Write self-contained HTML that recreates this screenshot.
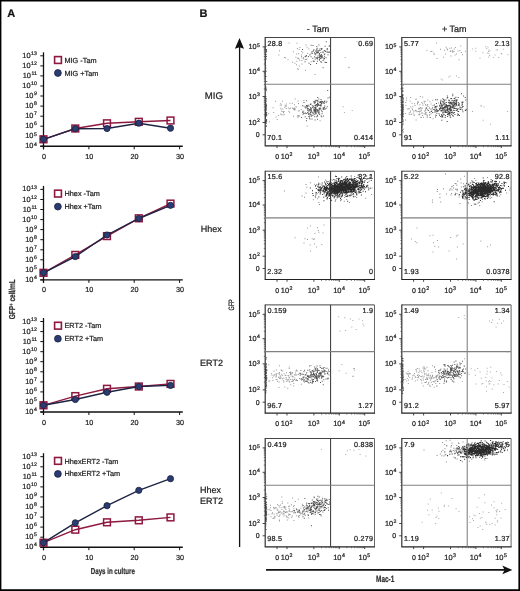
<!DOCTYPE html>
<html><head><meta charset="utf-8"><style>html,body{margin:0;padding:0;background:#fff}svg{display:block;will-change:transform;filter:blur(0.3px)} text{stroke:#222;stroke-width:0.22px;text-rendering:geometricPrecision}</style></head><body>
<svg width="520" height="591" viewBox="0 0 520 591" font-family='"Liberation Sans", sans-serif'>
<rect x="0" y="0" width="520" height="591" fill="#fff"/>
<path d="M0 0H520V591H0Z M1.4 1.5V589.3H518.4V1.5Z" fill="#000" fill-rule="evenodd"/>
<text x="7.2" y="17" font-size="11" font-weight="bold" fill="#111">A</text>
<text x="199.5" y="17.1" font-size="11" font-weight="bold" fill="#111">B</text>
<line x1="43.5" y1="52.3" x2="43.5" y2="149.3" stroke="#111" stroke-width="1.3"/>
<line x1="40.3" y1="146.3" x2="182.8" y2="146.3" stroke="#111" stroke-width="1.4"/>
<line x1="40.3" y1="55.8" x2="43.5" y2="55.8" stroke="#111" stroke-width="1"/>
<text x="36.9" y="57.8" text-anchor="end" font-size="7.4" fill="#222">10<tspan dx="0.6" dy="-2.8" font-size="5.2">13</tspan></text>
<line x1="40.3" y1="65.9" x2="43.5" y2="65.9" stroke="#111" stroke-width="1"/>
<text x="36.9" y="67.9" text-anchor="end" font-size="7.4" fill="#222">10<tspan dx="0.6" dy="-2.8" font-size="5.2">12</tspan></text>
<line x1="40.3" y1="75.9" x2="43.5" y2="75.9" stroke="#111" stroke-width="1"/>
<text x="36.9" y="77.9" text-anchor="end" font-size="7.4" fill="#222">10<tspan dx="0.6" dy="-2.8" font-size="5.2">11</tspan></text>
<line x1="40.3" y1="86.0" x2="43.5" y2="86.0" stroke="#111" stroke-width="1"/>
<text x="36.9" y="88.0" text-anchor="end" font-size="7.4" fill="#222">10<tspan dx="0.6" dy="-2.8" font-size="5.2">10</tspan></text>
<line x1="40.3" y1="96.0" x2="43.5" y2="96.0" stroke="#111" stroke-width="1"/>
<text x="36.9" y="98.0" text-anchor="end" font-size="7.4" fill="#222">10<tspan dx="0.6" dy="-2.8" font-size="5.2">9</tspan></text>
<line x1="40.3" y1="106.1" x2="43.5" y2="106.1" stroke="#111" stroke-width="1"/>
<text x="36.9" y="108.1" text-anchor="end" font-size="7.4" fill="#222">10<tspan dx="0.6" dy="-2.8" font-size="5.2">8</tspan></text>
<line x1="40.3" y1="116.2" x2="43.5" y2="116.2" stroke="#111" stroke-width="1"/>
<text x="36.9" y="118.2" text-anchor="end" font-size="7.4" fill="#222">10<tspan dx="0.6" dy="-2.8" font-size="5.2">7</tspan></text>
<line x1="40.3" y1="126.2" x2="43.5" y2="126.2" stroke="#111" stroke-width="1"/>
<text x="36.9" y="128.2" text-anchor="end" font-size="7.4" fill="#222">10<tspan dx="0.6" dy="-2.8" font-size="5.2">6</tspan></text>
<line x1="40.3" y1="136.3" x2="43.5" y2="136.3" stroke="#111" stroke-width="1"/>
<text x="36.9" y="138.3" text-anchor="end" font-size="7.4" fill="#222">10<tspan dx="0.6" dy="-2.8" font-size="5.2">5</tspan></text>
<line x1="40.3" y1="146.3" x2="43.5" y2="146.3" stroke="#111" stroke-width="1"/>
<text x="36.9" y="148.3" text-anchor="end" font-size="7.4" fill="#222">10<tspan dx="0.6" dy="-2.8" font-size="5.2">4</tspan></text>
<line x1="43.5" y1="146.3" x2="43.5" y2="149.3" stroke="#111" stroke-width="1"/>
<text x="43.9" y="158.8" text-anchor="middle" font-size="7.2" fill="#222">0</text>
<line x1="88.9" y1="146.3" x2="88.9" y2="149.3" stroke="#111" stroke-width="1"/>
<text x="89.3" y="158.8" text-anchor="middle" font-size="7.2" fill="#222">10</text>
<line x1="134.2" y1="146.3" x2="134.2" y2="149.3" stroke="#111" stroke-width="1"/>
<text x="134.6" y="158.8" text-anchor="middle" font-size="7.2" fill="#222">20</text>
<line x1="179.6" y1="146.3" x2="179.6" y2="149.3" stroke="#111" stroke-width="1"/>
<text x="180.0" y="158.8" text-anchor="middle" font-size="7.2" fill="#222">30</text>
<polyline points="43.5,139.3 75.3,128.5 107.0,123.3 138.8,121.8 170.5,120.5" fill="none" stroke="#8e1840" stroke-width="1.4"/>
<rect x="40.1" y="135.9" width="6.8" height="6.8" fill="none" stroke="#8e1840" stroke-width="1.5"/>
<rect x="71.9" y="125.1" width="6.8" height="6.8" fill="none" stroke="#8e1840" stroke-width="1.5"/>
<rect x="103.6" y="119.9" width="6.8" height="6.8" fill="none" stroke="#8e1840" stroke-width="1.5"/>
<rect x="135.4" y="118.4" width="6.8" height="6.8" fill="none" stroke="#8e1840" stroke-width="1.5"/>
<rect x="167.1" y="117.1" width="6.8" height="6.8" fill="none" stroke="#8e1840" stroke-width="1.5"/>
<polyline points="43.5,139.3 75.3,128.7 107.0,128.5 138.8,123.2 170.5,128.2" fill="none" stroke="#1d2444" stroke-width="1.4"/>
<circle cx="43.5" cy="139.3" r="3.1" fill="#2b3c72" stroke="#18203f" stroke-width="0.8"/>
<circle cx="75.3" cy="128.7" r="3.1" fill="#2b3c72" stroke="#18203f" stroke-width="0.8"/>
<circle cx="107.0" cy="128.5" r="3.1" fill="#2b3c72" stroke="#18203f" stroke-width="0.8"/>
<circle cx="138.8" cy="123.2" r="3.1" fill="#2b3c72" stroke="#18203f" stroke-width="0.8"/>
<circle cx="170.5" cy="128.2" r="3.1" fill="#2b3c72" stroke="#18203f" stroke-width="0.8"/>
<rect x="54.6" y="56.6" width="6.8" height="6.8" fill="#fff" stroke="#8e1840" stroke-width="1.6"/>
<text x="64.5" y="62.6" font-size="7.3" fill="#222">MIG -Tam</text>
<circle cx="57.9" cy="73.0" r="3.4" fill="#2b3c72" stroke="#18203f" stroke-width="0.8"/>
<text x="64.5" y="75.5" font-size="7.3" fill="#222">MIG +Tam</text>
<line x1="43.5" y1="185.9" x2="43.5" y2="282.9" stroke="#111" stroke-width="1.3"/>
<line x1="40.3" y1="279.9" x2="182.8" y2="279.9" stroke="#111" stroke-width="1.4"/>
<line x1="40.3" y1="189.4" x2="43.5" y2="189.4" stroke="#111" stroke-width="1"/>
<text x="36.9" y="191.4" text-anchor="end" font-size="7.4" fill="#222">10<tspan dx="0.6" dy="-2.8" font-size="5.2">13</tspan></text>
<line x1="40.3" y1="199.5" x2="43.5" y2="199.5" stroke="#111" stroke-width="1"/>
<text x="36.9" y="201.5" text-anchor="end" font-size="7.4" fill="#222">10<tspan dx="0.6" dy="-2.8" font-size="5.2">12</tspan></text>
<line x1="40.3" y1="209.5" x2="43.5" y2="209.5" stroke="#111" stroke-width="1"/>
<text x="36.9" y="211.5" text-anchor="end" font-size="7.4" fill="#222">10<tspan dx="0.6" dy="-2.8" font-size="5.2">11</tspan></text>
<line x1="40.3" y1="219.6" x2="43.5" y2="219.6" stroke="#111" stroke-width="1"/>
<text x="36.9" y="221.6" text-anchor="end" font-size="7.4" fill="#222">10<tspan dx="0.6" dy="-2.8" font-size="5.2">10</tspan></text>
<line x1="40.3" y1="229.6" x2="43.5" y2="229.6" stroke="#111" stroke-width="1"/>
<text x="36.9" y="231.6" text-anchor="end" font-size="7.4" fill="#222">10<tspan dx="0.6" dy="-2.8" font-size="5.2">9</tspan></text>
<line x1="40.3" y1="239.7" x2="43.5" y2="239.7" stroke="#111" stroke-width="1"/>
<text x="36.9" y="241.7" text-anchor="end" font-size="7.4" fill="#222">10<tspan dx="0.6" dy="-2.8" font-size="5.2">8</tspan></text>
<line x1="40.3" y1="249.8" x2="43.5" y2="249.8" stroke="#111" stroke-width="1"/>
<text x="36.9" y="251.8" text-anchor="end" font-size="7.4" fill="#222">10<tspan dx="0.6" dy="-2.8" font-size="5.2">7</tspan></text>
<line x1="40.3" y1="259.8" x2="43.5" y2="259.8" stroke="#111" stroke-width="1"/>
<text x="36.9" y="261.8" text-anchor="end" font-size="7.4" fill="#222">10<tspan dx="0.6" dy="-2.8" font-size="5.2">6</tspan></text>
<line x1="40.3" y1="269.9" x2="43.5" y2="269.9" stroke="#111" stroke-width="1"/>
<text x="36.9" y="271.9" text-anchor="end" font-size="7.4" fill="#222">10<tspan dx="0.6" dy="-2.8" font-size="5.2">5</tspan></text>
<line x1="40.3" y1="279.9" x2="43.5" y2="279.9" stroke="#111" stroke-width="1"/>
<text x="36.9" y="281.9" text-anchor="end" font-size="7.4" fill="#222">10<tspan dx="0.6" dy="-2.8" font-size="5.2">4</tspan></text>
<line x1="43.5" y1="279.9" x2="43.5" y2="282.9" stroke="#111" stroke-width="1"/>
<text x="43.9" y="292.4" text-anchor="middle" font-size="7.2" fill="#222">0</text>
<line x1="88.9" y1="279.9" x2="88.9" y2="282.9" stroke="#111" stroke-width="1"/>
<text x="89.3" y="292.4" text-anchor="middle" font-size="7.2" fill="#222">10</text>
<line x1="134.2" y1="279.9" x2="134.2" y2="282.9" stroke="#111" stroke-width="1"/>
<text x="134.6" y="292.4" text-anchor="middle" font-size="7.2" fill="#222">20</text>
<line x1="179.6" y1="279.9" x2="179.6" y2="282.9" stroke="#111" stroke-width="1"/>
<text x="180.0" y="292.4" text-anchor="middle" font-size="7.2" fill="#222">30</text>
<polyline points="43.5,272.8 75.3,254.9 107.0,236.1 138.8,218.3 170.5,203.6" fill="none" stroke="#8e1840" stroke-width="1.4"/>
<rect x="40.1" y="269.4" width="6.8" height="6.8" fill="none" stroke="#8e1840" stroke-width="1.5"/>
<rect x="71.9" y="251.5" width="6.8" height="6.8" fill="none" stroke="#8e1840" stroke-width="1.5"/>
<rect x="103.6" y="232.7" width="6.8" height="6.8" fill="none" stroke="#8e1840" stroke-width="1.5"/>
<rect x="135.4" y="214.9" width="6.8" height="6.8" fill="none" stroke="#8e1840" stroke-width="1.5"/>
<rect x="167.1" y="200.2" width="6.8" height="6.8" fill="none" stroke="#8e1840" stroke-width="1.5"/>
<polyline points="43.5,272.8 75.3,256.6 107.0,235.0 138.8,218.5 170.5,205.3" fill="none" stroke="#1d2444" stroke-width="1.4"/>
<circle cx="43.5" cy="272.8" r="3.1" fill="#2b3c72" stroke="#18203f" stroke-width="0.8"/>
<circle cx="75.3" cy="256.6" r="3.1" fill="#2b3c72" stroke="#18203f" stroke-width="0.8"/>
<circle cx="107.0" cy="235.0" r="3.1" fill="#2b3c72" stroke="#18203f" stroke-width="0.8"/>
<circle cx="138.8" cy="218.5" r="3.1" fill="#2b3c72" stroke="#18203f" stroke-width="0.8"/>
<circle cx="170.5" cy="205.3" r="3.1" fill="#2b3c72" stroke="#18203f" stroke-width="0.8"/>
<rect x="54.6" y="190.2" width="6.8" height="6.8" fill="#fff" stroke="#8e1840" stroke-width="1.6"/>
<text x="64.5" y="196.2" font-size="7.3" fill="#222">Hhex -Tam</text>
<circle cx="57.9" cy="206.6" r="3.4" fill="#2b3c72" stroke="#18203f" stroke-width="0.8"/>
<text x="64.5" y="209.1" font-size="7.3" fill="#222">Hhex +Tam</text>
<line x1="43.5" y1="318.0" x2="43.5" y2="415.0" stroke="#111" stroke-width="1.3"/>
<line x1="40.3" y1="412.0" x2="182.8" y2="412.0" stroke="#111" stroke-width="1.4"/>
<line x1="40.3" y1="321.5" x2="43.5" y2="321.5" stroke="#111" stroke-width="1"/>
<text x="36.9" y="323.5" text-anchor="end" font-size="7.4" fill="#222">10<tspan dx="0.6" dy="-2.8" font-size="5.2">13</tspan></text>
<line x1="40.3" y1="331.6" x2="43.5" y2="331.6" stroke="#111" stroke-width="1"/>
<text x="36.9" y="333.6" text-anchor="end" font-size="7.4" fill="#222">10<tspan dx="0.6" dy="-2.8" font-size="5.2">12</tspan></text>
<line x1="40.3" y1="341.6" x2="43.5" y2="341.6" stroke="#111" stroke-width="1"/>
<text x="36.9" y="343.6" text-anchor="end" font-size="7.4" fill="#222">10<tspan dx="0.6" dy="-2.8" font-size="5.2">11</tspan></text>
<line x1="40.3" y1="351.7" x2="43.5" y2="351.7" stroke="#111" stroke-width="1"/>
<text x="36.9" y="353.7" text-anchor="end" font-size="7.4" fill="#222">10<tspan dx="0.6" dy="-2.8" font-size="5.2">10</tspan></text>
<line x1="40.3" y1="361.7" x2="43.5" y2="361.7" stroke="#111" stroke-width="1"/>
<text x="36.9" y="363.7" text-anchor="end" font-size="7.4" fill="#222">10<tspan dx="0.6" dy="-2.8" font-size="5.2">9</tspan></text>
<line x1="40.3" y1="371.8" x2="43.5" y2="371.8" stroke="#111" stroke-width="1"/>
<text x="36.9" y="373.8" text-anchor="end" font-size="7.4" fill="#222">10<tspan dx="0.6" dy="-2.8" font-size="5.2">8</tspan></text>
<line x1="40.3" y1="381.9" x2="43.5" y2="381.9" stroke="#111" stroke-width="1"/>
<text x="36.9" y="383.9" text-anchor="end" font-size="7.4" fill="#222">10<tspan dx="0.6" dy="-2.8" font-size="5.2">7</tspan></text>
<line x1="40.3" y1="391.9" x2="43.5" y2="391.9" stroke="#111" stroke-width="1"/>
<text x="36.9" y="393.9" text-anchor="end" font-size="7.4" fill="#222">10<tspan dx="0.6" dy="-2.8" font-size="5.2">6</tspan></text>
<line x1="40.3" y1="402.0" x2="43.5" y2="402.0" stroke="#111" stroke-width="1"/>
<text x="36.9" y="404.0" text-anchor="end" font-size="7.4" fill="#222">10<tspan dx="0.6" dy="-2.8" font-size="5.2">5</tspan></text>
<line x1="40.3" y1="412.0" x2="43.5" y2="412.0" stroke="#111" stroke-width="1"/>
<text x="36.9" y="414.0" text-anchor="end" font-size="7.4" fill="#222">10<tspan dx="0.6" dy="-2.8" font-size="5.2">4</tspan></text>
<line x1="43.5" y1="412.0" x2="43.5" y2="415.0" stroke="#111" stroke-width="1"/>
<text x="43.9" y="424.5" text-anchor="middle" font-size="7.2" fill="#222">0</text>
<line x1="88.9" y1="412.0" x2="88.9" y2="415.0" stroke="#111" stroke-width="1"/>
<text x="89.3" y="424.5" text-anchor="middle" font-size="7.2" fill="#222">10</text>
<line x1="134.2" y1="412.0" x2="134.2" y2="415.0" stroke="#111" stroke-width="1"/>
<text x="134.6" y="424.5" text-anchor="middle" font-size="7.2" fill="#222">20</text>
<line x1="179.6" y1="412.0" x2="179.6" y2="415.0" stroke="#111" stroke-width="1"/>
<text x="180.0" y="424.5" text-anchor="middle" font-size="7.2" fill="#222">30</text>
<polyline points="43.5,405.3 75.3,396.1 107.0,388.8 138.8,386.5 170.5,383.9" fill="none" stroke="#8e1840" stroke-width="1.4"/>
<rect x="40.1" y="401.9" width="6.8" height="6.8" fill="none" stroke="#8e1840" stroke-width="1.5"/>
<rect x="71.9" y="392.7" width="6.8" height="6.8" fill="none" stroke="#8e1840" stroke-width="1.5"/>
<rect x="103.6" y="385.4" width="6.8" height="6.8" fill="none" stroke="#8e1840" stroke-width="1.5"/>
<rect x="135.4" y="383.1" width="6.8" height="6.8" fill="none" stroke="#8e1840" stroke-width="1.5"/>
<rect x="167.1" y="380.5" width="6.8" height="6.8" fill="none" stroke="#8e1840" stroke-width="1.5"/>
<polyline points="43.5,405.3 75.3,399.5 107.0,392.3 138.8,386.5 170.5,385.4" fill="none" stroke="#1d2444" stroke-width="1.4"/>
<circle cx="43.5" cy="405.3" r="3.1" fill="#2b3c72" stroke="#18203f" stroke-width="0.8"/>
<circle cx="75.3" cy="399.5" r="3.1" fill="#2b3c72" stroke="#18203f" stroke-width="0.8"/>
<circle cx="107.0" cy="392.3" r="3.1" fill="#2b3c72" stroke="#18203f" stroke-width="0.8"/>
<circle cx="138.8" cy="386.5" r="3.1" fill="#2b3c72" stroke="#18203f" stroke-width="0.8"/>
<circle cx="170.5" cy="385.4" r="3.1" fill="#2b3c72" stroke="#18203f" stroke-width="0.8"/>
<rect x="54.6" y="322.3" width="6.8" height="6.8" fill="#fff" stroke="#8e1840" stroke-width="1.6"/>
<text x="64.5" y="328.3" font-size="7.3" fill="#222">ERT2 -Tam</text>
<circle cx="57.9" cy="338.7" r="3.4" fill="#2b3c72" stroke="#18203f" stroke-width="0.8"/>
<text x="64.5" y="341.2" font-size="7.3" fill="#222">ERT2 +Tam</text>
<line x1="43.5" y1="453.2" x2="43.5" y2="550.2" stroke="#111" stroke-width="1.3"/>
<line x1="40.3" y1="547.2" x2="182.8" y2="547.2" stroke="#111" stroke-width="1.4"/>
<line x1="40.3" y1="456.7" x2="43.5" y2="456.7" stroke="#111" stroke-width="1"/>
<text x="36.9" y="458.7" text-anchor="end" font-size="7.4" fill="#222">10<tspan dx="0.6" dy="-2.8" font-size="5.2">13</tspan></text>
<line x1="40.3" y1="466.8" x2="43.5" y2="466.8" stroke="#111" stroke-width="1"/>
<text x="36.9" y="468.8" text-anchor="end" font-size="7.4" fill="#222">10<tspan dx="0.6" dy="-2.8" font-size="5.2">12</tspan></text>
<line x1="40.3" y1="476.8" x2="43.5" y2="476.8" stroke="#111" stroke-width="1"/>
<text x="36.9" y="478.8" text-anchor="end" font-size="7.4" fill="#222">10<tspan dx="0.6" dy="-2.8" font-size="5.2">11</tspan></text>
<line x1="40.3" y1="486.9" x2="43.5" y2="486.9" stroke="#111" stroke-width="1"/>
<text x="36.9" y="488.9" text-anchor="end" font-size="7.4" fill="#222">10<tspan dx="0.6" dy="-2.8" font-size="5.2">10</tspan></text>
<line x1="40.3" y1="496.9" x2="43.5" y2="496.9" stroke="#111" stroke-width="1"/>
<text x="36.9" y="498.9" text-anchor="end" font-size="7.4" fill="#222">10<tspan dx="0.6" dy="-2.8" font-size="5.2">9</tspan></text>
<line x1="40.3" y1="507.0" x2="43.5" y2="507.0" stroke="#111" stroke-width="1"/>
<text x="36.9" y="509.0" text-anchor="end" font-size="7.4" fill="#222">10<tspan dx="0.6" dy="-2.8" font-size="5.2">8</tspan></text>
<line x1="40.3" y1="517.1" x2="43.5" y2="517.1" stroke="#111" stroke-width="1"/>
<text x="36.9" y="519.1" text-anchor="end" font-size="7.4" fill="#222">10<tspan dx="0.6" dy="-2.8" font-size="5.2">7</tspan></text>
<line x1="40.3" y1="527.1" x2="43.5" y2="527.1" stroke="#111" stroke-width="1"/>
<text x="36.9" y="529.1" text-anchor="end" font-size="7.4" fill="#222">10<tspan dx="0.6" dy="-2.8" font-size="5.2">6</tspan></text>
<line x1="40.3" y1="537.2" x2="43.5" y2="537.2" stroke="#111" stroke-width="1"/>
<text x="36.9" y="539.2" text-anchor="end" font-size="7.4" fill="#222">10<tspan dx="0.6" dy="-2.8" font-size="5.2">5</tspan></text>
<line x1="40.3" y1="547.2" x2="43.5" y2="547.2" stroke="#111" stroke-width="1"/>
<text x="36.9" y="549.2" text-anchor="end" font-size="7.4" fill="#222">10<tspan dx="0.6" dy="-2.8" font-size="5.2">4</tspan></text>
<line x1="43.5" y1="547.2" x2="43.5" y2="550.2" stroke="#111" stroke-width="1"/>
<text x="43.9" y="559.7" text-anchor="middle" font-size="7.2" fill="#222">0</text>
<line x1="88.9" y1="547.2" x2="88.9" y2="550.2" stroke="#111" stroke-width="1"/>
<text x="89.3" y="559.7" text-anchor="middle" font-size="7.2" fill="#222">10</text>
<line x1="134.2" y1="547.2" x2="134.2" y2="550.2" stroke="#111" stroke-width="1"/>
<text x="134.6" y="559.7" text-anchor="middle" font-size="7.2" fill="#222">20</text>
<line x1="179.6" y1="547.2" x2="179.6" y2="550.2" stroke="#111" stroke-width="1"/>
<text x="180.0" y="559.7" text-anchor="middle" font-size="7.2" fill="#222">30</text>
<polyline points="43.5,542.7 75.3,529.7 107.0,522.3 138.8,520.3 170.5,517.4" fill="none" stroke="#8e1840" stroke-width="1.4"/>
<rect x="40.1" y="539.3" width="6.8" height="6.8" fill="none" stroke="#8e1840" stroke-width="1.5"/>
<rect x="71.9" y="526.3" width="6.8" height="6.8" fill="none" stroke="#8e1840" stroke-width="1.5"/>
<rect x="103.6" y="518.9" width="6.8" height="6.8" fill="none" stroke="#8e1840" stroke-width="1.5"/>
<rect x="135.4" y="516.9" width="6.8" height="6.8" fill="none" stroke="#8e1840" stroke-width="1.5"/>
<rect x="167.1" y="514.0" width="6.8" height="6.8" fill="none" stroke="#8e1840" stroke-width="1.5"/>
<polyline points="43.5,542.7 75.3,522.8 107.0,505.7 138.8,490.3 170.5,478.7" fill="none" stroke="#1d2444" stroke-width="1.4"/>
<circle cx="43.5" cy="542.7" r="3.1" fill="#2b3c72" stroke="#18203f" stroke-width="0.8"/>
<circle cx="75.3" cy="522.8" r="3.1" fill="#2b3c72" stroke="#18203f" stroke-width="0.8"/>
<circle cx="107.0" cy="505.7" r="3.1" fill="#2b3c72" stroke="#18203f" stroke-width="0.8"/>
<circle cx="138.8" cy="490.3" r="3.1" fill="#2b3c72" stroke="#18203f" stroke-width="0.8"/>
<circle cx="170.5" cy="478.7" r="3.1" fill="#2b3c72" stroke="#18203f" stroke-width="0.8"/>
<rect x="54.6" y="457.5" width="6.8" height="6.8" fill="#fff" stroke="#8e1840" stroke-width="1.6"/>
<text x="64.5" y="463.5" font-size="7.3" fill="#222">HhexERT2 -Tam</text>
<circle cx="57.9" cy="473.9" r="3.4" fill="#2b3c72" stroke="#18203f" stroke-width="0.8"/>
<text x="64.5" y="476.4" font-size="7.3" fill="#222">HhexERT2 +Tam</text>
<text transform="translate(15.2,319.2) rotate(-90)" font-size="8.6" font-weight="bold" fill="#333" textLength="40" lengthAdjust="spacingAndGlyphs">GFP<tspan dy="-2.5" font-size="5.5">+</tspan><tspan dy="2.5"> cell/mL</tspan></text>
<text x="90.8" y="573.5" font-size="8.6" font-weight="bold" fill="#333" textLength="44" lengthAdjust="spacingAndGlyphs">Days in culture</text>
<text x="306.8" y="31.6" font-size="9" fill="#222">- Tam</text>
<text x="442.0" y="31.6" font-size="9" fill="#222">+ Tam</text>
<path d="M347.9 66.7h1v1h-1zM348.8 67.3h1v1h-1zM356.4 41.3h1v1h-1zM344.7 57.0h1v1h-1zM342.7 106.2h1v1h-1zM343.9 112.0h1v1h-1zM351.7 110.1h1v1h-1z" fill="#aaa" />
<path d="M312.8 108.2h1v1h-1zM304.1 113.0h1v1h-1zM287.9 107.6h1v1h-1zM283.8 114.0h1v1h-1zM283.0 112.3h1v1h-1zM285.9 103.6h1v1h-1zM297.5 116.7h1v1h-1zM302.5 110.6h1v1h-1zM268.2 113.2h1v1h-1zM293.0 115.8h1v1h-1zM281.0 104.6h1v1h-1zM300.7 109.1h1v1h-1zM303.3 105.4h1v1h-1zM284.6 104.8h1v1h-1zM288.3 110.8h1v1h-1zM282.7 111.2h1v1h-1zM297.5 116.2h1v1h-1zM275.5 116.4h1v1h-1zM280.8 109.4h1v1h-1zM285.7 105.3h1v1h-1zM306.7 125.5h1v1h-1zM319.6 120.2h1v1h-1zM293.4 109.0h1v1h-1zM279.7 104.8h1v1h-1zM294.0 107.4h1v1h-1zM283.6 110.9h1v1h-1zM298.3 115.2h1v1h-1zM280.9 114.3h1v1h-1zM289.1 111.7h1v1h-1zM293.0 108.3h1v1h-1zM298.9 110.3h1v1h-1zM292.4 107.9h1v1h-1zM307.1 109.9h1v1h-1zM294.6 109.0h1v1h-1zM273.2 112.1h1v1h-1zM303.4 100.1h1v1h-1zM290.0 107.8h1v1h-1zM285.8 108.0h1v1h-1zM309.8 103.8h1v1h-1zM282.3 108.6h1v1h-1zM294.0 104.2h1v1h-1zM285.4 106.2h1v1h-1zM308.1 108.1h1v1h-1zM289.2 108.2h1v1h-1zM295.8 106.6h1v1h-1zM277.9 115.0h1v1h-1zM309.0 110.5h1v1h-1zM281.4 111.1h1v1h-1zM303.2 110.7h1v1h-1zM305.5 106.2h1v1h-1zM306.8 105.1h1v1h-1zM313.2 113.7h1v1h-1zM280.3 107.7h1v1h-1zM297.6 100.6h1v1h-1zM294.7 98.5h1v1h-1zM297.8 110.6h1v1h-1zM305.3 105.8h1v1h-1zM294.4 109.2h1v1h-1zM284.2 106.8h1v1h-1zM292.1 107.5h1v1h-1zM310.1 108.6h1v1h-1zM280.2 103.3h1v1h-1zM294.1 109.4h1v1h-1zM282.4 114.4h1v1h-1zM305.4 113.0h1v1h-1zM275.1 100.8h1v1h-1zM289.4 102.8h1v1h-1zM291.8 102.8h1v1h-1zM294.5 108.3h1v1h-1zM319.2 113.8h1v1h-1zM310.3 111.1h1v1h-1zM281.9 100.7h1v1h-1zM317.0 109.8h1v1h-1zM280.1 113.5h1v1h-1zM272.6 107.3h1v1h-1zM276.7 119.0h1v1h-1zM295.4 106.2h1v1h-1zM299.1 115.4h1v1h-1zM268.9 121.3h1v1h-1zM298.0 103.1h1v1h-1zM298.9 65.5h1v1h-1zM310.7 61.2h1v1h-1zM307.1 52.9h1v1h-1zM295.9 64.3h1v1h-1zM309.9 53.4h1v1h-1zM278.4 54.6h1v1h-1zM297.2 57.8h1v1h-1zM298.7 49.0h1v1h-1zM314.6 74.0h1v1h-1zM294.4 62.8h1v1h-1zM284.1 56.9h1v1h-1zM302.2 52.2h1v1h-1zM318.9 48.6h1v1h-1zM298.0 57.8h1v1h-1zM299.2 59.7h1v1h-1zM298.1 53.2h1v1h-1zM300.9 54.4h1v1h-1zM314.7 58.9h1v1h-1zM321.9 55.2h1v1h-1zM305.5 44.4h1v1h-1zM299.2 59.5h1v1h-1zM320.7 57.0h1v1h-1zM301.4 59.9h1v1h-1zM301.1 51.0h1v1h-1zM296.4 42.8h1v1h-1zM296.9 48.1h1v1h-1zM303.0 57.3h1v1h-1zM297.2 68.0h1v1h-1zM305.0 69.7h1v1h-1zM301.4 57.4h1v1h-1zM306.5 46.8h1v1h-1zM296.2 53.5h1v1h-1zM298.2 58.2h1v1h-1zM303.1 58.2h1v1h-1zM301.1 56.1h1v1h-1zM301.5 63.6h1v1h-1zM313.2 50.1h1v1h-1zM288.6 42.5h1v1h-1zM279.0 50.3h1v1h-1zM308.4 48.6h1v1h-1zM297.7 68.9h1v1h-1zM315.2 54.4h1v1h-1zM299.4 47.0h1v1h-1zM287.5 59.2h1v1h-1zM324.5 61.6h1v1h-1zM304.8 55.8h1v1h-1zM295.4 56.7h1v1h-1zM292.1 61.7h1v1h-1zM306.6 58.6h1v1h-1zM292.9 51.3h1v1h-1zM304.7 59.1h1v1h-1zM313.2 61.1h1v1h-1zM285.1 57.6h1v1h-1zM296.4 60.8h1v1h-1zM305.6 59.0h1v1h-1z" fill="#999" />
<path d="M305.9 100.3h1v1h-1zM323.4 102.1h1v1h-1zM309.5 113.1h1v1h-1zM313.5 110.7h1v1h-1zM314.7 107.7h1v1h-1zM310.4 107.9h1v1h-1zM306.3 118.0h1v1h-1zM319.4 108.0h1v1h-1zM317.5 111.4h1v1h-1zM302.5 113.7h1v1h-1zM321.5 113.2h1v1h-1zM310.3 103.8h1v1h-1zM321.1 100.7h1v1h-1zM312.2 107.0h1v1h-1zM314.8 104.8h1v1h-1zM320.3 103.9h1v1h-1zM307.0 107.8h1v1h-1zM318.9 111.4h1v1h-1zM324.3 105.5h1v1h-1zM323.8 107.0h1v1h-1zM313.3 101.3h1v1h-1zM321.1 102.3h1v1h-1zM304.7 116.2h1v1h-1zM314.2 102.8h1v1h-1zM318.1 112.5h1v1h-1zM306.5 106.0h1v1h-1zM314.7 109.5h1v1h-1zM326.4 100.7h1v1h-1zM320.3 102.3h1v1h-1zM320.6 105.2h1v1h-1zM309.0 117.6h1v1h-1zM307.3 108.7h1v1h-1zM306.0 120.2h1v1h-1zM318.7 104.8h1v1h-1zM320.1 101.1h1v1h-1zM310.9 109.7h1v1h-1zM307.2 108.6h1v1h-1zM316.9 115.5h1v1h-1zM317.2 111.3h1v1h-1zM314.3 113.7h1v1h-1zM323.5 108.4h1v1h-1zM314.6 119.5h1v1h-1zM314.8 111.8h1v1h-1zM308.0 112.7h1v1h-1zM316.1 103.9h1v1h-1zM324.0 101.1h1v1h-1zM315.6 108.7h1v1h-1zM315.7 112.4h1v1h-1zM318.0 112.3h1v1h-1zM317.0 103.1h1v1h-1zM318.6 109.4h1v1h-1zM318.7 107.8h1v1h-1zM319.2 101.6h1v1h-1zM310.0 111.9h1v1h-1zM317.2 97.0h1v1h-1zM304.8 112.4h1v1h-1zM316.9 118.8h1v1h-1zM307.0 105.8h1v1h-1zM314.7 108.2h1v1h-1zM318.3 98.4h1v1h-1zM312.5 105.4h1v1h-1zM315.8 111.3h1v1h-1zM304.5 106.5h1v1h-1zM309.6 109.6h1v1h-1zM319.7 105.0h1v1h-1zM307.7 108.6h1v1h-1zM319.4 107.6h1v1h-1zM306.2 113.0h1v1h-1zM309.3 115.5h1v1h-1zM308.1 114.0h1v1h-1zM315.2 105.4h1v1h-1zM318.7 113.4h1v1h-1zM308.3 115.9h1v1h-1zM314.0 101.2h1v1h-1zM325.7 107.8h1v1h-1zM313.1 112.4h1v1h-1zM309.9 114.1h1v1h-1zM317.7 109.7h1v1h-1zM313.7 102.5h1v1h-1zM310.6 108.2h1v1h-1zM303.5 102.1h1v1h-1zM320.5 105.6h1v1h-1zM311.5 118.4h1v1h-1zM315.2 111.1h1v1h-1zM308.3 114.0h1v1h-1zM323.7 103.0h1v1h-1zM320.1 101.8h1v1h-1zM321.6 101.1h1v1h-1zM314.5 108.8h1v1h-1zM318.2 103.4h1v1h-1zM321.0 103.3h1v1h-1zM321.8 111.2h1v1h-1zM317.2 99.9h1v1h-1zM314.8 102.1h1v1h-1zM312.9 106.4h1v1h-1zM310.3 109.0h1v1h-1zM308.9 109.3h1v1h-1zM317.5 100.9h1v1h-1zM313.6 109.4h1v1h-1zM302.2 111.4h1v1h-1zM314.2 109.9h1v1h-1zM322.1 100.9h1v1h-1zM313.4 109.7h1v1h-1zM303.2 112.7h1v1h-1zM314.4 105.2h1v1h-1zM320.3 105.4h1v1h-1zM316.5 105.0h1v1h-1zM312.4 115.1h1v1h-1zM327.2 90.0h1v1h-1zM327.5 97.6h1v1h-1zM314.6 100.4h1v1h-1zM320.5 104.6h1v1h-1zM317.8 104.1h1v1h-1zM320.3 104.6h1v1h-1zM324.6 108.4h1v1h-1zM320.5 98.9h1v1h-1zM315.8 103.9h1v1h-1zM311.0 108.3h1v1h-1zM309.9 104.1h1v1h-1zM315.0 109.7h1v1h-1zM322.7 107.2h1v1h-1zM317.2 104.1h1v1h-1zM315.5 99.8h1v1h-1zM316.9 114.8h1v1h-1zM315.4 110.1h1v1h-1zM318.8 108.8h1v1h-1zM307.9 110.6h1v1h-1zM302.4 111.9h1v1h-1zM312.4 112.7h1v1h-1zM307.7 110.2h1v1h-1zM325.7 101.9h1v1h-1zM314.2 111.6h1v1h-1zM313.6 108.8h1v1h-1zM305.2 107.5h1v1h-1zM317.0 103.3h1v1h-1zM311.1 114.6h1v1h-1zM322.5 108.6h1v1h-1zM320.7 115.4h1v1h-1zM310.2 107.1h1v1h-1zM317.9 103.8h1v1h-1zM297.5 115.3h1v1h-1zM310.8 115.7h1v1h-1zM323.3 108.2h1v1h-1zM320.3 108.4h1v1h-1zM316.3 116.3h1v1h-1zM315.0 104.7h1v1h-1zM306.0 105.1h1v1h-1zM306.4 107.3h1v1h-1zM316.7 106.1h1v1h-1zM326.7 106.2h1v1h-1zM301.1 117.0h1v1h-1zM319.3 108.6h1v1h-1zM319.1 113.8h1v1h-1zM321.4 102.3h1v1h-1zM309.5 118.5h1v1h-1zM311.8 105.3h1v1h-1zM315.5 113.3h1v1h-1zM308.5 105.8h1v1h-1zM307.2 112.0h1v1h-1zM309.5 110.0h1v1h-1zM314.7 110.5h1v1h-1zM317.6 110.7h1v1h-1zM315.0 107.1h1v1h-1zM315.7 107.5h1v1h-1zM310.8 110.5h1v1h-1zM310.5 103.5h1v1h-1zM322.5 102.4h1v1h-1zM314.8 100.7h1v1h-1zM314.7 108.2h1v1h-1zM321.3 116.3h1v1h-1zM323.3 108.9h1v1h-1zM323.5 101.5h1v1h-1zM317.8 103.9h1v1h-1zM314.9 112.6h1v1h-1zM317.1 105.2h1v1h-1zM316.4 100.3h1v1h-1zM324.3 100.5h1v1h-1zM317.1 102.6h1v1h-1zM319.3 102.0h1v1h-1zM315.0 111.2h1v1h-1zM324.1 105.6h1v1h-1zM301.9 105.3h1v1h-1zM317.7 104.8h1v1h-1zM320.1 101.3h1v1h-1zM307.7 104.8h1v1h-1zM329.2 96.8h1v1h-1zM314.2 116.3h1v1h-1zM314.2 106.9h1v1h-1zM308.2 112.8h1v1h-1zM320.9 110.2h1v1h-1zM316.7 105.8h1v1h-1zM311.4 111.6h1v1h-1zM316.7 110.0h1v1h-1zM319.7 107.6h1v1h-1zM323.1 115.5h1v1h-1zM316.6 108.9h1v1h-1zM308.9 108.9h1v1h-1zM311.6 112.1h1v1h-1zM317.3 52.4h1v1h-1zM322.6 52.2h1v1h-1zM308.5 62.7h1v1h-1zM322.6 60.0h1v1h-1zM320.9 57.5h1v1h-1zM316.7 57.0h1v1h-1zM314.2 56.3h1v1h-1zM316.0 63.0h1v1h-1zM317.4 50.9h1v1h-1zM311.6 50.9h1v1h-1zM328.7 51.4h1v1h-1zM312.5 45.1h1v1h-1zM316.6 52.1h1v1h-1zM315.2 53.3h1v1h-1zM316.7 47.8h1v1h-1zM319.8 49.7h1v1h-1zM314.7 57.5h1v1h-1zM317.8 51.9h1v1h-1zM325.5 57.3h1v1h-1zM317.5 49.9h1v1h-1zM324.6 45.7h1v1h-1zM314.6 53.5h1v1h-1zM320.6 55.0h1v1h-1zM310.6 44.7h1v1h-1zM312.3 57.7h1v1h-1zM314.0 52.2h1v1h-1zM326.6 49.3h1v1h-1zM320.6 48.0h1v1h-1zM322.5 51.3h1v1h-1zM320.1 58.0h1v1h-1zM321.4 55.4h1v1h-1zM321.7 56.8h1v1h-1zM323.8 50.1h1v1h-1zM320.2 61.3h1v1h-1zM313.7 60.8h1v1h-1zM314.5 53.7h1v1h-1zM327.7 51.7h1v1h-1zM322.6 67.2h1v1h-1zM309.3 54.5h1v1h-1zM328.7 45.7h1v1h-1zM321.1 61.8h1v1h-1zM318.8 49.7h1v1h-1zM319.3 55.6h1v1h-1zM317.0 57.5h1v1h-1zM329.3 51.8h1v1h-1zM312.8 60.6h1v1h-1zM318.1 51.4h1v1h-1zM321.0 56.2h1v1h-1zM326.9 51.5h1v1h-1zM304.6 61.2h1v1h-1zM324.8 61.9h1v1h-1zM329.2 45.2h1v1h-1zM317.2 51.8h1v1h-1zM318.9 55.2h1v1h-1zM326.7 48.2h1v1h-1zM321.4 48.1h1v1h-1zM311.1 52.6h1v1h-1zM312.1 52.8h1v1h-1zM312.9 50.6h1v1h-1zM310.6 56.3h1v1h-1zM319.1 57.4h1v1h-1zM316.0 57.6h1v1h-1zM319.4 56.6h1v1h-1zM323.4 58.7h1v1h-1zM320.4 52.1h1v1h-1zM307.9 56.1h1v1h-1zM327.5 54.3h1v1h-1zM318.4 44.4h1v1h-1zM326.1 61.9h1v1h-1zM316.4 48.7h1v1h-1zM320.9 54.1h1v1h-1zM318.3 57.1h1v1h-1zM318.9 58.9h1v1h-1zM326.8 47.9h1v1h-1zM315.2 50.8h1v1h-1zM320.1 54.8h1v1h-1zM320.4 55.9h1v1h-1zM316.8 58.4h1v1h-1zM305.9 55.1h1v1h-1zM321.2 48.9h1v1h-1zM302.0 49.0h1v1h-1zM310.1 64.1h1v1h-1zM316.3 46.1h1v1h-1zM321.7 56.3h1v1h-1zM324.3 53.6h1v1h-1zM324.1 56.2h1v1h-1zM322.7 57.5h1v1h-1zM316.9 60.7h1v1h-1zM326.4 51.4h1v1h-1zM317.5 55.5h1v1h-1zM325.8 41.3h1v1h-1zM305.7 55.7h1v1h-1zM313.4 49.2h1v1h-1zM315.6 52.8h1v1h-1zM319.1 59.7h1v1h-1zM304.7 56.3h1v1h-1zM324.0 58.0h1v1h-1zM325.1 50.9h1v1h-1zM323.8 54.3h1v1h-1zM316.0 51.4h1v1h-1zM315.8 49.8h1v1h-1zM324.6 50.6h1v1h-1zM318.8 54.0h1v1h-1zM319.0 53.1h1v1h-1z" fill="#555" />
<path d="M266.1 112.5h1v1h-1zM265.5 106.7h1v1h-1zM266.1 89.7h1v1h-1zM265.2 105.0h1v1h-1zM265.6 88.8h1v1h-1zM265.1 116.3h1v1h-1zM265.0 117.6h1v1h-1zM265.8 105.0h1v1h-1zM265.8 113.6h1v1h-1zM264.9 108.5h1v1h-1zM265.4 107.2h1v1h-1zM265.1 101.9h1v1h-1zM265.1 108.4h1v1h-1zM265.2 104.9h1v1h-1zM266.0 104.6h1v1h-1zM266.0 120.5h1v1h-1zM265.6 109.7h1v1h-1zM265.5 98.1h1v1h-1zM265.6 106.3h1v1h-1zM265.7 108.7h1v1h-1zM265.7 123.0h1v1h-1zM265.2 111.5h1v1h-1zM266.2 112.1h1v1h-1zM266.1 120.7h1v1h-1zM266.0 114.0h1v1h-1zM266.1 120.6h1v1h-1zM265.8 125.2h1v1h-1zM265.8 126.0h1v1h-1zM265.5 103.2h1v1h-1zM265.0 122.1h1v1h-1zM265.3 103.5h1v1h-1zM265.3 111.6h1v1h-1zM265.5 105.5h1v1h-1zM266.0 98.6h1v1h-1zM266.1 119.7h1v1h-1zM265.0 106.5h1v1h-1zM266.1 114.9h1v1h-1zM265.6 113.8h1v1h-1zM265.4 110.2h1v1h-1zM265.5 87.4h1v1h-1zM266.2 114.3h1v1h-1zM265.1 110.9h1v1h-1zM265.2 105.1h1v1h-1zM265.4 115.7h1v1h-1zM265.3 116.0h1v1h-1zM266.0 119.8h1v1h-1zM264.9 111.9h1v1h-1zM265.8 104.4h1v1h-1zM265.4 107.6h1v1h-1zM266.1 119.1h1v1h-1zM265.4 88.0h1v1h-1zM265.7 107.8h1v1h-1zM265.6 119.4h1v1h-1zM265.4 114.1h1v1h-1zM264.9 120.4h1v1h-1zM265.1 114.6h1v1h-1zM265.3 116.1h1v1h-1zM265.0 121.1h1v1h-1zM265.9 105.8h1v1h-1zM265.9 100.5h1v1h-1zM265.8 121.8h1v1h-1zM265.4 96.3h1v1h-1zM265.9 105.6h1v1h-1zM265.7 104.9h1v1h-1zM265.2 101.4h1v1h-1zM265.8 107.8h1v1h-1zM264.9 115.8h1v1h-1zM265.2 113.3h1v1h-1zM265.7 106.1h1v1h-1zM265.0 113.6h1v1h-1zM266.0 49.1h1v1h-1zM265.8 54.2h1v1h-1zM264.9 62.3h1v1h-1zM265.2 65.0h1v1h-1zM266.0 51.5h1v1h-1zM265.7 49.5h1v1h-1zM265.3 86.3h1v1h-1zM265.1 56.5h1v1h-1zM265.2 56.8h1v1h-1zM266.2 80.9h1v1h-1zM266.1 50.4h1v1h-1zM265.2 59.4h1v1h-1zM265.2 56.8h1v1h-1zM265.7 70.7h1v1h-1zM265.5 76.0h1v1h-1zM265.7 58.2h1v1h-1zM265.1 53.4h1v1h-1zM265.5 45.9h1v1h-1zM265.4 67.4h1v1h-1zM265.0 61.7h1v1h-1zM265.9 56.0h1v1h-1zM265.2 101.5h1v1h-1zM265.4 54.2h1v1h-1zM265.3 75.9h1v1h-1z" fill="#555" />
<line x1="265.2" y1="37.5" x2="374.5" y2="37.5" stroke="#444" stroke-width="1"/>
<line x1="374.5" y1="37.5" x2="374.5" y2="145.8" stroke="#666" stroke-width="1"/>
<line x1="264.7" y1="145.8" x2="375.0" y2="145.8" stroke="#222" stroke-width="1.2"/>
<line x1="265.2" y1="37.0" x2="265.2" y2="145.8" stroke="#333" stroke-width="1.2"/>
<line x1="330.6" y1="37.5" x2="330.6" y2="145.8" stroke="#333" stroke-width="1"/>
<line x1="265.2" y1="84.2" x2="374.5" y2="84.2" stroke="#808080" stroke-width="1.1"/>
<line x1="262.6" y1="46.9" x2="265.2" y2="46.9" stroke="#333" stroke-width="0.9"/>
<text x="259.8" y="49.2" text-anchor="end" font-size="7.3" fill="#222">10<tspan dx="0.4" dy="-2.7" font-size="5.2">5</tspan></text>
<line x1="262.6" y1="71.3" x2="265.2" y2="71.3" stroke="#333" stroke-width="0.9"/>
<text x="259.8" y="73.6" text-anchor="end" font-size="7.3" fill="#222">10<tspan dx="0.4" dy="-2.7" font-size="5.2">4</tspan></text>
<line x1="262.6" y1="96.5" x2="265.2" y2="96.5" stroke="#333" stroke-width="0.9"/>
<text x="259.8" y="98.8" text-anchor="end" font-size="7.3" fill="#222">10<tspan dx="0.4" dy="-2.7" font-size="5.2">3</tspan></text>
<line x1="262.6" y1="122.5" x2="265.2" y2="122.5" stroke="#333" stroke-width="0.9"/>
<text x="259.8" y="124.8" text-anchor="end" font-size="7.3" fill="#222">10<tspan dx="0.4" dy="-2.7" font-size="5.2">2</tspan></text>
<line x1="262.6" y1="134.8" x2="265.2" y2="134.8" stroke="#333" stroke-width="0.9"/>
<text x="259.6" y="137.2" text-anchor="end" font-size="7" fill="#222">0</text>
<line x1="263.8" y1="64.0" x2="265.2" y2="64.0" stroke="#444" stroke-width="0.7"/>
<line x1="263.8" y1="59.7" x2="265.2" y2="59.7" stroke="#444" stroke-width="0.7"/>
<line x1="263.8" y1="56.6" x2="265.2" y2="56.6" stroke="#444" stroke-width="0.7"/>
<line x1="263.8" y1="54.2" x2="265.2" y2="54.2" stroke="#444" stroke-width="0.7"/>
<line x1="263.8" y1="52.3" x2="265.2" y2="52.3" stroke="#444" stroke-width="0.7"/>
<line x1="263.8" y1="50.7" x2="265.2" y2="50.7" stroke="#444" stroke-width="0.7"/>
<line x1="263.8" y1="49.3" x2="265.2" y2="49.3" stroke="#444" stroke-width="0.7"/>
<line x1="263.8" y1="48.0" x2="265.2" y2="48.0" stroke="#444" stroke-width="0.7"/>
<line x1="263.8" y1="88.9" x2="265.2" y2="88.9" stroke="#444" stroke-width="0.7"/>
<line x1="263.8" y1="84.5" x2="265.2" y2="84.5" stroke="#444" stroke-width="0.7"/>
<line x1="263.8" y1="81.3" x2="265.2" y2="81.3" stroke="#444" stroke-width="0.7"/>
<line x1="263.8" y1="78.9" x2="265.2" y2="78.9" stroke="#444" stroke-width="0.7"/>
<line x1="263.8" y1="76.9" x2="265.2" y2="76.9" stroke="#444" stroke-width="0.7"/>
<line x1="263.8" y1="75.2" x2="265.2" y2="75.2" stroke="#444" stroke-width="0.7"/>
<line x1="263.8" y1="73.7" x2="265.2" y2="73.7" stroke="#444" stroke-width="0.7"/>
<line x1="263.8" y1="72.5" x2="265.2" y2="72.5" stroke="#444" stroke-width="0.7"/>
<line x1="263.8" y1="114.7" x2="265.2" y2="114.7" stroke="#444" stroke-width="0.7"/>
<line x1="263.8" y1="110.1" x2="265.2" y2="110.1" stroke="#444" stroke-width="0.7"/>
<line x1="263.8" y1="106.8" x2="265.2" y2="106.8" stroke="#444" stroke-width="0.7"/>
<line x1="263.8" y1="104.3" x2="265.2" y2="104.3" stroke="#444" stroke-width="0.7"/>
<line x1="263.8" y1="102.3" x2="265.2" y2="102.3" stroke="#444" stroke-width="0.7"/>
<line x1="263.8" y1="100.5" x2="265.2" y2="100.5" stroke="#444" stroke-width="0.7"/>
<line x1="263.8" y1="99.0" x2="265.2" y2="99.0" stroke="#444" stroke-width="0.7"/>
<line x1="263.8" y1="97.7" x2="265.2" y2="97.7" stroke="#444" stroke-width="0.7"/>
<line x1="277.0" y1="145.8" x2="277.0" y2="148.1" stroke="#333" stroke-width="0.9"/>
<text x="277.3" y="158.9" text-anchor="middle" font-size="7" fill="#222">0</text>
<line x1="287.0" y1="145.8" x2="287.0" y2="148.1" stroke="#333" stroke-width="0.9"/>
<text x="286.7" y="158.9" text-anchor="middle" font-size="7.5" fill="#222">10<tspan dx="0.4" dy="-2.8" font-size="5.3">2</tspan></text>
<line x1="313.9" y1="145.8" x2="313.9" y2="148.1" stroke="#333" stroke-width="0.9"/>
<text x="313.6" y="158.9" text-anchor="middle" font-size="7.5" fill="#222">10<tspan dx="0.4" dy="-2.8" font-size="5.3">3</tspan></text>
<line x1="339.3" y1="145.8" x2="339.3" y2="148.1" stroke="#333" stroke-width="0.9"/>
<text x="339.0" y="158.9" text-anchor="middle" font-size="7.5" fill="#222">10<tspan dx="0.4" dy="-2.8" font-size="5.3">4</tspan></text>
<line x1="364.7" y1="145.8" x2="364.7" y2="148.1" stroke="#333" stroke-width="0.9"/>
<text x="364.4" y="158.9" text-anchor="middle" font-size="7.5" fill="#222">10<tspan dx="0.4" dy="-2.8" font-size="5.3">5</tspan></text>
<line x1="321.5" y1="145.8" x2="321.5" y2="147.2" stroke="#444" stroke-width="0.7"/>
<line x1="326.0" y1="145.8" x2="326.0" y2="147.2" stroke="#444" stroke-width="0.7"/>
<line x1="329.2" y1="145.8" x2="329.2" y2="147.2" stroke="#444" stroke-width="0.7"/>
<line x1="331.7" y1="145.8" x2="331.7" y2="147.2" stroke="#444" stroke-width="0.7"/>
<line x1="333.7" y1="145.8" x2="333.7" y2="147.2" stroke="#444" stroke-width="0.7"/>
<line x1="335.4" y1="145.8" x2="335.4" y2="147.2" stroke="#444" stroke-width="0.7"/>
<line x1="336.8" y1="145.8" x2="336.8" y2="147.2" stroke="#444" stroke-width="0.7"/>
<line x1="338.1" y1="145.8" x2="338.1" y2="147.2" stroke="#444" stroke-width="0.7"/>
<line x1="346.9" y1="145.8" x2="346.9" y2="147.2" stroke="#444" stroke-width="0.7"/>
<line x1="351.4" y1="145.8" x2="351.4" y2="147.2" stroke="#444" stroke-width="0.7"/>
<line x1="354.6" y1="145.8" x2="354.6" y2="147.2" stroke="#444" stroke-width="0.7"/>
<line x1="357.1" y1="145.8" x2="357.1" y2="147.2" stroke="#444" stroke-width="0.7"/>
<line x1="359.1" y1="145.8" x2="359.1" y2="147.2" stroke="#444" stroke-width="0.7"/>
<line x1="360.8" y1="145.8" x2="360.8" y2="147.2" stroke="#444" stroke-width="0.7"/>
<line x1="362.2" y1="145.8" x2="362.2" y2="147.2" stroke="#444" stroke-width="0.7"/>
<line x1="363.5" y1="145.8" x2="363.5" y2="147.2" stroke="#444" stroke-width="0.7"/>
<text x="267.5" y="45.6" font-size="7.2" letter-spacing="0.25" fill="#222">28.8</text>
<text x="373.2" y="45.6" text-anchor="end" font-size="7.2" letter-spacing="0.25" fill="#222">0.69</text>
<text x="267.3" y="140.3" font-size="7.2" letter-spacing="0.25" fill="#222">70.1</text>
<text x="373.2" y="140.3" text-anchor="end" font-size="7.2" letter-spacing="0.25" fill="#222">0.414</text>
<path d="M493.2 56.9h1v1h-1zM486.8 52.4h1v1h-1zM488.5 52.9h1v1h-1zM494.6 54.5h1v1h-1zM496.9 44.8h1v1h-1zM498.2 57.0h1v1h-1zM487.4 46.4h1v1h-1zM497.0 49.3h1v1h-1zM500.7 53.5h1v1h-1zM475.3 47.7h1v1h-1zM485.2 46.2h1v1h-1zM489.1 54.9h1v1h-1zM489.4 50.5h1v1h-1zM507.3 54.3h1v1h-1zM501.2 52.9h1v1h-1zM488.0 50.9h1v1h-1zM488.2 56.5h1v1h-1zM475.4 50.7h1v1h-1zM479.5 57.5h1v1h-1zM502.8 48.8h1v1h-1zM472.2 48.5h1v1h-1zM495.7 49.4h1v1h-1zM482.4 52.2h1v1h-1zM486.3 48.1h1v1h-1zM488.4 49.4h1v1h-1zM458.3 76.9h1v1h-1zM448.2 76.6h1v1h-1zM456.0 75.5h1v1h-1zM449.7 75.4h1v1h-1zM442.1 79.4h1v1h-1zM440.7 78.6h1v1h-1zM489.9 123.7h1v1h-1zM483.5 106.6h1v1h-1zM482.7 119.7h1v1h-1zM506.9 111.1h1v1h-1zM480.9 105.6h1v1h-1zM480.3 105.2h1v1h-1zM472.0 111.0h1v1h-1z" fill="#aaa" />
<path d="M419.4 110.4h1v1h-1zM424.8 114.0h1v1h-1zM415.1 110.2h1v1h-1zM428.7 107.8h1v1h-1zM419.4 113.6h1v1h-1zM422.5 104.7h1v1h-1zM425.1 104.6h1v1h-1zM423.8 102.4h1v1h-1zM413.5 114.5h1v1h-1zM406.0 97.6h1v1h-1zM421.3 102.1h1v1h-1zM415.3 109.7h1v1h-1zM415.7 110.5h1v1h-1zM420.8 117.1h1v1h-1zM413.6 110.6h1v1h-1zM427.4 106.1h1v1h-1zM426.8 115.3h1v1h-1zM411.3 113.8h1v1h-1zM426.4 114.2h1v1h-1zM410.6 113.8h1v1h-1zM430.7 111.0h1v1h-1zM429.4 101.3h1v1h-1zM421.9 103.3h1v1h-1zM432.6 118.2h1v1h-1zM434.2 108.7h1v1h-1zM427.3 99.4h1v1h-1zM423.6 113.2h1v1h-1zM424.4 110.4h1v1h-1zM431.6 108.6h1v1h-1zM410.2 97.0h1v1h-1zM430.4 108.8h1v1h-1zM426.2 107.8h1v1h-1zM426.8 116.8h1v1h-1zM407.2 108.5h1v1h-1zM411.6 108.2h1v1h-1zM435.5 106.3h1v1h-1zM431.8 107.9h1v1h-1zM420.9 109.8h1v1h-1zM434.9 105.9h1v1h-1zM425.1 104.1h1v1h-1zM417.0 102.4h1v1h-1zM403.1 109.1h1v1h-1zM434.0 106.7h1v1h-1zM420.2 106.9h1v1h-1zM424.7 101.0h1v1h-1zM415.4 99.1h1v1h-1zM425.4 113.2h1v1h-1zM418.9 114.3h1v1h-1zM413.1 110.5h1v1h-1zM408.6 107.9h1v1h-1zM424.3 110.7h1v1h-1zM417.5 101.1h1v1h-1zM417.8 101.9h1v1h-1zM418.3 114.3h1v1h-1zM414.1 103.3h1v1h-1zM417.9 108.2h1v1h-1zM414.5 105.1h1v1h-1zM422.1 96.4h1v1h-1zM405.4 105.1h1v1h-1zM408.7 112.5h1v1h-1zM422.1 114.9h1v1h-1zM419.8 96.0h1v1h-1zM423.6 100.7h1v1h-1zM445.7 105.6h1v1h-1zM430.6 113.3h1v1h-1zM435.2 114.5h1v1h-1zM426.7 116.3h1v1h-1zM420.3 116.8h1v1h-1zM412.3 106.3h1v1h-1zM404.9 113.0h1v1h-1zM408.4 108.6h1v1h-1zM402.8 106.7h1v1h-1zM410.2 106.5h1v1h-1zM421.5 113.0h1v1h-1zM416.9 103.4h1v1h-1zM432.3 99.8h1v1h-1zM432.5 105.0h1v1h-1zM433.9 108.9h1v1h-1zM432.0 106.9h1v1h-1zM424.9 107.7h1v1h-1zM415.6 98.5h1v1h-1zM427.1 104.1h1v1h-1zM418.8 113.7h1v1h-1zM419.4 107.5h1v1h-1zM426.6 105.0h1v1h-1zM408.8 114.0h1v1h-1zM425.6 112.1h1v1h-1zM442.9 109.4h1v1h-1zM435.1 110.4h1v1h-1zM405.1 119.5h1v1h-1zM414.1 114.7h1v1h-1zM411.5 102.8h1v1h-1zM444.3 106.7h1v1h-1zM441.0 107.4h1v1h-1zM409.7 111.8h1v1h-1zM417.9 108.5h1v1h-1zM412.0 109.3h1v1h-1zM405.8 99.8h1v1h-1zM418.9 108.0h1v1h-1zM417.9 110.9h1v1h-1zM422.9 116.7h1v1h-1zM424.9 112.2h1v1h-1zM430.1 108.8h1v1h-1zM438.1 102.4h1v1h-1zM420.8 108.2h1v1h-1zM419.3 108.3h1v1h-1zM421.9 107.6h1v1h-1zM427.1 109.0h1v1h-1zM420.2 110.8h1v1h-1zM410.0 110.5h1v1h-1zM415.6 119.4h1v1h-1zM430.6 103.4h1v1h-1zM409.6 100.5h1v1h-1zM431.4 110.2h1v1h-1zM405.2 102.1h1v1h-1zM429.0 107.2h1v1h-1zM428.8 107.8h1v1h-1zM419.3 104.2h1v1h-1zM421.5 112.2h1v1h-1zM419.0 111.4h1v1h-1zM441.8 108.9h1v1h-1zM416.6 111.2h1v1h-1zM413.1 112.6h1v1h-1zM446.5 48.3h1v1h-1zM454.6 54.5h1v1h-1zM450.5 55.4h1v1h-1zM449.3 47.7h1v1h-1zM445.1 53.5h1v1h-1zM464.9 50.8h1v1h-1zM452.2 50.1h1v1h-1zM436.5 57.9h1v1h-1zM453.7 48.4h1v1h-1zM426.4 49.8h1v1h-1zM451.7 51.0h1v1h-1zM456.1 53.5h1v1h-1zM462.0 54.3h1v1h-1zM451.1 47.5h1v1h-1zM442.9 56.7h1v1h-1zM458.5 59.3h1v1h-1zM460.8 51.9h1v1h-1zM447.0 49.2h1v1h-1zM454.9 47.0h1v1h-1zM433.4 52.6h1v1h-1zM453.5 51.0h1v1h-1zM430.4 51.0h1v1h-1zM440.0 48.8h1v1h-1zM436.1 42.4h1v1h-1zM459.5 50.1h1v1h-1zM457.5 50.6h1v1h-1zM443.9 49.8h1v1h-1zM460.3 45.6h1v1h-1zM449.9 50.2h1v1h-1zM431.4 50.7h1v1h-1zM445.7 46.8h1v1h-1zM433.7 53.9h1v1h-1zM449.8 51.1h1v1h-1zM452.4 51.8h1v1h-1z" fill="#999" />
<path d="M442.4 110.0h1v1h-1zM441.7 100.8h1v1h-1zM448.7 108.0h1v1h-1zM440.4 99.7h1v1h-1zM465.3 99.5h1v1h-1zM446.9 114.0h1v1h-1zM447.0 107.9h1v1h-1zM447.7 112.7h1v1h-1zM433.9 104.4h1v1h-1zM436.8 99.2h1v1h-1zM445.5 103.9h1v1h-1zM448.3 113.0h1v1h-1zM438.5 113.2h1v1h-1zM462.1 109.4h1v1h-1zM452.1 105.5h1v1h-1zM458.8 104.5h1v1h-1zM457.9 104.2h1v1h-1zM446.7 121.1h1v1h-1zM449.5 115.1h1v1h-1zM433.3 108.9h1v1h-1zM429.7 117.0h1v1h-1zM448.5 101.7h1v1h-1zM455.5 103.2h1v1h-1zM449.0 108.5h1v1h-1zM462.4 101.6h1v1h-1zM446.1 105.4h1v1h-1zM453.0 105.3h1v1h-1zM454.4 103.2h1v1h-1zM440.2 115.9h1v1h-1zM450.9 111.9h1v1h-1zM451.4 99.7h1v1h-1zM457.3 113.5h1v1h-1zM458.2 104.9h1v1h-1zM456.4 105.3h1v1h-1zM442.4 107.3h1v1h-1zM454.4 110.0h1v1h-1zM457.1 108.8h1v1h-1zM448.7 104.4h1v1h-1zM454.5 106.1h1v1h-1zM454.6 99.6h1v1h-1zM457.9 114.1h1v1h-1zM449.1 102.8h1v1h-1zM452.3 102.0h1v1h-1zM450.0 103.3h1v1h-1zM449.0 107.6h1v1h-1zM443.5 111.5h1v1h-1zM445.7 105.8h1v1h-1zM439.4 108.8h1v1h-1zM446.8 105.7h1v1h-1zM453.9 112.1h1v1h-1zM453.3 107.2h1v1h-1zM454.4 97.8h1v1h-1zM447.5 114.2h1v1h-1zM459.5 106.6h1v1h-1zM444.7 116.9h1v1h-1zM454.5 103.0h1v1h-1zM451.7 104.0h1v1h-1zM442.4 107.3h1v1h-1zM442.7 101.4h1v1h-1zM454.3 104.2h1v1h-1zM448.7 113.0h1v1h-1zM450.5 110.0h1v1h-1zM452.9 112.4h1v1h-1zM449.3 108.6h1v1h-1zM454.3 109.9h1v1h-1zM443.6 108.2h1v1h-1zM447.0 108.2h1v1h-1zM451.9 106.7h1v1h-1zM441.9 108.5h1v1h-1zM448.1 102.2h1v1h-1zM446.9 112.3h1v1h-1zM449.3 107.9h1v1h-1zM434.3 111.5h1v1h-1zM462.6 106.1h1v1h-1zM447.7 105.7h1v1h-1zM452.8 106.0h1v1h-1zM440.1 102.2h1v1h-1zM438.0 110.3h1v1h-1zM448.6 108.3h1v1h-1zM445.8 106.4h1v1h-1zM453.6 97.9h1v1h-1zM441.0 114.8h1v1h-1zM440.5 107.7h1v1h-1zM451.1 106.5h1v1h-1zM454.0 104.5h1v1h-1zM455.8 102.8h1v1h-1zM448.2 105.2h1v1h-1zM450.5 101.4h1v1h-1zM442.1 105.5h1v1h-1zM458.9 114.9h1v1h-1zM457.5 111.0h1v1h-1zM457.3 115.0h1v1h-1zM435.6 106.5h1v1h-1zM455.4 96.7h1v1h-1zM442.6 101.6h1v1h-1zM452.3 93.7h1v1h-1zM451.8 111.6h1v1h-1zM458.1 111.1h1v1h-1zM446.9 107.9h1v1h-1zM445.6 109.4h1v1h-1zM440.3 110.3h1v1h-1zM438.9 108.3h1v1h-1zM453.0 109.7h1v1h-1zM441.1 103.6h1v1h-1zM453.7 104.0h1v1h-1zM445.3 106.9h1v1h-1zM443.8 99.8h1v1h-1zM456.0 100.8h1v1h-1zM455.2 107.9h1v1h-1zM440.4 110.2h1v1h-1zM446.9 95.6h1v1h-1zM448.2 111.5h1v1h-1zM453.6 107.8h1v1h-1zM442.4 111.9h1v1h-1zM444.9 107.4h1v1h-1zM447.4 110.1h1v1h-1zM453.8 99.9h1v1h-1zM455.4 104.7h1v1h-1zM443.9 102.8h1v1h-1zM462.3 102.0h1v1h-1zM451.6 112.1h1v1h-1zM441.9 116.1h1v1h-1zM435.9 109.6h1v1h-1zM444.3 105.7h1v1h-1zM429.2 114.4h1v1h-1zM449.7 109.0h1v1h-1zM452.7 115.4h1v1h-1zM458.4 108.2h1v1h-1zM452.2 95.2h1v1h-1zM434.6 109.9h1v1h-1zM446.0 106.0h1v1h-1zM453.8 102.2h1v1h-1zM430.9 111.0h1v1h-1zM441.6 108.6h1v1h-1zM453.2 104.5h1v1h-1zM448.6 114.2h1v1h-1zM432.2 111.9h1v1h-1zM444.2 109.8h1v1h-1zM448.4 107.8h1v1h-1zM464.8 109.8h1v1h-1zM444.7 102.4h1v1h-1zM441.0 114.2h1v1h-1zM450.2 105.6h1v1h-1zM450.9 113.7h1v1h-1zM452.7 113.0h1v1h-1zM459.7 107.3h1v1h-1zM447.7 105.0h1v1h-1zM437.2 110.5h1v1h-1zM448.5 108.7h1v1h-1zM448.4 100.1h1v1h-1zM455.9 104.1h1v1h-1zM454.9 102.5h1v1h-1zM442.4 114.7h1v1h-1zM454.4 114.1h1v1h-1zM456.2 102.1h1v1h-1zM446.7 104.9h1v1h-1zM455.8 99.4h1v1h-1zM449.6 108.1h1v1h-1zM449.7 110.7h1v1h-1zM447.1 115.9h1v1h-1zM454.7 99.8h1v1h-1zM450.1 106.0h1v1h-1zM439.0 105.4h1v1h-1zM446.4 105.8h1v1h-1zM443.6 104.3h1v1h-1zM450.8 108.7h1v1h-1zM447.1 107.3h1v1h-1zM454.2 103.4h1v1h-1zM463.1 95.4h1v1h-1zM442.6 103.4h1v1h-1zM446.6 109.0h1v1h-1zM464.7 97.0h1v1h-1zM434.9 106.0h1v1h-1zM449.4 109.4h1v1h-1zM435.9 102.9h1v1h-1zM460.5 108.8h1v1h-1zM436.9 110.8h1v1h-1zM445.8 104.7h1v1h-1zM446.8 107.1h1v1h-1zM434.7 107.2h1v1h-1zM446.9 105.7h1v1h-1zM461.4 104.7h1v1h-1zM442.7 107.7h1v1h-1zM436.5 105.7h1v1h-1zM449.9 102.1h1v1h-1zM449.7 116.6h1v1h-1zM439.8 107.9h1v1h-1zM435.7 115.1h1v1h-1zM442.5 112.8h1v1h-1zM450.6 103.1h1v1h-1zM452.7 115.7h1v1h-1zM442.2 116.6h1v1h-1zM445.4 106.1h1v1h-1zM452.5 100.3h1v1h-1zM456.9 108.4h1v1h-1zM443.4 107.1h1v1h-1zM449.2 105.5h1v1h-1zM426.0 107.4h1v1h-1zM440.4 105.7h1v1h-1zM451.6 107.2h1v1h-1zM448.0 111.3h1v1h-1zM446.6 97.5h1v1h-1zM461.0 93.3h1v1h-1zM445.8 112.1h1v1h-1zM439.4 104.7h1v1h-1zM449.8 110.0h1v1h-1zM449.8 107.3h1v1h-1zM439.0 114.7h1v1h-1zM456.1 109.9h1v1h-1zM461.7 103.2h1v1h-1zM443.4 107.2h1v1h-1zM441.1 109.9h1v1h-1zM447.4 110.7h1v1h-1zM458.1 102.2h1v1h-1zM443.6 100.7h1v1h-1zM442.3 108.6h1v1h-1zM443.4 107.7h1v1h-1zM450.0 105.9h1v1h-1zM449.8 102.0h1v1h-1zM446.7 110.2h1v1h-1zM457.7 97.0h1v1h-1zM443.5 114.1h1v1h-1zM456.4 100.2h1v1h-1zM450.3 108.6h1v1h-1zM441.1 110.4h1v1h-1zM445.4 99.6h1v1h-1zM449.0 111.7h1v1h-1zM436.7 109.9h1v1h-1zM446.4 109.7h1v1h-1zM453.8 107.5h1v1h-1zM436.5 109.5h1v1h-1zM449.2 112.7h1v1h-1zM462.4 111.2h1v1h-1zM443.3 99.1h1v1h-1zM440.9 104.7h1v1h-1zM427.8 110.1h1v1h-1zM447.2 96.9h1v1h-1zM435.1 116.5h1v1h-1zM452.6 102.6h1v1h-1zM461.3 107.3h1v1h-1zM452.6 107.3h1v1h-1zM441.8 107.2h1v1h-1zM453.3 101.3h1v1h-1zM444.3 106.1h1v1h-1zM439.1 109.2h1v1h-1zM444.1 111.6h1v1h-1zM450.0 105.8h1v1h-1zM445.2 105.8h1v1h-1zM452.3 105.1h1v1h-1zM465.3 110.1h1v1h-1zM453.0 107.6h1v1h-1zM454.1 102.8h1v1h-1zM442.8 102.1h1v1h-1zM458.7 103.2h1v1h-1zM450.9 102.2h1v1h-1zM456.2 103.6h1v1h-1zM441.8 114.7h1v1h-1zM449.9 110.1h1v1h-1zM429.2 111.7h1v1h-1zM445.2 109.6h1v1h-1zM441.3 116.6h1v1h-1zM440.0 103.2h1v1h-1zM461.9 106.6h1v1h-1zM435.7 108.5h1v1h-1zM446.8 108.0h1v1h-1zM446.9 107.7h1v1h-1zM452.3 104.8h1v1h-1zM456.1 108.2h1v1h-1zM435.2 99.3h1v1h-1zM443.7 109.3h1v1h-1zM442.4 111.4h1v1h-1zM453.6 101.5h1v1h-1zM455.5 101.1h1v1h-1zM444.7 116.8h1v1h-1zM443.6 103.7h1v1h-1zM439.9 106.9h1v1h-1zM450.9 102.9h1v1h-1zM461.3 101.7h1v1h-1zM451.0 103.4h1v1h-1zM442.3 98.2h1v1h-1zM441.3 119.7h1v1h-1zM442.2 104.8h1v1h-1zM434.7 111.4h1v1h-1zM461.8 104.2h1v1h-1zM448.5 113.4h1v1h-1zM445.3 110.9h1v1h-1zM465.8 109.1h1v1h-1zM449.7 112.3h1v1h-1zM459.8 108.9h1v1h-1zM450.1 106.9h1v1h-1zM456.7 109.8h1v1h-1zM448.5 99.5h1v1h-1zM445.0 111.9h1v1h-1zM451.2 109.8h1v1h-1zM453.6 107.5h1v1h-1zM456.6 99.2h1v1h-1zM449.5 113.2h1v1h-1zM445.9 104.3h1v1h-1zM444.9 110.7h1v1h-1zM450.4 97.9h1v1h-1zM444.0 107.0h1v1h-1zM445.3 104.6h1v1h-1zM452.2 102.6h1v1h-1zM452.6 103.1h1v1h-1zM451.9 114.8h1v1h-1zM441.9 108.1h1v1h-1zM436.3 110.9h1v1h-1zM450.1 116.8h1v1h-1zM448.8 100.2h1v1h-1zM444.8 114.9h1v1h-1zM449.5 105.1h1v1h-1zM454.7 102.9h1v1h-1zM446.3 105.5h1v1h-1zM451.1 97.9h1v1h-1zM440.1 101.3h1v1h-1zM446.1 102.1h1v1h-1zM441.2 105.7h1v1h-1zM436.3 112.7h1v1h-1zM451.4 111.6h1v1h-1zM425.2 109.6h1v1h-1zM447.4 109.0h1v1h-1zM454.1 108.0h1v1h-1z" fill="#444" />
<path d="M402.1 106.3h1v1h-1zM402.6 111.1h1v1h-1zM402.7 106.2h1v1h-1zM401.7 94.8h1v1h-1zM402.3 112.7h1v1h-1zM401.7 114.9h1v1h-1zM401.5 101.7h1v1h-1zM402.5 94.8h1v1h-1zM401.5 105.6h1v1h-1zM402.2 107.5h1v1h-1zM402.2 109.7h1v1h-1zM402.5 119.2h1v1h-1zM401.5 110.3h1v1h-1zM402.5 98.9h1v1h-1zM402.4 103.8h1v1h-1zM401.9 108.4h1v1h-1zM402.5 112.7h1v1h-1zM402.7 101.8h1v1h-1zM402.4 106.1h1v1h-1zM402.5 114.5h1v1h-1zM401.6 95.9h1v1h-1zM401.8 124.5h1v1h-1zM401.6 105.7h1v1h-1zM402.3 114.1h1v1h-1zM402.1 111.6h1v1h-1zM401.8 117.1h1v1h-1zM402.0 100.4h1v1h-1zM401.7 115.8h1v1h-1zM401.5 113.9h1v1h-1zM402.6 99.2h1v1h-1zM402.5 103.7h1v1h-1zM402.7 99.0h1v1h-1zM402.4 109.9h1v1h-1zM402.0 113.7h1v1h-1zM402.2 94.0h1v1h-1zM401.6 107.0h1v1h-1zM402.2 105.9h1v1h-1zM402.1 91.1h1v1h-1zM402.0 100.6h1v1h-1zM401.6 106.4h1v1h-1zM401.7 96.0h1v1h-1zM401.8 118.5h1v1h-1zM402.3 101.8h1v1h-1zM402.3 102.0h1v1h-1zM401.7 111.3h1v1h-1zM401.8 109.1h1v1h-1zM401.6 102.0h1v1h-1zM402.2 97.8h1v1h-1zM402.7 104.5h1v1h-1zM402.4 119.5h1v1h-1zM402.2 94.5h1v1h-1zM401.7 105.9h1v1h-1zM402.3 115.1h1v1h-1zM402.7 101.3h1v1h-1zM402.7 84.4h1v1h-1zM402.0 115.1h1v1h-1zM401.7 115.7h1v1h-1zM401.6 113.2h1v1h-1zM402.6 107.0h1v1h-1zM401.5 117.2h1v1h-1zM401.9 107.5h1v1h-1zM401.6 121.3h1v1h-1zM402.0 115.4h1v1h-1zM402.7 128.8h1v1h-1zM402.7 102.3h1v1h-1zM401.7 116.1h1v1h-1zM402.0 113.7h1v1h-1zM402.4 120.0h1v1h-1zM402.1 118.2h1v1h-1zM401.8 94.9h1v1h-1zM402.7 131.5h1v1h-1zM402.0 104.2h1v1h-1zM402.0 113.3h1v1h-1zM402.6 108.5h1v1h-1zM402.1 96.2h1v1h-1zM402.7 123.5h1v1h-1zM402.8 106.8h1v1h-1zM401.8 129.9h1v1h-1zM402.0 113.4h1v1h-1zM402.3 111.0h1v1h-1zM402.5 87.8h1v1h-1zM402.7 106.3h1v1h-1zM402.0 108.8h1v1h-1zM402.6 110.4h1v1h-1zM401.5 111.9h1v1h-1zM402.5 120.8h1v1h-1zM402.4 104.6h1v1h-1zM402.7 104.9h1v1h-1zM402.6 121.3h1v1h-1zM401.8 104.3h1v1h-1zM401.8 112.4h1v1h-1zM401.5 126.4h1v1h-1zM402.4 113.9h1v1h-1zM401.8 103.7h1v1h-1zM402.7 97.2h1v1h-1zM401.7 104.8h1v1h-1zM402.7 113.8h1v1h-1zM402.2 104.5h1v1h-1zM401.8 89.4h1v1h-1zM402.7 112.4h1v1h-1zM402.6 90.6h1v1h-1zM401.8 114.2h1v1h-1zM402.3 105.1h1v1h-1zM401.6 96.7h1v1h-1zM402.6 111.1h1v1h-1zM402.6 94.8h1v1h-1zM402.3 109.4h1v1h-1zM402.7 104.2h1v1h-1zM402.6 110.8h1v1h-1zM402.5 100.4h1v1h-1zM402.1 107.8h1v1h-1zM402.8 116.3h1v1h-1zM402.8 107.2h1v1h-1zM402.3 115.9h1v1h-1zM401.9 87.6h1v1h-1zM402.7 98.2h1v1h-1zM402.3 123.4h1v1h-1zM402.3 100.7h1v1h-1zM401.8 108.0h1v1h-1zM402.3 109.8h1v1h-1z" fill="#555" />
<line x1="401.8" y1="37.5" x2="511.1" y2="37.5" stroke="#444" stroke-width="1"/>
<line x1="511.1" y1="37.5" x2="511.1" y2="145.8" stroke="#666" stroke-width="1"/>
<line x1="401.3" y1="145.8" x2="511.6" y2="145.8" stroke="#222" stroke-width="1.2"/>
<line x1="401.8" y1="37.0" x2="401.8" y2="145.8" stroke="#333" stroke-width="1.2"/>
<line x1="467.2" y1="37.5" x2="467.2" y2="145.8" stroke="#777" stroke-width="1"/>
<line x1="401.8" y1="84.2" x2="511.1" y2="84.2" stroke="#808080" stroke-width="1.1"/>
<line x1="399.2" y1="46.9" x2="401.8" y2="46.9" stroke="#333" stroke-width="0.9"/>
<text x="396.4" y="49.2" text-anchor="end" font-size="7.3" fill="#222">10<tspan dx="0.4" dy="-2.7" font-size="5.2">5</tspan></text>
<line x1="399.2" y1="71.3" x2="401.8" y2="71.3" stroke="#333" stroke-width="0.9"/>
<text x="396.4" y="73.6" text-anchor="end" font-size="7.3" fill="#222">10<tspan dx="0.4" dy="-2.7" font-size="5.2">4</tspan></text>
<line x1="399.2" y1="96.5" x2="401.8" y2="96.5" stroke="#333" stroke-width="0.9"/>
<text x="396.4" y="98.8" text-anchor="end" font-size="7.3" fill="#222">10<tspan dx="0.4" dy="-2.7" font-size="5.2">3</tspan></text>
<line x1="399.2" y1="122.5" x2="401.8" y2="122.5" stroke="#333" stroke-width="0.9"/>
<text x="396.4" y="124.8" text-anchor="end" font-size="7.3" fill="#222">10<tspan dx="0.4" dy="-2.7" font-size="5.2">2</tspan></text>
<line x1="399.2" y1="134.8" x2="401.8" y2="134.8" stroke="#333" stroke-width="0.9"/>
<text x="396.2" y="137.2" text-anchor="end" font-size="7" fill="#222">0</text>
<line x1="400.4" y1="64.0" x2="401.8" y2="64.0" stroke="#444" stroke-width="0.7"/>
<line x1="400.4" y1="59.7" x2="401.8" y2="59.7" stroke="#444" stroke-width="0.7"/>
<line x1="400.4" y1="56.6" x2="401.8" y2="56.6" stroke="#444" stroke-width="0.7"/>
<line x1="400.4" y1="54.2" x2="401.8" y2="54.2" stroke="#444" stroke-width="0.7"/>
<line x1="400.4" y1="52.3" x2="401.8" y2="52.3" stroke="#444" stroke-width="0.7"/>
<line x1="400.4" y1="50.7" x2="401.8" y2="50.7" stroke="#444" stroke-width="0.7"/>
<line x1="400.4" y1="49.3" x2="401.8" y2="49.3" stroke="#444" stroke-width="0.7"/>
<line x1="400.4" y1="48.0" x2="401.8" y2="48.0" stroke="#444" stroke-width="0.7"/>
<line x1="400.4" y1="88.9" x2="401.8" y2="88.9" stroke="#444" stroke-width="0.7"/>
<line x1="400.4" y1="84.5" x2="401.8" y2="84.5" stroke="#444" stroke-width="0.7"/>
<line x1="400.4" y1="81.3" x2="401.8" y2="81.3" stroke="#444" stroke-width="0.7"/>
<line x1="400.4" y1="78.9" x2="401.8" y2="78.9" stroke="#444" stroke-width="0.7"/>
<line x1="400.4" y1="76.9" x2="401.8" y2="76.9" stroke="#444" stroke-width="0.7"/>
<line x1="400.4" y1="75.2" x2="401.8" y2="75.2" stroke="#444" stroke-width="0.7"/>
<line x1="400.4" y1="73.7" x2="401.8" y2="73.7" stroke="#444" stroke-width="0.7"/>
<line x1="400.4" y1="72.5" x2="401.8" y2="72.5" stroke="#444" stroke-width="0.7"/>
<line x1="400.4" y1="114.7" x2="401.8" y2="114.7" stroke="#444" stroke-width="0.7"/>
<line x1="400.4" y1="110.1" x2="401.8" y2="110.1" stroke="#444" stroke-width="0.7"/>
<line x1="400.4" y1="106.8" x2="401.8" y2="106.8" stroke="#444" stroke-width="0.7"/>
<line x1="400.4" y1="104.3" x2="401.8" y2="104.3" stroke="#444" stroke-width="0.7"/>
<line x1="400.4" y1="102.3" x2="401.8" y2="102.3" stroke="#444" stroke-width="0.7"/>
<line x1="400.4" y1="100.5" x2="401.8" y2="100.5" stroke="#444" stroke-width="0.7"/>
<line x1="400.4" y1="99.0" x2="401.8" y2="99.0" stroke="#444" stroke-width="0.7"/>
<line x1="400.4" y1="97.7" x2="401.8" y2="97.7" stroke="#444" stroke-width="0.7"/>
<line x1="413.6" y1="145.8" x2="413.6" y2="148.1" stroke="#333" stroke-width="0.9"/>
<text x="413.9" y="158.9" text-anchor="middle" font-size="7" fill="#222">0</text>
<line x1="423.6" y1="145.8" x2="423.6" y2="148.1" stroke="#333" stroke-width="0.9"/>
<text x="423.3" y="158.9" text-anchor="middle" font-size="7.5" fill="#222">10<tspan dx="0.4" dy="-2.8" font-size="5.3">2</tspan></text>
<line x1="450.5" y1="145.8" x2="450.5" y2="148.1" stroke="#333" stroke-width="0.9"/>
<text x="450.2" y="158.9" text-anchor="middle" font-size="7.5" fill="#222">10<tspan dx="0.4" dy="-2.8" font-size="5.3">3</tspan></text>
<line x1="475.9" y1="145.8" x2="475.9" y2="148.1" stroke="#333" stroke-width="0.9"/>
<text x="475.6" y="158.9" text-anchor="middle" font-size="7.5" fill="#222">10<tspan dx="0.4" dy="-2.8" font-size="5.3">4</tspan></text>
<line x1="501.3" y1="145.8" x2="501.3" y2="148.1" stroke="#333" stroke-width="0.9"/>
<text x="501.0" y="158.9" text-anchor="middle" font-size="7.5" fill="#222">10<tspan dx="0.4" dy="-2.8" font-size="5.3">5</tspan></text>
<line x1="458.1" y1="145.8" x2="458.1" y2="147.2" stroke="#444" stroke-width="0.7"/>
<line x1="462.6" y1="145.8" x2="462.6" y2="147.2" stroke="#444" stroke-width="0.7"/>
<line x1="465.8" y1="145.8" x2="465.8" y2="147.2" stroke="#444" stroke-width="0.7"/>
<line x1="468.3" y1="145.8" x2="468.3" y2="147.2" stroke="#444" stroke-width="0.7"/>
<line x1="470.3" y1="145.8" x2="470.3" y2="147.2" stroke="#444" stroke-width="0.7"/>
<line x1="472.0" y1="145.8" x2="472.0" y2="147.2" stroke="#444" stroke-width="0.7"/>
<line x1="473.4" y1="145.8" x2="473.4" y2="147.2" stroke="#444" stroke-width="0.7"/>
<line x1="474.7" y1="145.8" x2="474.7" y2="147.2" stroke="#444" stroke-width="0.7"/>
<line x1="483.5" y1="145.8" x2="483.5" y2="147.2" stroke="#444" stroke-width="0.7"/>
<line x1="488.0" y1="145.8" x2="488.0" y2="147.2" stroke="#444" stroke-width="0.7"/>
<line x1="491.2" y1="145.8" x2="491.2" y2="147.2" stroke="#444" stroke-width="0.7"/>
<line x1="493.7" y1="145.8" x2="493.7" y2="147.2" stroke="#444" stroke-width="0.7"/>
<line x1="495.7" y1="145.8" x2="495.7" y2="147.2" stroke="#444" stroke-width="0.7"/>
<line x1="497.4" y1="145.8" x2="497.4" y2="147.2" stroke="#444" stroke-width="0.7"/>
<line x1="498.8" y1="145.8" x2="498.8" y2="147.2" stroke="#444" stroke-width="0.7"/>
<line x1="500.1" y1="145.8" x2="500.1" y2="147.2" stroke="#444" stroke-width="0.7"/>
<text x="404.1" y="45.6" font-size="7.2" letter-spacing="0.25" fill="#222">5.77</text>
<text x="509.8" y="45.6" text-anchor="end" font-size="7.2" letter-spacing="0.25" fill="#222">2.13</text>
<text x="403.9" y="140.3" font-size="7.2" letter-spacing="0.25" fill="#222">91</text>
<text x="509.8" y="140.3" text-anchor="end" font-size="7.2" letter-spacing="0.25" fill="#222">1.11</text>
<path d="M317.8 229.9h1v1h-1zM322.4 232.6h1v1h-1zM314.1 238.4h1v1h-1zM294.6 237.3h1v1h-1zM307.1 227.6h1v1h-1zM310.1 250.6h1v1h-1zM317.0 227.3h1v1h-1zM309.6 244.4h1v1h-1zM309.9 225.6h1v1h-1zM321.3 243.9h1v1h-1zM323.5 224.6h1v1h-1zM314.0 243.5h1v1h-1zM304.5 238.3h1v1h-1zM303.5 242.6h1v1h-1zM318.4 231.8h1v1h-1zM307.0 238.9h1v1h-1zM313.0 238.7h1v1h-1zM311.7 238.2h1v1h-1zM314.4 233.1h1v1h-1zM315.9 246.6h1v1h-1z" fill="#999" />
<path d="M353.3 194.5h1v1h-1zM359.0 185.1h1v1h-1zM346.6 187.1h1v1h-1zM326.3 181.9h1v1h-1zM348.9 201.9h1v1h-1zM354.3 188.8h1v1h-1zM342.1 195.7h1v1h-1zM333.7 197.4h1v1h-1zM339.8 192.0h1v1h-1zM340.8 188.7h1v1h-1zM306.3 186.8h1v1h-1zM360.7 188.3h1v1h-1zM336.3 179.4h1v1h-1zM367.2 186.6h1v1h-1zM336.6 194.5h1v1h-1zM322.7 191.6h1v1h-1zM348.7 194.9h1v1h-1zM337.0 194.7h1v1h-1zM349.7 194.1h1v1h-1zM328.6 190.5h1v1h-1zM328.3 191.0h1v1h-1zM324.7 195.4h1v1h-1zM324.6 187.6h1v1h-1zM342.2 181.7h1v1h-1zM315.3 194.9h1v1h-1zM338.3 190.0h1v1h-1zM352.8 196.3h1v1h-1zM320.1 185.9h1v1h-1zM331.8 179.8h1v1h-1zM322.9 188.7h1v1h-1zM329.1 185.9h1v1h-1zM337.5 183.9h1v1h-1zM346.2 199.1h1v1h-1zM349.3 191.4h1v1h-1zM324.5 182.6h1v1h-1zM345.9 180.1h1v1h-1zM325.2 189.1h1v1h-1zM316.7 193.3h1v1h-1zM319.6 191.4h1v1h-1zM304.0 196.8h1v1h-1zM335.6 191.7h1v1h-1zM305.6 192.6h1v1h-1zM338.0 178.3h1v1h-1zM320.1 186.4h1v1h-1zM301.5 195.4h1v1h-1zM340.7 180.4h1v1h-1zM318.2 184.3h1v1h-1zM334.2 196.9h1v1h-1zM334.8 182.3h1v1h-1zM338.5 190.8h1v1h-1zM371.5 187.4h1v1h-1zM340.0 200.3h1v1h-1zM339.2 192.1h1v1h-1zM333.5 197.6h1v1h-1zM323.5 189.6h1v1h-1zM325.2 179.6h1v1h-1zM318.4 202.1h1v1h-1zM349.0 186.4h1v1h-1zM332.8 190.1h1v1h-1zM346.0 189.6h1v1h-1zM340.7 180.3h1v1h-1zM371.1 194.1h1v1h-1zM334.1 187.5h1v1h-1zM345.5 179.1h1v1h-1zM326.0 180.8h1v1h-1zM354.2 176.0h1v1h-1zM332.7 185.0h1v1h-1zM336.5 188.5h1v1h-1zM314.1 183.8h1v1h-1zM344.9 189.4h1v1h-1zM362.7 187.4h1v1h-1zM357.8 192.6h1v1h-1zM318.8 189.5h1v1h-1zM350.4 188.5h1v1h-1zM325.0 184.6h1v1h-1zM309.9 182.3h1v1h-1zM316.3 184.0h1v1h-1zM356.4 191.7h1v1h-1zM331.3 186.5h1v1h-1zM316.9 198.3h1v1h-1zM342.0 194.4h1v1h-1zM341.6 181.2h1v1h-1zM331.4 192.1h1v1h-1zM344.2 196.9h1v1h-1zM330.4 185.5h1v1h-1zM356.1 196.9h1v1h-1zM348.7 185.0h1v1h-1zM335.3 199.0h1v1h-1zM342.0 192.7h1v1h-1zM350.7 188.0h1v1h-1zM334.5 179.3h1v1h-1zM344.6 188.7h1v1h-1zM334.2 184.8h1v1h-1zM330.9 191.6h1v1h-1zM305.5 184.0h1v1h-1zM315.9 192.3h1v1h-1zM319.6 186.5h1v1h-1zM336.5 192.9h1v1h-1zM320.4 190.5h1v1h-1zM328.3 192.4h1v1h-1zM314.8 196.1h1v1h-1zM329.0 183.6h1v1h-1zM331.6 193.1h1v1h-1zM346.3 190.9h1v1h-1zM312.9 199.2h1v1h-1zM343.1 188.3h1v1h-1zM339.1 195.4h1v1h-1zM330.3 179.1h1v1h-1zM315.1 197.0h1v1h-1zM318.1 192.0h1v1h-1zM331.8 191.8h1v1h-1zM344.2 194.9h1v1h-1zM333.3 181.8h1v1h-1zM322.8 188.1h1v1h-1zM339.5 189.9h1v1h-1zM318.3 187.6h1v1h-1zM347.7 186.3h1v1h-1zM325.8 189.6h1v1h-1zM351.8 188.0h1v1h-1zM319.5 189.7h1v1h-1zM336.6 197.4h1v1h-1zM343.8 200.7h1v1h-1zM354.7 196.0h1v1h-1zM335.8 192.5h1v1h-1zM357.1 181.3h1v1h-1zM315.0 186.0h1v1h-1zM331.9 183.8h1v1h-1zM335.3 183.7h1v1h-1zM336.8 196.7h1v1h-1zM333.3 185.8h1v1h-1zM365.2 197.8h1v1h-1zM329.2 190.1h1v1h-1zM351.8 188.6h1v1h-1zM342.4 188.2h1v1h-1zM368.6 180.8h1v1h-1zM332.1 186.9h1v1h-1zM347.2 194.6h1v1h-1zM345.0 193.6h1v1h-1zM283.9 190.4h1v1h-1zM342.4 193.6h1v1h-1zM352.6 190.4h1v1h-1zM360.6 191.9h1v1h-1zM318.9 204.0h1v1h-1zM332.8 190.3h1v1h-1zM355.9 179.0h1v1h-1zM318.0 176.6h1v1h-1zM323.2 185.0h1v1h-1zM345.7 190.7h1v1h-1zM347.3 195.4h1v1h-1zM357.9 189.3h1v1h-1zM354.4 190.3h1v1h-1zM339.7 193.1h1v1h-1zM319.5 183.5h1v1h-1zM325.9 189.2h1v1h-1zM336.4 191.5h1v1h-1zM342.5 187.1h1v1h-1zM337.3 184.4h1v1h-1z" fill="#888" />
<path d="M342.3 192.4h1v1h-1zM334.8 192.9h1v1h-1zM321.7 182.5h1v1h-1zM353.4 179.6h1v1h-1zM345.5 183.6h1v1h-1zM341.7 186.9h1v1h-1zM356.6 184.3h1v1h-1zM340.8 185.4h1v1h-1zM354.2 187.5h1v1h-1zM351.1 189.0h1v1h-1zM339.3 187.9h1v1h-1zM329.1 188.0h1v1h-1zM347.4 186.5h1v1h-1zM344.7 183.6h1v1h-1zM353.0 188.5h1v1h-1zM326.0 192.7h1v1h-1zM341.0 183.9h1v1h-1zM344.8 192.2h1v1h-1zM346.0 186.4h1v1h-1zM343.6 190.0h1v1h-1zM345.6 186.6h1v1h-1zM317.8 190.2h1v1h-1zM339.0 190.3h1v1h-1zM335.2 184.6h1v1h-1zM326.0 188.7h1v1h-1zM343.5 182.5h1v1h-1zM338.2 189.6h1v1h-1zM330.1 188.1h1v1h-1zM327.5 188.2h1v1h-1zM345.7 184.6h1v1h-1zM315.4 193.6h1v1h-1zM341.3 188.3h1v1h-1zM330.4 188.1h1v1h-1zM343.7 185.2h1v1h-1zM362.6 190.7h1v1h-1zM353.1 191.1h1v1h-1zM341.7 183.1h1v1h-1zM358.2 189.2h1v1h-1zM362.2 186.1h1v1h-1zM352.8 186.7h1v1h-1zM362.0 185.7h1v1h-1zM344.7 181.7h1v1h-1zM349.1 195.3h1v1h-1zM341.5 194.9h1v1h-1zM338.4 187.9h1v1h-1zM342.7 187.2h1v1h-1zM334.2 189.0h1v1h-1zM341.4 184.8h1v1h-1zM365.9 185.6h1v1h-1zM350.0 185.9h1v1h-1zM340.4 183.4h1v1h-1zM360.7 182.5h1v1h-1zM357.8 182.4h1v1h-1zM331.1 186.6h1v1h-1zM335.1 186.9h1v1h-1zM360.8 186.6h1v1h-1zM343.5 185.3h1v1h-1zM344.4 180.7h1v1h-1zM336.9 193.2h1v1h-1zM330.7 186.6h1v1h-1zM354.7 190.5h1v1h-1zM333.9 189.3h1v1h-1zM348.2 188.2h1v1h-1zM362.2 180.9h1v1h-1zM348.2 186.5h1v1h-1zM340.2 186.0h1v1h-1zM349.2 185.8h1v1h-1zM348.4 187.9h1v1h-1zM337.6 186.3h1v1h-1zM345.3 189.7h1v1h-1zM329.6 183.7h1v1h-1zM323.8 185.9h1v1h-1zM336.6 189.5h1v1h-1zM323.8 191.8h1v1h-1zM335.7 192.0h1v1h-1zM341.1 193.3h1v1h-1zM344.3 188.4h1v1h-1zM362.2 186.9h1v1h-1zM332.5 189.5h1v1h-1zM337.5 188.4h1v1h-1zM337.4 187.5h1v1h-1zM331.6 189.2h1v1h-1zM363.9 181.8h1v1h-1zM334.0 187.8h1v1h-1zM339.7 190.5h1v1h-1zM340.4 189.3h1v1h-1zM368.2 187.5h1v1h-1zM338.9 185.9h1v1h-1zM334.0 187.1h1v1h-1zM355.4 186.7h1v1h-1zM335.1 185.1h1v1h-1zM319.7 187.3h1v1h-1zM354.3 187.6h1v1h-1zM352.1 184.5h1v1h-1zM326.9 192.7h1v1h-1zM328.9 189.5h1v1h-1zM341.7 185.6h1v1h-1zM331.7 184.8h1v1h-1zM325.8 194.0h1v1h-1zM329.2 188.8h1v1h-1zM361.1 180.9h1v1h-1zM353.5 179.8h1v1h-1zM330.5 184.2h1v1h-1zM340.3 185.8h1v1h-1zM343.0 191.5h1v1h-1zM338.3 184.2h1v1h-1zM341.5 188.2h1v1h-1zM360.6 185.0h1v1h-1zM335.0 175.8h1v1h-1zM333.5 183.6h1v1h-1zM341.3 190.1h1v1h-1zM334.5 180.5h1v1h-1zM337.0 191.9h1v1h-1zM337.0 187.7h1v1h-1zM331.0 182.4h1v1h-1zM354.7 191.9h1v1h-1zM334.5 187.6h1v1h-1zM355.9 190.6h1v1h-1zM332.5 189.1h1v1h-1zM331.8 185.6h1v1h-1zM344.3 190.7h1v1h-1zM338.8 194.0h1v1h-1zM350.7 190.3h1v1h-1zM348.9 181.4h1v1h-1zM366.6 185.4h1v1h-1zM309.8 187.4h1v1h-1zM330.4 186.4h1v1h-1zM341.1 192.0h1v1h-1zM339.3 182.0h1v1h-1zM341.0 196.3h1v1h-1zM369.5 176.9h1v1h-1zM317.2 185.8h1v1h-1zM348.9 188.6h1v1h-1zM339.1 186.5h1v1h-1zM341.7 186.3h1v1h-1zM353.3 181.6h1v1h-1zM340.9 189.7h1v1h-1zM350.1 186.4h1v1h-1zM355.6 184.4h1v1h-1zM354.5 181.9h1v1h-1zM321.4 184.4h1v1h-1zM334.5 187.9h1v1h-1zM327.5 180.9h1v1h-1zM333.0 185.7h1v1h-1zM339.4 189.5h1v1h-1zM364.0 186.0h1v1h-1zM334.5 186.4h1v1h-1zM338.2 177.8h1v1h-1zM339.6 189.2h1v1h-1zM357.7 187.7h1v1h-1zM335.4 188.0h1v1h-1zM346.3 190.9h1v1h-1zM350.3 189.4h1v1h-1zM347.6 179.7h1v1h-1zM319.4 189.4h1v1h-1zM327.2 187.3h1v1h-1zM348.6 191.7h1v1h-1zM322.1 193.9h1v1h-1zM338.7 187.8h1v1h-1zM324.8 191.6h1v1h-1zM345.4 189.6h1v1h-1zM340.5 184.4h1v1h-1zM324.2 188.9h1v1h-1zM338.3 187.1h1v1h-1zM329.4 187.2h1v1h-1zM334.9 186.7h1v1h-1zM354.5 185.8h1v1h-1zM344.0 181.7h1v1h-1zM344.6 182.2h1v1h-1zM357.5 187.4h1v1h-1zM342.0 192.5h1v1h-1zM355.1 191.8h1v1h-1zM345.2 179.8h1v1h-1zM343.8 188.0h1v1h-1zM337.0 184.5h1v1h-1zM331.9 186.3h1v1h-1zM329.8 187.8h1v1h-1zM330.9 190.0h1v1h-1zM346.5 188.2h1v1h-1zM345.3 177.3h1v1h-1zM331.9 186.1h1v1h-1zM354.1 189.0h1v1h-1zM334.1 188.5h1v1h-1zM336.7 181.6h1v1h-1zM326.2 185.5h1v1h-1zM331.9 185.3h1v1h-1zM350.3 189.3h1v1h-1zM345.7 192.8h1v1h-1zM334.2 183.9h1v1h-1zM354.2 186.8h1v1h-1zM340.3 186.0h1v1h-1zM341.8 188.9h1v1h-1zM352.3 184.3h1v1h-1zM345.9 182.0h1v1h-1zM337.4 185.0h1v1h-1zM329.7 186.2h1v1h-1zM354.8 190.2h1v1h-1zM315.8 187.9h1v1h-1zM334.4 190.0h1v1h-1zM322.3 186.6h1v1h-1zM334.7 185.3h1v1h-1zM350.1 186.3h1v1h-1zM337.4 185.3h1v1h-1zM336.4 194.9h1v1h-1zM340.5 191.9h1v1h-1zM362.0 179.4h1v1h-1zM355.7 186.5h1v1h-1zM343.5 192.1h1v1h-1zM334.2 183.4h1v1h-1zM336.8 186.0h1v1h-1zM344.7 191.8h1v1h-1zM338.5 184.2h1v1h-1zM339.8 189.4h1v1h-1zM329.9 188.3h1v1h-1zM326.5 189.7h1v1h-1zM329.3 184.8h1v1h-1zM343.6 186.2h1v1h-1zM331.2 186.7h1v1h-1zM368.2 189.3h1v1h-1zM347.1 188.3h1v1h-1zM348.2 186.2h1v1h-1zM351.9 185.1h1v1h-1zM330.2 191.1h1v1h-1zM328.8 182.7h1v1h-1zM338.9 183.4h1v1h-1zM347.8 182.4h1v1h-1zM347.4 182.9h1v1h-1zM359.1 177.9h1v1h-1zM356.5 186.4h1v1h-1zM352.9 183.3h1v1h-1zM353.9 189.5h1v1h-1zM344.8 185.8h1v1h-1zM351.2 183.9h1v1h-1zM339.2 188.8h1v1h-1zM337.8 188.9h1v1h-1zM352.3 184.0h1v1h-1zM324.8 191.5h1v1h-1zM357.3 189.0h1v1h-1zM362.2 181.9h1v1h-1zM337.4 192.2h1v1h-1zM350.6 184.6h1v1h-1zM344.5 189.5h1v1h-1zM332.4 188.0h1v1h-1zM346.8 184.5h1v1h-1zM348.5 186.8h1v1h-1zM353.7 180.7h1v1h-1zM339.5 181.1h1v1h-1zM344.5 186.1h1v1h-1zM336.5 186.6h1v1h-1zM353.7 180.7h1v1h-1zM342.0 194.6h1v1h-1zM352.2 186.6h1v1h-1zM335.9 184.9h1v1h-1zM344.3 188.2h1v1h-1zM333.5 190.0h1v1h-1zM335.2 186.3h1v1h-1zM354.8 183.8h1v1h-1zM341.1 179.9h1v1h-1zM342.1 187.5h1v1h-1zM350.8 192.4h1v1h-1zM334.4 192.1h1v1h-1zM363.6 187.3h1v1h-1zM334.8 185.6h1v1h-1zM338.9 183.1h1v1h-1zM366.1 186.3h1v1h-1zM324.8 190.4h1v1h-1zM361.7 182.9h1v1h-1zM347.1 184.7h1v1h-1zM348.5 189.2h1v1h-1zM331.9 190.6h1v1h-1zM344.8 184.5h1v1h-1zM329.6 188.1h1v1h-1zM353.6 178.7h1v1h-1zM340.3 182.5h1v1h-1zM336.0 189.7h1v1h-1zM337.7 185.6h1v1h-1zM341.2 183.6h1v1h-1zM353.2 186.0h1v1h-1zM346.7 190.6h1v1h-1zM334.7 184.7h1v1h-1zM333.5 186.8h1v1h-1zM331.8 187.3h1v1h-1zM351.2 194.4h1v1h-1zM347.8 189.6h1v1h-1zM330.9 189.3h1v1h-1zM325.5 183.9h1v1h-1zM342.0 189.5h1v1h-1zM336.5 189.6h1v1h-1zM348.2 185.0h1v1h-1zM341.3 184.0h1v1h-1zM346.5 184.3h1v1h-1zM351.1 179.2h1v1h-1zM353.6 183.5h1v1h-1zM340.2 185.2h1v1h-1zM350.0 182.1h1v1h-1zM336.4 186.3h1v1h-1zM329.7 182.7h1v1h-1zM344.8 190.4h1v1h-1zM355.1 184.1h1v1h-1zM357.4 179.9h1v1h-1zM341.7 189.5h1v1h-1zM324.2 191.4h1v1h-1zM345.8 184.2h1v1h-1zM340.1 182.1h1v1h-1zM348.9 185.4h1v1h-1zM353.6 186.6h1v1h-1zM337.7 189.7h1v1h-1zM334.8 191.2h1v1h-1zM338.1 190.4h1v1h-1zM335.0 182.2h1v1h-1zM331.7 188.6h1v1h-1zM344.5 179.3h1v1h-1zM334.4 191.4h1v1h-1zM339.2 188.6h1v1h-1zM338.7 190.7h1v1h-1zM335.7 187.7h1v1h-1zM348.5 185.6h1v1h-1zM337.2 185.3h1v1h-1zM341.2 176.5h1v1h-1zM350.5 184.6h1v1h-1zM340.5 196.4h1v1h-1zM326.7 193.7h1v1h-1zM337.0 186.6h1v1h-1zM337.0 188.6h1v1h-1zM348.6 187.3h1v1h-1zM359.4 181.8h1v1h-1zM344.1 186.3h1v1h-1zM340.6 188.1h1v1h-1zM357.3 182.5h1v1h-1zM334.7 189.5h1v1h-1zM345.1 190.7h1v1h-1zM346.9 189.0h1v1h-1zM341.4 187.8h1v1h-1zM340.0 186.4h1v1h-1zM343.8 189.1h1v1h-1zM357.8 182.3h1v1h-1zM347.9 183.5h1v1h-1zM335.7 192.4h1v1h-1zM344.9 184.9h1v1h-1zM352.0 180.2h1v1h-1zM360.6 187.0h1v1h-1zM350.3 188.1h1v1h-1zM343.9 190.6h1v1h-1zM356.4 184.2h1v1h-1zM351.2 189.6h1v1h-1zM343.4 186.0h1v1h-1zM335.0 184.1h1v1h-1zM342.8 186.0h1v1h-1zM351.8 186.2h1v1h-1zM330.7 184.5h1v1h-1zM325.2 188.7h1v1h-1zM347.2 186.9h1v1h-1zM325.8 187.7h1v1h-1zM328.3 189.2h1v1h-1zM339.7 187.0h1v1h-1zM339.3 184.2h1v1h-1zM342.4 188.0h1v1h-1zM343.5 188.7h1v1h-1zM347.3 178.6h1v1h-1zM340.7 184.5h1v1h-1zM333.1 191.2h1v1h-1zM312.2 193.0h1v1h-1zM354.7 178.0h1v1h-1zM349.9 186.5h1v1h-1zM348.2 191.1h1v1h-1zM341.4 190.2h1v1h-1zM332.4 191.2h1v1h-1zM346.6 185.8h1v1h-1zM340.8 187.4h1v1h-1zM327.4 184.9h1v1h-1zM352.2 185.4h1v1h-1zM326.7 197.7h1v1h-1zM337.0 187.6h1v1h-1zM359.9 180.8h1v1h-1zM333.0 190.2h1v1h-1zM343.3 179.3h1v1h-1zM352.5 193.7h1v1h-1zM341.5 189.3h1v1h-1zM326.7 188.3h1v1h-1zM336.3 186.5h1v1h-1zM340.9 183.8h1v1h-1zM325.7 189.9h1v1h-1zM356.3 185.0h1v1h-1zM344.7 180.9h1v1h-1zM348.7 189.6h1v1h-1zM344.1 185.4h1v1h-1zM345.3 182.5h1v1h-1zM337.5 191.1h1v1h-1zM325.9 192.2h1v1h-1zM348.3 184.0h1v1h-1zM341.6 184.7h1v1h-1zM357.6 188.7h1v1h-1zM329.1 187.6h1v1h-1zM342.9 187.7h1v1h-1zM363.9 188.7h1v1h-1zM327.2 184.9h1v1h-1zM328.8 183.6h1v1h-1zM343.5 183.7h1v1h-1zM358.9 182.4h1v1h-1zM328.7 189.2h1v1h-1zM341.8 190.7h1v1h-1zM339.2 186.0h1v1h-1zM335.3 194.3h1v1h-1zM338.4 188.5h1v1h-1zM353.9 178.0h1v1h-1zM342.5 186.9h1v1h-1zM327.3 192.0h1v1h-1zM334.6 192.3h1v1h-1zM342.0 184.5h1v1h-1zM326.3 189.2h1v1h-1zM333.7 196.6h1v1h-1zM336.7 188.5h1v1h-1zM318.9 187.3h1v1h-1zM360.3 178.8h1v1h-1zM324.0 188.3h1v1h-1zM341.6 188.6h1v1h-1zM339.1 183.6h1v1h-1zM334.6 193.3h1v1h-1zM353.6 182.7h1v1h-1zM341.5 180.3h1v1h-1zM332.1 191.1h1v1h-1zM353.2 185.6h1v1h-1zM346.7 185.6h1v1h-1zM330.0 193.7h1v1h-1zM324.9 187.6h1v1h-1zM350.2 188.6h1v1h-1zM339.4 185.7h1v1h-1zM325.6 195.7h1v1h-1zM346.6 186.5h1v1h-1zM325.8 189.8h1v1h-1zM333.6 190.7h1v1h-1zM332.3 188.4h1v1h-1zM320.1 192.2h1v1h-1zM348.1 185.5h1v1h-1zM347.7 186.6h1v1h-1zM345.2 184.8h1v1h-1zM338.2 189.9h1v1h-1zM340.2 189.3h1v1h-1zM343.9 183.1h1v1h-1zM347.5 185.3h1v1h-1zM335.7 182.1h1v1h-1zM341.4 187.7h1v1h-1zM338.8 190.8h1v1h-1zM347.0 195.4h1v1h-1zM351.0 187.0h1v1h-1zM352.7 189.5h1v1h-1zM336.6 193.5h1v1h-1zM336.2 190.8h1v1h-1zM348.6 179.5h1v1h-1zM338.6 186.1h1v1h-1zM339.2 189.0h1v1h-1zM346.3 187.7h1v1h-1zM345.5 187.2h1v1h-1zM355.5 181.9h1v1h-1zM328.8 182.5h1v1h-1zM353.4 186.9h1v1h-1zM336.7 192.3h1v1h-1zM348.8 184.5h1v1h-1zM328.1 191.4h1v1h-1zM340.3 185.6h1v1h-1zM335.2 187.8h1v1h-1zM360.4 182.4h1v1h-1zM331.8 191.9h1v1h-1zM353.8 182.1h1v1h-1zM333.3 189.1h1v1h-1zM330.1 192.4h1v1h-1zM345.1 186.8h1v1h-1zM353.0 181.1h1v1h-1zM341.2 188.8h1v1h-1zM348.2 185.7h1v1h-1zM344.4 182.2h1v1h-1zM341.3 186.7h1v1h-1zM356.5 184.0h1v1h-1zM342.0 189.5h1v1h-1zM351.1 184.1h1v1h-1zM329.8 189.5h1v1h-1zM340.0 189.8h1v1h-1zM351.9 178.8h1v1h-1zM337.2 191.6h1v1h-1zM319.5 190.8h1v1h-1zM350.0 182.4h1v1h-1zM348.2 186.8h1v1h-1zM339.1 191.5h1v1h-1zM343.3 184.6h1v1h-1zM338.6 185.8h1v1h-1zM346.2 191.6h1v1h-1zM353.8 191.2h1v1h-1zM345.5 194.0h1v1h-1zM341.3 187.5h1v1h-1zM337.1 184.6h1v1h-1zM340.5 184.0h1v1h-1zM336.9 186.9h1v1h-1zM352.4 182.1h1v1h-1zM331.1 190.5h1v1h-1zM336.1 192.8h1v1h-1zM345.9 182.8h1v1h-1zM345.8 192.1h1v1h-1zM344.9 183.5h1v1h-1zM337.9 185.4h1v1h-1zM344.4 181.9h1v1h-1zM327.3 192.2h1v1h-1zM326.3 189.4h1v1h-1zM328.8 189.4h1v1h-1zM346.3 176.1h1v1h-1zM356.7 182.9h1v1h-1zM337.9 189.0h1v1h-1zM336.5 178.1h1v1h-1zM339.3 194.8h1v1h-1zM361.5 185.5h1v1h-1zM344.7 190.8h1v1h-1zM343.6 185.9h1v1h-1zM336.6 191.4h1v1h-1zM347.8 191.1h1v1h-1zM356.3 194.5h1v1h-1zM344.6 183.2h1v1h-1zM334.1 196.2h1v1h-1zM356.4 181.3h1v1h-1zM342.4 187.9h1v1h-1zM361.3 183.0h1v1h-1zM331.6 188.4h1v1h-1zM341.1 180.5h1v1h-1zM345.4 185.9h1v1h-1zM324.2 185.8h1v1h-1zM343.6 186.5h1v1h-1zM349.1 187.4h1v1h-1zM341.3 187.8h1v1h-1zM347.2 186.3h1v1h-1zM344.5 192.2h1v1h-1zM333.7 190.0h1v1h-1zM350.2 188.5h1v1h-1zM334.7 193.5h1v1h-1zM339.4 187.7h1v1h-1zM334.8 189.0h1v1h-1zM349.2 188.9h1v1h-1zM337.6 187.2h1v1h-1zM337.5 192.8h1v1h-1zM320.0 188.6h1v1h-1zM339.5 187.1h1v1h-1zM352.9 185.4h1v1h-1zM320.6 189.6h1v1h-1zM346.3 186.8h1v1h-1zM342.0 185.8h1v1h-1zM324.2 181.5h1v1h-1zM338.0 192.3h1v1h-1zM352.3 184.3h1v1h-1zM342.3 190.1h1v1h-1zM346.0 182.9h1v1h-1zM354.0 187.8h1v1h-1zM339.0 183.2h1v1h-1zM351.4 191.3h1v1h-1zM329.3 188.9h1v1h-1zM333.4 187.1h1v1h-1zM357.6 174.6h1v1h-1zM356.6 176.9h1v1h-1zM352.2 184.0h1v1h-1zM326.8 187.4h1v1h-1zM340.1 185.4h1v1h-1zM333.2 186.8h1v1h-1zM362.5 187.7h1v1h-1zM328.4 187.9h1v1h-1zM329.2 187.8h1v1h-1zM336.3 185.4h1v1h-1zM346.0 182.8h1v1h-1zM336.5 189.5h1v1h-1zM339.4 186.1h1v1h-1zM345.7 185.3h1v1h-1zM342.9 188.2h1v1h-1zM323.0 190.4h1v1h-1zM329.5 192.0h1v1h-1zM359.7 187.3h1v1h-1zM343.1 182.4h1v1h-1zM361.6 181.4h1v1h-1zM357.9 188.4h1v1h-1zM354.2 184.0h1v1h-1zM343.4 189.4h1v1h-1zM358.8 181.5h1v1h-1zM338.0 179.0h1v1h-1zM366.1 175.6h1v1h-1zM349.0 183.7h1v1h-1zM349.1 184.6h1v1h-1zM338.9 196.3h1v1h-1zM337.1 190.8h1v1h-1zM340.5 190.1h1v1h-1zM337.7 191.3h1v1h-1zM334.1 182.7h1v1h-1zM332.0 189.1h1v1h-1zM345.3 186.5h1v1h-1zM355.7 192.5h1v1h-1zM363.7 181.5h1v1h-1zM351.3 180.6h1v1h-1zM342.3 187.6h1v1h-1zM349.8 185.5h1v1h-1zM361.2 184.8h1v1h-1zM344.9 187.8h1v1h-1zM354.0 186.2h1v1h-1zM347.6 184.3h1v1h-1zM344.9 185.4h1v1h-1zM337.7 196.6h1v1h-1zM351.0 183.8h1v1h-1zM335.0 190.4h1v1h-1zM333.2 185.2h1v1h-1zM347.2 180.4h1v1h-1zM353.7 189.0h1v1h-1zM353.2 186.5h1v1h-1zM352.4 190.8h1v1h-1zM340.4 191.7h1v1h-1zM342.2 188.5h1v1h-1zM355.3 182.9h1v1h-1zM365.0 191.2h1v1h-1zM315.6 192.0h1v1h-1zM356.2 193.5h1v1h-1zM345.9 189.8h1v1h-1zM343.0 191.1h1v1h-1zM335.9 191.1h1v1h-1zM336.9 190.4h1v1h-1zM331.0 188.9h1v1h-1zM346.2 195.9h1v1h-1zM333.3 186.1h1v1h-1zM341.5 182.6h1v1h-1zM327.8 191.3h1v1h-1zM355.8 183.6h1v1h-1zM350.4 190.3h1v1h-1zM331.2 189.0h1v1h-1zM348.1 191.4h1v1h-1zM339.2 188.8h1v1h-1zM334.2 186.4h1v1h-1zM344.0 186.6h1v1h-1zM352.0 189.1h1v1h-1zM359.0 183.2h1v1h-1zM346.0 184.4h1v1h-1zM355.4 185.3h1v1h-1zM350.3 187.9h1v1h-1zM350.3 191.2h1v1h-1zM353.4 187.8h1v1h-1zM329.1 193.1h1v1h-1zM339.1 187.7h1v1h-1zM358.8 192.2h1v1h-1zM329.2 197.9h1v1h-1zM334.4 186.8h1v1h-1zM362.8 185.7h1v1h-1zM332.5 189.0h1v1h-1zM344.4 188.8h1v1h-1zM345.9 186.3h1v1h-1zM340.0 185.7h1v1h-1zM352.8 181.6h1v1h-1zM352.0 184.6h1v1h-1zM335.7 189.0h1v1h-1zM361.2 188.8h1v1h-1zM334.4 191.2h1v1h-1zM338.2 187.0h1v1h-1zM341.4 185.6h1v1h-1zM344.9 182.0h1v1h-1zM331.3 192.1h1v1h-1zM345.2 187.8h1v1h-1zM319.7 193.5h1v1h-1zM337.4 191.4h1v1h-1zM333.1 191.2h1v1h-1zM335.1 188.6h1v1h-1zM341.5 186.9h1v1h-1zM344.8 183.8h1v1h-1zM334.5 186.7h1v1h-1zM342.4 189.3h1v1h-1zM326.5 198.4h1v1h-1zM338.2 186.9h1v1h-1zM351.7 187.2h1v1h-1zM334.8 200.5h1v1h-1zM338.7 188.7h1v1h-1zM341.7 186.6h1v1h-1zM350.3 186.6h1v1h-1zM345.7 186.3h1v1h-1zM340.2 181.0h1v1h-1zM331.5 192.4h1v1h-1zM344.3 180.9h1v1h-1zM312.0 190.2h1v1h-1zM346.2 185.4h1v1h-1zM334.0 190.4h1v1h-1zM348.4 185.8h1v1h-1zM341.1 185.9h1v1h-1zM355.7 182.3h1v1h-1zM335.1 189.4h1v1h-1zM321.3 189.4h1v1h-1zM342.0 184.8h1v1h-1zM336.7 183.3h1v1h-1zM340.7 184.4h1v1h-1zM354.0 186.0h1v1h-1zM332.4 183.1h1v1h-1zM348.7 186.7h1v1h-1zM350.8 186.2h1v1h-1zM352.7 189.8h1v1h-1zM321.1 187.9h1v1h-1zM343.2 183.5h1v1h-1zM334.5 187.9h1v1h-1zM339.3 186.2h1v1h-1zM333.3 179.0h1v1h-1zM338.3 192.0h1v1h-1zM351.4 186.5h1v1h-1zM359.4 185.0h1v1h-1zM348.9 183.1h1v1h-1zM329.0 190.4h1v1h-1zM354.6 184.1h1v1h-1zM329.0 194.9h1v1h-1zM337.8 190.3h1v1h-1zM353.4 190.5h1v1h-1zM335.7 183.6h1v1h-1zM349.1 182.8h1v1h-1zM339.0 186.0h1v1h-1zM329.8 186.7h1v1h-1zM343.9 192.6h1v1h-1zM336.2 189.3h1v1h-1zM359.9 180.5h1v1h-1zM360.7 183.3h1v1h-1zM357.9 191.3h1v1h-1zM331.2 187.6h1v1h-1zM361.3 186.4h1v1h-1zM345.0 180.4h1v1h-1zM347.0 184.3h1v1h-1zM343.8 186.3h1v1h-1zM336.2 187.1h1v1h-1zM343.2 186.9h1v1h-1zM350.9 187.0h1v1h-1zM357.8 188.9h1v1h-1zM347.7 179.9h1v1h-1zM342.0 187.3h1v1h-1zM336.9 190.4h1v1h-1zM338.6 188.5h1v1h-1zM358.6 188.7h1v1h-1zM349.0 185.6h1v1h-1zM344.2 185.2h1v1h-1zM324.8 186.7h1v1h-1zM323.6 193.2h1v1h-1zM348.8 181.4h1v1h-1zM348.4 184.5h1v1h-1zM353.4 185.2h1v1h-1zM343.9 189.0h1v1h-1zM335.1 187.1h1v1h-1zM324.1 186.4h1v1h-1zM332.3 190.7h1v1h-1zM317.8 186.6h1v1h-1zM344.9 183.9h1v1h-1zM346.7 179.0h1v1h-1zM356.1 185.5h1v1h-1zM322.9 190.4h1v1h-1zM327.1 182.9h1v1h-1zM348.2 185.2h1v1h-1zM345.2 188.5h1v1h-1zM320.9 187.7h1v1h-1zM334.4 182.0h1v1h-1zM342.7 186.4h1v1h-1zM337.7 189.8h1v1h-1zM345.6 179.6h1v1h-1zM342.1 190.0h1v1h-1zM335.9 187.6h1v1h-1zM345.7 189.7h1v1h-1zM340.9 183.3h1v1h-1zM353.8 188.5h1v1h-1zM326.6 190.4h1v1h-1zM339.3 190.2h1v1h-1zM334.6 188.3h1v1h-1zM339.1 190.9h1v1h-1zM345.9 185.7h1v1h-1zM348.4 184.3h1v1h-1zM319.4 186.6h1v1h-1zM353.7 179.4h1v1h-1zM347.3 186.4h1v1h-1zM347.1 184.9h1v1h-1zM342.4 186.5h1v1h-1zM351.5 184.4h1v1h-1zM346.0 187.5h1v1h-1zM322.9 190.0h1v1h-1zM334.7 185.9h1v1h-1zM339.0 190.1h1v1h-1zM337.9 195.2h1v1h-1zM337.0 184.5h1v1h-1zM348.0 184.4h1v1h-1zM330.0 190.8h1v1h-1zM333.8 185.5h1v1h-1zM331.3 192.3h1v1h-1zM341.3 184.6h1v1h-1zM346.2 182.0h1v1h-1zM332.2 185.0h1v1h-1zM345.7 190.3h1v1h-1zM335.9 180.6h1v1h-1zM356.3 185.3h1v1h-1zM318.2 182.8h1v1h-1zM341.5 189.8h1v1h-1zM353.6 186.7h1v1h-1zM337.8 190.1h1v1h-1zM330.1 196.7h1v1h-1zM332.5 188.4h1v1h-1zM347.4 190.6h1v1h-1zM335.9 190.4h1v1h-1zM352.7 189.5h1v1h-1zM342.2 184.6h1v1h-1zM335.9 192.4h1v1h-1zM337.1 187.0h1v1h-1zM346.7 192.1h1v1h-1zM352.4 189.4h1v1h-1zM333.3 189.1h1v1h-1zM329.4 191.7h1v1h-1zM329.5 191.5h1v1h-1zM346.8 187.8h1v1h-1zM360.9 194.5h1v1h-1zM336.4 185.5h1v1h-1zM348.9 181.7h1v1h-1zM337.7 183.5h1v1h-1zM351.6 185.4h1v1h-1zM326.3 190.0h1v1h-1zM348.1 189.3h1v1h-1zM328.2 193.5h1v1h-1zM333.0 190.1h1v1h-1zM345.4 187.8h1v1h-1zM339.4 184.8h1v1h-1zM341.2 191.6h1v1h-1zM347.4 192.0h1v1h-1zM344.0 187.1h1v1h-1zM357.6 188.1h1v1h-1zM349.9 184.4h1v1h-1zM333.0 189.2h1v1h-1zM341.2 188.4h1v1h-1zM336.2 191.9h1v1h-1zM337.7 183.2h1v1h-1zM360.7 185.3h1v1h-1zM333.8 192.4h1v1h-1zM355.4 187.1h1v1h-1zM357.8 187.9h1v1h-1zM370.7 174.4h1v1h-1zM342.1 184.7h1v1h-1zM344.8 185.8h1v1h-1zM345.2 184.5h1v1h-1zM338.2 179.8h1v1h-1zM360.7 188.8h1v1h-1zM362.7 185.5h1v1h-1zM317.9 184.2h1v1h-1zM338.7 186.4h1v1h-1zM354.6 185.8h1v1h-1zM331.2 192.8h1v1h-1zM334.7 191.2h1v1h-1zM342.4 183.8h1v1h-1zM341.9 185.2h1v1h-1zM340.1 188.7h1v1h-1zM340.5 191.4h1v1h-1zM361.1 183.0h1v1h-1zM317.5 188.9h1v1h-1zM336.6 190.5h1v1h-1zM329.9 189.9h1v1h-1zM344.5 192.1h1v1h-1zM337.2 190.0h1v1h-1zM347.0 190.4h1v1h-1zM342.0 180.3h1v1h-1zM366.3 178.8h1v1h-1zM328.0 184.0h1v1h-1zM336.8 185.7h1v1h-1zM351.2 187.3h1v1h-1zM337.9 187.0h1v1h-1zM343.5 189.0h1v1h-1zM325.7 187.1h1v1h-1zM349.5 189.8h1v1h-1zM340.6 190.7h1v1h-1zM347.9 180.1h1v1h-1zM332.2 184.9h1v1h-1zM336.0 185.9h1v1h-1zM332.7 191.7h1v1h-1zM359.4 187.5h1v1h-1zM323.2 196.7h1v1h-1zM346.3 181.0h1v1h-1zM344.5 187.7h1v1h-1zM355.2 185.1h1v1h-1zM344.7 185.8h1v1h-1zM330.8 188.4h1v1h-1zM347.2 178.8h1v1h-1zM323.4 191.1h1v1h-1zM352.9 183.9h1v1h-1zM340.6 182.7h1v1h-1zM333.8 193.6h1v1h-1zM336.4 185.4h1v1h-1zM347.9 187.1h1v1h-1zM323.9 187.3h1v1h-1zM359.8 178.7h1v1h-1zM334.2 186.6h1v1h-1zM357.9 185.9h1v1h-1zM343.5 183.2h1v1h-1zM362.1 185.9h1v1h-1zM328.8 195.5h1v1h-1zM351.0 190.2h1v1h-1zM341.1 186.2h1v1h-1zM334.9 185.3h1v1h-1zM350.6 189.3h1v1h-1zM339.2 182.5h1v1h-1zM333.9 184.6h1v1h-1zM339.4 194.0h1v1h-1zM333.4 190.0h1v1h-1zM339.3 189.5h1v1h-1zM341.2 186.4h1v1h-1zM353.2 196.2h1v1h-1zM340.7 199.2h1v1h-1zM333.4 188.2h1v1h-1zM349.7 189.3h1v1h-1zM337.7 187.0h1v1h-1zM331.3 190.8h1v1h-1zM328.7 194.5h1v1h-1zM360.4 189.5h1v1h-1zM340.4 186.9h1v1h-1zM358.8 186.5h1v1h-1zM331.1 199.8h1v1h-1zM330.3 193.0h1v1h-1zM359.9 190.2h1v1h-1zM338.8 190.2h1v1h-1zM339.5 187.6h1v1h-1zM339.1 184.0h1v1h-1zM330.5 185.7h1v1h-1zM352.4 179.8h1v1h-1zM328.6 185.6h1v1h-1zM349.7 183.2h1v1h-1zM330.1 192.2h1v1h-1zM369.5 177.2h1v1h-1zM349.2 188.1h1v1h-1zM353.4 178.5h1v1h-1zM323.4 200.2h1v1h-1zM345.3 184.9h1v1h-1zM334.8 189.3h1v1h-1zM332.2 195.7h1v1h-1zM332.5 188.3h1v1h-1zM350.3 186.7h1v1h-1zM342.0 188.2h1v1h-1zM336.2 190.6h1v1h-1zM335.1 186.8h1v1h-1zM334.6 195.3h1v1h-1zM335.8 192.8h1v1h-1zM338.5 188.7h1v1h-1zM329.3 194.1h1v1h-1zM331.8 188.8h1v1h-1zM317.8 189.3h1v1h-1zM341.1 187.4h1v1h-1zM347.6 188.5h1v1h-1zM336.2 182.7h1v1h-1zM356.3 184.2h1v1h-1zM333.3 190.6h1v1h-1zM341.9 183.5h1v1h-1zM353.9 187.0h1v1h-1zM344.1 183.1h1v1h-1zM333.1 189.7h1v1h-1zM345.4 186.8h1v1h-1zM337.3 189.6h1v1h-1zM353.4 183.1h1v1h-1zM349.7 179.0h1v1h-1zM339.2 178.2h1v1h-1zM347.2 200.7h1v1h-1zM360.1 179.2h1v1h-1zM353.6 182.5h1v1h-1zM350.8 179.9h1v1h-1zM339.7 193.1h1v1h-1zM335.4 191.2h1v1h-1zM333.6 192.0h1v1h-1zM352.6 181.6h1v1h-1zM330.1 193.1h1v1h-1zM345.9 184.0h1v1h-1zM358.6 189.6h1v1h-1zM324.7 189.8h1v1h-1zM345.4 178.3h1v1h-1zM331.1 188.7h1v1h-1zM340.3 184.4h1v1h-1zM347.2 195.8h1v1h-1zM331.1 184.1h1v1h-1zM327.6 188.5h1v1h-1zM337.3 187.0h1v1h-1zM343.9 183.9h1v1h-1zM337.5 185.3h1v1h-1zM331.5 188.8h1v1h-1zM348.9 187.6h1v1h-1zM329.7 187.6h1v1h-1zM326.3 188.7h1v1h-1zM342.7 187.2h1v1h-1zM364.5 180.3h1v1h-1zM336.3 187.3h1v1h-1zM340.7 187.6h1v1h-1zM330.8 192.9h1v1h-1zM335.2 190.9h1v1h-1zM329.6 191.1h1v1h-1zM344.6 190.4h1v1h-1zM334.4 185.5h1v1h-1zM333.2 192.9h1v1h-1zM351.5 184.4h1v1h-1zM326.2 189.2h1v1h-1zM351.5 184.3h1v1h-1zM339.7 190.1h1v1h-1zM331.9 186.4h1v1h-1zM341.4 189.6h1v1h-1zM338.7 186.4h1v1h-1zM345.0 184.9h1v1h-1zM339.4 189.1h1v1h-1zM361.7 181.0h1v1h-1zM352.9 190.1h1v1h-1zM353.6 182.8h1v1h-1zM328.9 187.4h1v1h-1zM338.0 192.3h1v1h-1zM354.3 179.8h1v1h-1zM348.1 189.6h1v1h-1zM342.0 187.4h1v1h-1zM340.9 187.7h1v1h-1zM352.9 186.2h1v1h-1zM321.5 186.9h1v1h-1zM332.6 194.8h1v1h-1zM327.1 191.4h1v1h-1zM354.0 187.8h1v1h-1zM327.1 192.4h1v1h-1zM338.9 191.2h1v1h-1zM356.2 186.1h1v1h-1zM338.6 184.1h1v1h-1zM344.9 181.9h1v1h-1zM342.2 182.0h1v1h-1zM349.1 184.3h1v1h-1zM365.3 187.3h1v1h-1zM329.4 184.1h1v1h-1zM341.3 185.9h1v1h-1zM359.5 186.6h1v1h-1zM367.2 181.9h1v1h-1zM339.6 186.4h1v1h-1zM356.7 180.8h1v1h-1zM349.1 186.6h1v1h-1zM348.6 183.8h1v1h-1zM326.8 186.7h1v1h-1zM324.6 188.1h1v1h-1zM343.4 188.1h1v1h-1zM340.6 190.8h1v1h-1zM340.9 182.8h1v1h-1zM329.4 190.7h1v1h-1zM357.3 180.5h1v1h-1zM340.0 180.3h1v1h-1zM370.8 180.1h1v1h-1zM339.5 187.6h1v1h-1zM345.9 186.2h1v1h-1zM350.0 187.1h1v1h-1zM338.3 180.0h1v1h-1zM331.3 193.8h1v1h-1zM336.0 191.0h1v1h-1zM342.2 189.4h1v1h-1zM336.7 181.8h1v1h-1zM363.2 185.5h1v1h-1zM336.5 185.9h1v1h-1zM350.3 183.9h1v1h-1zM350.7 185.7h1v1h-1zM344.1 180.7h1v1h-1zM330.7 192.8h1v1h-1zM347.5 190.0h1v1h-1zM352.2 188.5h1v1h-1zM343.9 191.9h1v1h-1zM342.4 180.7h1v1h-1zM319.1 189.4h1v1h-1zM330.5 187.5h1v1h-1zM340.2 182.7h1v1h-1zM344.1 189.8h1v1h-1zM350.1 195.3h1v1h-1zM338.9 183.6h1v1h-1zM344.0 188.9h1v1h-1zM331.2 189.0h1v1h-1zM348.8 186.6h1v1h-1zM349.8 186.3h1v1h-1zM340.9 189.8h1v1h-1zM352.4 183.2h1v1h-1zM338.9 186.1h1v1h-1zM336.9 194.0h1v1h-1zM339.0 187.6h1v1h-1zM363.3 183.9h1v1h-1zM325.0 183.2h1v1h-1zM344.2 188.5h1v1h-1zM338.4 189.9h1v1h-1zM343.3 187.9h1v1h-1zM326.5 195.3h1v1h-1zM349.9 178.6h1v1h-1zM349.2 189.3h1v1h-1zM339.4 181.5h1v1h-1zM337.6 183.9h1v1h-1zM342.9 179.6h1v1h-1zM352.3 188.5h1v1h-1zM326.0 189.0h1v1h-1zM357.1 183.1h1v1h-1zM338.9 187.6h1v1h-1zM351.1 177.8h1v1h-1zM333.5 186.0h1v1h-1zM363.1 184.5h1v1h-1zM345.2 184.2h1v1h-1zM361.2 183.8h1v1h-1zM335.9 182.0h1v1h-1zM335.6 188.5h1v1h-1zM354.4 183.9h1v1h-1zM350.0 186.4h1v1h-1zM346.2 192.0h1v1h-1zM355.7 185.0h1v1h-1zM347.1 183.8h1v1h-1zM339.0 188.7h1v1h-1zM322.5 185.7h1v1h-1zM318.3 196.5h1v1h-1zM349.5 185.7h1v1h-1zM348.7 185.8h1v1h-1zM333.1 190.0h1v1h-1zM348.4 181.2h1v1h-1zM340.5 186.9h1v1h-1zM343.1 185.8h1v1h-1zM352.9 193.0h1v1h-1zM326.0 194.5h1v1h-1zM346.5 192.8h1v1h-1zM348.3 185.9h1v1h-1zM340.7 187.5h1v1h-1zM344.5 190.2h1v1h-1zM330.6 185.9h1v1h-1zM344.4 183.0h1v1h-1zM349.4 191.3h1v1h-1zM351.0 187.1h1v1h-1zM335.4 189.5h1v1h-1zM351.3 179.0h1v1h-1zM346.0 184.5h1v1h-1zM349.8 183.8h1v1h-1zM342.3 184.0h1v1h-1zM349.4 186.8h1v1h-1zM344.8 182.9h1v1h-1zM368.5 178.3h1v1h-1zM339.5 194.3h1v1h-1zM354.7 186.5h1v1h-1zM342.5 182.9h1v1h-1zM326.9 196.9h1v1h-1zM347.7 188.0h1v1h-1zM355.6 186.0h1v1h-1zM350.7 175.5h1v1h-1zM351.0 191.0h1v1h-1zM334.0 188.7h1v1h-1zM345.9 190.9h1v1h-1zM328.0 195.4h1v1h-1zM361.5 179.2h1v1h-1zM359.1 191.3h1v1h-1zM331.6 191.7h1v1h-1zM338.5 188.0h1v1h-1zM329.6 180.5h1v1h-1zM334.7 195.4h1v1h-1zM337.9 188.9h1v1h-1zM330.2 191.2h1v1h-1zM337.7 183.4h1v1h-1zM349.4 188.2h1v1h-1zM339.6 189.6h1v1h-1zM350.2 191.4h1v1h-1zM340.8 183.9h1v1h-1zM343.7 178.8h1v1h-1zM329.2 186.8h1v1h-1zM352.4 181.8h1v1h-1zM330.5 189.8h1v1h-1zM338.7 187.0h1v1h-1zM328.9 189.8h1v1h-1zM347.9 190.9h1v1h-1zM331.4 194.9h1v1h-1zM348.6 186.3h1v1h-1zM363.1 178.0h1v1h-1zM346.2 186.4h1v1h-1zM318.7 189.8h1v1h-1zM353.1 185.0h1v1h-1zM344.5 186.1h1v1h-1zM349.1 185.8h1v1h-1zM347.0 178.1h1v1h-1zM355.0 187.0h1v1h-1zM353.5 187.1h1v1h-1zM342.1 188.2h1v1h-1zM329.5 188.4h1v1h-1zM341.8 190.2h1v1h-1zM350.9 179.3h1v1h-1zM322.9 189.4h1v1h-1zM344.3 188.6h1v1h-1zM323.6 188.0h1v1h-1zM354.7 184.6h1v1h-1zM362.5 187.4h1v1h-1zM352.1 184.6h1v1h-1zM338.3 184.1h1v1h-1zM351.2 183.6h1v1h-1zM357.0 185.8h1v1h-1zM360.7 180.1h1v1h-1zM358.0 184.4h1v1h-1zM354.5 183.4h1v1h-1zM332.4 188.4h1v1h-1zM341.8 189.6h1v1h-1zM347.9 188.5h1v1h-1zM343.4 186.8h1v1h-1zM322.1 190.6h1v1h-1zM341.1 189.8h1v1h-1zM335.3 185.0h1v1h-1zM345.1 186.9h1v1h-1zM346.5 181.9h1v1h-1zM327.5 193.5h1v1h-1zM334.8 188.3h1v1h-1zM344.5 181.8h1v1h-1zM331.7 186.6h1v1h-1zM342.4 189.5h1v1h-1zM333.8 189.1h1v1h-1zM335.2 181.9h1v1h-1zM352.1 191.7h1v1h-1zM341.3 187.8h1v1h-1zM336.8 189.0h1v1h-1zM359.0 183.2h1v1h-1zM339.3 184.3h1v1h-1zM342.3 181.4h1v1h-1zM342.9 187.3h1v1h-1zM349.4 184.8h1v1h-1zM351.8 188.2h1v1h-1zM338.8 188.6h1v1h-1zM351.7 181.7h1v1h-1zM354.7 183.5h1v1h-1zM330.2 192.8h1v1h-1zM347.3 181.1h1v1h-1zM360.2 191.9h1v1h-1zM362.1 181.9h1v1h-1zM345.4 195.8h1v1h-1zM367.3 184.7h1v1h-1zM335.5 182.2h1v1h-1zM353.9 186.8h1v1h-1zM348.5 186.3h1v1h-1zM331.7 187.0h1v1h-1zM353.6 185.4h1v1h-1zM329.3 189.1h1v1h-1zM335.9 176.1h1v1h-1zM341.9 189.7h1v1h-1zM330.1 187.8h1v1h-1zM355.4 185.1h1v1h-1zM338.1 190.2h1v1h-1zM329.7 188.9h1v1h-1zM345.7 182.0h1v1h-1zM342.8 189.9h1v1h-1zM331.3 187.5h1v1h-1zM337.1 188.6h1v1h-1zM352.4 182.8h1v1h-1zM351.7 185.0h1v1h-1zM326.1 185.9h1v1h-1zM353.3 191.1h1v1h-1zM353.4 181.5h1v1h-1zM355.2 188.5h1v1h-1zM337.9 180.9h1v1h-1zM334.8 189.1h1v1h-1zM342.0 186.0h1v1h-1zM336.1 191.5h1v1h-1zM340.3 188.2h1v1h-1zM336.7 196.2h1v1h-1zM340.0 198.1h1v1h-1zM337.8 185.7h1v1h-1zM343.4 189.4h1v1h-1zM344.8 183.2h1v1h-1zM340.3 183.8h1v1h-1zM337.2 187.6h1v1h-1zM360.1 187.6h1v1h-1zM353.0 187.8h1v1h-1zM348.3 185.5h1v1h-1zM333.7 192.5h1v1h-1zM349.7 181.7h1v1h-1zM341.3 184.0h1v1h-1zM349.4 185.7h1v1h-1zM345.5 180.0h1v1h-1zM369.8 187.8h1v1h-1zM343.2 186.5h1v1h-1zM332.3 187.4h1v1h-1zM354.5 186.9h1v1h-1zM355.2 180.3h1v1h-1zM357.2 184.5h1v1h-1zM315.2 185.1h1v1h-1zM333.0 188.0h1v1h-1zM334.2 188.8h1v1h-1zM325.4 195.6h1v1h-1zM344.2 186.9h1v1h-1zM349.8 191.0h1v1h-1zM354.2 185.3h1v1h-1zM352.4 179.7h1v1h-1zM343.0 189.8h1v1h-1zM359.2 184.9h1v1h-1zM345.3 184.6h1v1h-1zM312.7 195.1h1v1h-1zM339.1 183.8h1v1h-1zM334.5 187.0h1v1h-1zM346.0 189.2h1v1h-1zM337.9 190.9h1v1h-1zM338.9 185.3h1v1h-1zM357.0 186.0h1v1h-1zM334.2 188.7h1v1h-1zM327.6 191.7h1v1h-1zM344.8 185.9h1v1h-1zM349.0 178.4h1v1h-1zM340.9 186.0h1v1h-1zM342.0 192.7h1v1h-1zM335.8 185.1h1v1h-1zM327.9 188.6h1v1h-1zM333.9 191.5h1v1h-1zM330.6 188.1h1v1h-1zM355.1 181.3h1v1h-1zM339.2 187.5h1v1h-1zM357.0 184.2h1v1h-1zM340.5 184.3h1v1h-1zM332.2 188.1h1v1h-1zM343.9 181.9h1v1h-1zM344.0 181.2h1v1h-1zM356.1 180.9h1v1h-1zM320.2 189.8h1v1h-1zM337.4 187.9h1v1h-1zM346.2 184.4h1v1h-1zM333.8 192.4h1v1h-1zM343.1 189.2h1v1h-1zM338.8 187.9h1v1h-1z" fill="#2a2a2a" />
<line x1="265.2" y1="171.2" x2="374.5" y2="171.2" stroke="#444" stroke-width="1"/>
<line x1="374.5" y1="171.2" x2="374.5" y2="279.5" stroke="#666" stroke-width="1"/>
<line x1="264.7" y1="279.5" x2="375.0" y2="279.5" stroke="#222" stroke-width="1.2"/>
<line x1="265.2" y1="170.7" x2="265.2" y2="279.5" stroke="#333" stroke-width="1.2"/>
<line x1="330.6" y1="171.2" x2="330.6" y2="279.5" stroke="#333" stroke-width="1"/>
<line x1="265.2" y1="217.9" x2="374.5" y2="217.9" stroke="#808080" stroke-width="1.1"/>
<line x1="262.6" y1="180.6" x2="265.2" y2="180.6" stroke="#333" stroke-width="0.9"/>
<text x="259.8" y="182.9" text-anchor="end" font-size="7.3" fill="#222">10<tspan dx="0.4" dy="-2.7" font-size="5.2">5</tspan></text>
<line x1="262.6" y1="205.0" x2="265.2" y2="205.0" stroke="#333" stroke-width="0.9"/>
<text x="259.8" y="207.3" text-anchor="end" font-size="7.3" fill="#222">10<tspan dx="0.4" dy="-2.7" font-size="5.2">4</tspan></text>
<line x1="262.6" y1="230.2" x2="265.2" y2="230.2" stroke="#333" stroke-width="0.9"/>
<text x="259.8" y="232.5" text-anchor="end" font-size="7.3" fill="#222">10<tspan dx="0.4" dy="-2.7" font-size="5.2">3</tspan></text>
<line x1="262.6" y1="256.2" x2="265.2" y2="256.2" stroke="#333" stroke-width="0.9"/>
<text x="259.8" y="258.5" text-anchor="end" font-size="7.3" fill="#222">10<tspan dx="0.4" dy="-2.7" font-size="5.2">2</tspan></text>
<line x1="262.6" y1="268.5" x2="265.2" y2="268.5" stroke="#333" stroke-width="0.9"/>
<text x="259.6" y="270.9" text-anchor="end" font-size="7" fill="#222">0</text>
<line x1="263.8" y1="197.7" x2="265.2" y2="197.7" stroke="#444" stroke-width="0.7"/>
<line x1="263.8" y1="193.4" x2="265.2" y2="193.4" stroke="#444" stroke-width="0.7"/>
<line x1="263.8" y1="190.3" x2="265.2" y2="190.3" stroke="#444" stroke-width="0.7"/>
<line x1="263.8" y1="187.9" x2="265.2" y2="187.9" stroke="#444" stroke-width="0.7"/>
<line x1="263.8" y1="186.0" x2="265.2" y2="186.0" stroke="#444" stroke-width="0.7"/>
<line x1="263.8" y1="184.4" x2="265.2" y2="184.4" stroke="#444" stroke-width="0.7"/>
<line x1="263.8" y1="183.0" x2="265.2" y2="183.0" stroke="#444" stroke-width="0.7"/>
<line x1="263.8" y1="181.7" x2="265.2" y2="181.7" stroke="#444" stroke-width="0.7"/>
<line x1="263.8" y1="222.6" x2="265.2" y2="222.6" stroke="#444" stroke-width="0.7"/>
<line x1="263.8" y1="218.2" x2="265.2" y2="218.2" stroke="#444" stroke-width="0.7"/>
<line x1="263.8" y1="215.0" x2="265.2" y2="215.0" stroke="#444" stroke-width="0.7"/>
<line x1="263.8" y1="212.6" x2="265.2" y2="212.6" stroke="#444" stroke-width="0.7"/>
<line x1="263.8" y1="210.6" x2="265.2" y2="210.6" stroke="#444" stroke-width="0.7"/>
<line x1="263.8" y1="208.9" x2="265.2" y2="208.9" stroke="#444" stroke-width="0.7"/>
<line x1="263.8" y1="207.4" x2="265.2" y2="207.4" stroke="#444" stroke-width="0.7"/>
<line x1="263.8" y1="206.2" x2="265.2" y2="206.2" stroke="#444" stroke-width="0.7"/>
<line x1="263.8" y1="248.4" x2="265.2" y2="248.4" stroke="#444" stroke-width="0.7"/>
<line x1="263.8" y1="243.8" x2="265.2" y2="243.8" stroke="#444" stroke-width="0.7"/>
<line x1="263.8" y1="240.5" x2="265.2" y2="240.5" stroke="#444" stroke-width="0.7"/>
<line x1="263.8" y1="238.0" x2="265.2" y2="238.0" stroke="#444" stroke-width="0.7"/>
<line x1="263.8" y1="236.0" x2="265.2" y2="236.0" stroke="#444" stroke-width="0.7"/>
<line x1="263.8" y1="234.2" x2="265.2" y2="234.2" stroke="#444" stroke-width="0.7"/>
<line x1="263.8" y1="232.7" x2="265.2" y2="232.7" stroke="#444" stroke-width="0.7"/>
<line x1="263.8" y1="231.4" x2="265.2" y2="231.4" stroke="#444" stroke-width="0.7"/>
<line x1="277.0" y1="279.5" x2="277.0" y2="281.8" stroke="#333" stroke-width="0.9"/>
<text x="277.3" y="292.6" text-anchor="middle" font-size="7" fill="#222">0</text>
<line x1="287.0" y1="279.5" x2="287.0" y2="281.8" stroke="#333" stroke-width="0.9"/>
<text x="286.7" y="292.6" text-anchor="middle" font-size="7.5" fill="#222">10<tspan dx="0.4" dy="-2.8" font-size="5.3">2</tspan></text>
<line x1="313.9" y1="279.5" x2="313.9" y2="281.8" stroke="#333" stroke-width="0.9"/>
<text x="313.6" y="292.6" text-anchor="middle" font-size="7.5" fill="#222">10<tspan dx="0.4" dy="-2.8" font-size="5.3">3</tspan></text>
<line x1="339.3" y1="279.5" x2="339.3" y2="281.8" stroke="#333" stroke-width="0.9"/>
<text x="339.0" y="292.6" text-anchor="middle" font-size="7.5" fill="#222">10<tspan dx="0.4" dy="-2.8" font-size="5.3">4</tspan></text>
<line x1="364.7" y1="279.5" x2="364.7" y2="281.8" stroke="#333" stroke-width="0.9"/>
<text x="364.4" y="292.6" text-anchor="middle" font-size="7.5" fill="#222">10<tspan dx="0.4" dy="-2.8" font-size="5.3">5</tspan></text>
<line x1="321.5" y1="279.5" x2="321.5" y2="280.9" stroke="#444" stroke-width="0.7"/>
<line x1="326.0" y1="279.5" x2="326.0" y2="280.9" stroke="#444" stroke-width="0.7"/>
<line x1="329.2" y1="279.5" x2="329.2" y2="280.9" stroke="#444" stroke-width="0.7"/>
<line x1="331.7" y1="279.5" x2="331.7" y2="280.9" stroke="#444" stroke-width="0.7"/>
<line x1="333.7" y1="279.5" x2="333.7" y2="280.9" stroke="#444" stroke-width="0.7"/>
<line x1="335.4" y1="279.5" x2="335.4" y2="280.9" stroke="#444" stroke-width="0.7"/>
<line x1="336.8" y1="279.5" x2="336.8" y2="280.9" stroke="#444" stroke-width="0.7"/>
<line x1="338.1" y1="279.5" x2="338.1" y2="280.9" stroke="#444" stroke-width="0.7"/>
<line x1="346.9" y1="279.5" x2="346.9" y2="280.9" stroke="#444" stroke-width="0.7"/>
<line x1="351.4" y1="279.5" x2="351.4" y2="280.9" stroke="#444" stroke-width="0.7"/>
<line x1="354.6" y1="279.5" x2="354.6" y2="280.9" stroke="#444" stroke-width="0.7"/>
<line x1="357.1" y1="279.5" x2="357.1" y2="280.9" stroke="#444" stroke-width="0.7"/>
<line x1="359.1" y1="279.5" x2="359.1" y2="280.9" stroke="#444" stroke-width="0.7"/>
<line x1="360.8" y1="279.5" x2="360.8" y2="280.9" stroke="#444" stroke-width="0.7"/>
<line x1="362.2" y1="279.5" x2="362.2" y2="280.9" stroke="#444" stroke-width="0.7"/>
<line x1="363.5" y1="279.5" x2="363.5" y2="280.9" stroke="#444" stroke-width="0.7"/>
<text x="267.5" y="179.3" font-size="7.2" letter-spacing="0.25" fill="#222">15.6</text>
<text x="373.2" y="179.3" text-anchor="end" font-size="7.2" letter-spacing="0.25" fill="#222">82.1</text>
<text x="267.3" y="274.0" font-size="7.2" letter-spacing="0.25" fill="#222">2.32</text>
<text x="373.2" y="274.0" text-anchor="end" font-size="7.2" letter-spacing="0.25" fill="#222">0</text>
<path d="M432.6 251.6h1v1h-1zM456.9 246.6h1v1h-1zM457.3 234.7h1v1h-1zM429.4 235.2h1v1h-1zM411.0 238.5h1v1h-1zM414.8 240.9h1v1h-1zM416.3 242.2h1v1h-1zM432.9 242.3h1v1h-1zM456.1 258.6h1v1h-1zM437.1 240.1h1v1h-1zM450.2 237.1h1v1h-1zM438.1 246.6h1v1h-1zM456.0 235.4h1v1h-1zM434.4 245.8h1v1h-1zM462.7 243.5h1v1h-1zM448.6 250.5h1v1h-1zM432.6 234.7h1v1h-1zM416.6 227.4h1v1h-1zM487.1 246.3h1v1h-1zM480.4 240.4h1v1h-1zM489.9 244.4h1v1h-1z" fill="#999" />
<path d="M488.8 183.9h1v1h-1zM467.0 195.9h1v1h-1zM477.6 198.3h1v1h-1zM465.1 191.7h1v1h-1zM471.0 186.0h1v1h-1zM471.4 181.4h1v1h-1zM450.5 194.6h1v1h-1zM474.3 192.1h1v1h-1zM456.5 193.0h1v1h-1zM480.6 193.5h1v1h-1zM464.5 184.7h1v1h-1zM451.3 186.3h1v1h-1zM456.7 190.2h1v1h-1zM460.9 189.7h1v1h-1zM494.0 181.1h1v1h-1zM455.6 183.3h1v1h-1zM468.0 189.5h1v1h-1zM475.9 199.1h1v1h-1zM470.9 205.0h1v1h-1zM472.5 192.2h1v1h-1zM483.3 188.7h1v1h-1zM463.4 192.5h1v1h-1zM498.2 191.1h1v1h-1zM492.8 185.5h1v1h-1zM492.8 191.7h1v1h-1zM475.2 186.9h1v1h-1zM467.4 190.3h1v1h-1zM456.4 184.8h1v1h-1zM463.9 188.7h1v1h-1zM481.6 191.6h1v1h-1zM478.2 182.6h1v1h-1zM496.2 186.4h1v1h-1zM495.7 194.5h1v1h-1zM486.2 195.5h1v1h-1zM475.3 180.1h1v1h-1zM498.8 195.7h1v1h-1zM472.9 198.7h1v1h-1zM439.4 193.5h1v1h-1zM469.7 193.7h1v1h-1zM480.0 191.8h1v1h-1zM481.6 193.4h1v1h-1zM481.7 188.2h1v1h-1zM484.6 198.8h1v1h-1zM436.7 190.9h1v1h-1zM506.1 182.3h1v1h-1zM481.4 194.2h1v1h-1zM474.7 196.4h1v1h-1zM445.9 193.5h1v1h-1zM485.2 185.0h1v1h-1zM458.7 194.7h1v1h-1zM445.0 173.6h1v1h-1zM481.7 201.2h1v1h-1zM481.0 194.3h1v1h-1zM471.4 180.1h1v1h-1zM460.2 178.5h1v1h-1zM479.2 205.3h1v1h-1zM474.0 192.4h1v1h-1zM478.0 186.6h1v1h-1zM479.1 193.0h1v1h-1zM451.6 189.6h1v1h-1zM479.3 189.7h1v1h-1zM454.9 192.8h1v1h-1zM479.5 192.7h1v1h-1zM467.4 184.5h1v1h-1zM465.6 192.7h1v1h-1zM496.2 192.2h1v1h-1zM475.9 185.0h1v1h-1zM475.6 196.7h1v1h-1zM484.0 194.2h1v1h-1zM504.1 184.8h1v1h-1zM431.9 201.8h1v1h-1zM480.3 194.3h1v1h-1zM473.8 199.3h1v1h-1zM489.4 186.6h1v1h-1zM473.6 188.2h1v1h-1zM472.4 191.8h1v1h-1zM481.8 187.7h1v1h-1zM472.8 189.8h1v1h-1zM460.6 182.4h1v1h-1zM473.8 203.4h1v1h-1zM500.2 194.2h1v1h-1zM482.0 199.0h1v1h-1zM440.2 201.5h1v1h-1zM471.5 190.8h1v1h-1zM459.4 203.1h1v1h-1zM487.0 177.0h1v1h-1zM457.0 188.7h1v1h-1zM472.1 187.7h1v1h-1zM480.8 190.7h1v1h-1zM485.5 184.0h1v1h-1zM464.5 196.2h1v1h-1zM477.4 202.8h1v1h-1zM506.2 192.4h1v1h-1zM463.8 194.6h1v1h-1zM474.1 177.9h1v1h-1zM460.9 186.5h1v1h-1zM470.8 193.3h1v1h-1zM480.8 186.9h1v1h-1zM474.4 192.8h1v1h-1zM483.3 188.6h1v1h-1zM455.0 193.1h1v1h-1zM475.8 182.6h1v1h-1zM469.1 194.1h1v1h-1zM431.9 199.6h1v1h-1zM489.8 195.2h1v1h-1zM475.4 203.8h1v1h-1zM465.1 190.5h1v1h-1zM489.4 196.4h1v1h-1zM481.6 183.2h1v1h-1zM439.4 196.9h1v1h-1zM480.6 194.2h1v1h-1zM509.2 189.6h1v1h-1zM478.4 198.0h1v1h-1zM486.2 184.3h1v1h-1zM449.3 189.6h1v1h-1zM451.1 193.0h1v1h-1zM452.8 185.1h1v1h-1zM489.7 185.3h1v1h-1zM487.6 197.2h1v1h-1zM437.0 189.1h1v1h-1zM487.1 184.9h1v1h-1zM443.0 188.3h1v1h-1zM453.0 187.6h1v1h-1zM472.3 186.6h1v1h-1zM463.5 193.2h1v1h-1zM472.9 184.8h1v1h-1zM476.8 182.3h1v1h-1zM491.0 191.4h1v1h-1zM466.5 190.6h1v1h-1zM463.8 198.4h1v1h-1zM463.1 183.2h1v1h-1zM509.6 187.6h1v1h-1zM491.2 197.1h1v1h-1zM491.8 193.1h1v1h-1zM482.5 187.6h1v1h-1zM477.8 186.1h1v1h-1zM495.4 195.1h1v1h-1zM473.1 190.7h1v1h-1zM451.5 186.0h1v1h-1zM450.3 188.3h1v1h-1zM458.6 196.5h1v1h-1zM463.9 175.7h1v1h-1zM471.7 187.4h1v1h-1zM489.8 198.1h1v1h-1zM457.3 180.8h1v1h-1zM470.7 189.1h1v1h-1zM479.6 195.8h1v1h-1zM454.7 182.9h1v1h-1zM475.0 187.5h1v1h-1zM490.3 185.6h1v1h-1zM477.5 191.7h1v1h-1zM475.3 186.8h1v1h-1zM481.3 184.4h1v1h-1zM472.8 191.2h1v1h-1zM467.1 191.9h1v1h-1zM465.8 197.4h1v1h-1zM486.3 188.3h1v1h-1zM449.1 189.7h1v1h-1z" fill="#888" />
<path d="M466.1 189.5h1v1h-1zM468.4 191.4h1v1h-1zM469.0 194.4h1v1h-1zM493.7 182.9h1v1h-1zM474.0 189.9h1v1h-1zM475.3 188.5h1v1h-1zM475.3 192.0h1v1h-1zM478.8 193.4h1v1h-1zM479.3 184.6h1v1h-1zM477.4 186.7h1v1h-1zM468.5 190.7h1v1h-1zM485.1 185.4h1v1h-1zM481.5 195.2h1v1h-1zM494.5 194.1h1v1h-1zM485.1 192.1h1v1h-1zM480.9 191.9h1v1h-1zM469.3 187.7h1v1h-1zM482.3 186.0h1v1h-1zM486.7 190.5h1v1h-1zM495.9 193.0h1v1h-1zM485.0 187.9h1v1h-1zM488.5 189.7h1v1h-1zM486.8 195.0h1v1h-1zM495.6 194.0h1v1h-1zM491.5 184.4h1v1h-1zM482.1 190.7h1v1h-1zM469.3 194.6h1v1h-1zM495.7 181.2h1v1h-1zM482.5 187.8h1v1h-1zM474.8 191.6h1v1h-1zM469.4 189.7h1v1h-1zM466.5 194.2h1v1h-1zM483.9 187.9h1v1h-1zM480.2 183.4h1v1h-1zM484.3 184.5h1v1h-1zM492.1 179.9h1v1h-1zM476.4 185.5h1v1h-1zM484.2 191.4h1v1h-1zM477.1 191.4h1v1h-1zM474.2 192.7h1v1h-1zM462.5 197.6h1v1h-1zM474.9 186.4h1v1h-1zM491.0 186.2h1v1h-1zM477.2 190.8h1v1h-1zM484.3 195.4h1v1h-1zM482.7 190.5h1v1h-1zM499.1 186.2h1v1h-1zM494.3 188.6h1v1h-1zM476.2 187.0h1v1h-1zM478.0 182.7h1v1h-1zM491.6 189.7h1v1h-1zM483.8 187.6h1v1h-1zM482.7 191.0h1v1h-1zM491.9 183.4h1v1h-1zM486.7 185.3h1v1h-1zM483.2 192.1h1v1h-1zM508.0 186.0h1v1h-1zM485.5 192.5h1v1h-1zM470.5 188.8h1v1h-1zM484.8 189.3h1v1h-1zM484.3 191.7h1v1h-1zM496.6 190.5h1v1h-1zM484.9 188.8h1v1h-1zM476.6 191.5h1v1h-1zM485.2 188.6h1v1h-1zM471.5 190.7h1v1h-1zM478.9 189.8h1v1h-1zM485.1 190.7h1v1h-1zM474.6 185.6h1v1h-1zM464.6 192.2h1v1h-1zM473.0 187.1h1v1h-1zM474.9 190.6h1v1h-1zM486.7 187.7h1v1h-1zM477.7 190.7h1v1h-1zM481.1 188.5h1v1h-1zM473.6 190.1h1v1h-1zM482.2 184.0h1v1h-1zM476.2 195.5h1v1h-1zM486.4 183.4h1v1h-1zM483.6 181.9h1v1h-1zM493.9 188.6h1v1h-1zM486.5 190.7h1v1h-1zM478.7 189.4h1v1h-1zM474.0 189.3h1v1h-1zM483.2 184.7h1v1h-1zM487.7 195.2h1v1h-1zM494.7 180.7h1v1h-1zM476.6 198.8h1v1h-1zM470.1 185.2h1v1h-1zM465.7 188.0h1v1h-1zM472.7 189.8h1v1h-1zM479.6 187.9h1v1h-1zM478.8 191.5h1v1h-1zM478.5 186.6h1v1h-1zM480.8 188.1h1v1h-1zM483.9 182.9h1v1h-1zM466.7 196.2h1v1h-1zM481.4 188.2h1v1h-1zM479.6 186.8h1v1h-1zM479.5 189.7h1v1h-1zM477.2 193.4h1v1h-1zM464.9 193.4h1v1h-1zM484.9 186.1h1v1h-1zM476.8 190.7h1v1h-1zM479.9 191.0h1v1h-1zM483.5 190.7h1v1h-1zM481.2 188.3h1v1h-1zM484.4 191.5h1v1h-1zM484.5 184.8h1v1h-1zM473.0 191.4h1v1h-1zM471.1 188.2h1v1h-1zM487.8 188.7h1v1h-1zM474.3 188.5h1v1h-1zM499.3 189.2h1v1h-1zM471.5 189.7h1v1h-1zM482.2 193.9h1v1h-1zM480.3 186.3h1v1h-1zM483.1 193.2h1v1h-1zM472.8 187.8h1v1h-1zM483.6 179.9h1v1h-1zM497.8 183.2h1v1h-1zM476.1 193.8h1v1h-1zM462.0 193.6h1v1h-1zM486.2 190.6h1v1h-1zM484.3 187.7h1v1h-1zM486.5 190.1h1v1h-1zM473.9 187.1h1v1h-1zM484.3 195.7h1v1h-1zM488.3 194.5h1v1h-1zM476.6 192.1h1v1h-1zM481.2 187.5h1v1h-1zM485.1 186.6h1v1h-1zM487.1 191.1h1v1h-1zM478.8 191.5h1v1h-1zM482.4 186.2h1v1h-1zM497.7 189.8h1v1h-1zM498.0 190.3h1v1h-1zM471.8 193.5h1v1h-1zM499.3 188.4h1v1h-1zM477.6 191.4h1v1h-1zM489.8 188.5h1v1h-1zM470.3 190.6h1v1h-1zM479.1 188.0h1v1h-1zM475.2 195.5h1v1h-1zM487.7 183.1h1v1h-1zM482.5 190.2h1v1h-1zM484.4 192.6h1v1h-1zM484.1 198.1h1v1h-1zM482.4 188.5h1v1h-1zM488.5 193.9h1v1h-1zM481.7 194.7h1v1h-1zM479.9 193.8h1v1h-1zM475.2 198.0h1v1h-1zM473.0 185.2h1v1h-1zM476.1 194.6h1v1h-1zM483.7 189.3h1v1h-1zM489.3 190.5h1v1h-1zM479.5 189.9h1v1h-1zM497.5 184.3h1v1h-1zM491.2 181.5h1v1h-1zM480.9 191.8h1v1h-1zM483.6 188.9h1v1h-1zM480.4 185.3h1v1h-1zM465.0 192.3h1v1h-1zM487.5 184.9h1v1h-1zM482.4 186.6h1v1h-1zM466.3 193.2h1v1h-1zM488.0 191.9h1v1h-1zM475.8 183.7h1v1h-1zM478.5 190.1h1v1h-1zM466.0 194.8h1v1h-1zM480.2 185.4h1v1h-1zM484.1 188.3h1v1h-1zM476.9 191.9h1v1h-1zM480.4 193.6h1v1h-1zM464.4 188.4h1v1h-1zM484.9 183.2h1v1h-1zM480.0 187.8h1v1h-1zM480.1 188.2h1v1h-1zM486.1 188.9h1v1h-1zM489.2 188.7h1v1h-1zM479.7 182.8h1v1h-1zM488.1 191.4h1v1h-1zM496.0 181.1h1v1h-1zM471.1 192.8h1v1h-1zM481.1 191.7h1v1h-1zM466.5 193.8h1v1h-1zM483.3 190.6h1v1h-1zM492.0 189.4h1v1h-1zM479.2 187.2h1v1h-1zM470.6 188.4h1v1h-1zM475.7 198.7h1v1h-1zM483.8 195.3h1v1h-1zM467.5 197.1h1v1h-1zM468.3 195.1h1v1h-1zM484.2 183.3h1v1h-1zM468.7 198.9h1v1h-1zM480.9 189.1h1v1h-1zM471.2 191.4h1v1h-1zM466.7 195.1h1v1h-1zM487.2 186.3h1v1h-1zM489.9 193.3h1v1h-1zM473.6 181.9h1v1h-1zM500.0 191.3h1v1h-1zM481.7 191.7h1v1h-1zM484.9 186.0h1v1h-1zM482.0 192.9h1v1h-1zM471.3 195.8h1v1h-1zM489.3 191.5h1v1h-1zM481.8 193.2h1v1h-1zM484.9 188.2h1v1h-1zM481.9 193.6h1v1h-1zM477.3 194.4h1v1h-1zM500.8 191.4h1v1h-1zM484.5 191.7h1v1h-1zM478.8 183.8h1v1h-1zM486.5 190.9h1v1h-1zM470.4 186.6h1v1h-1zM483.9 186.3h1v1h-1zM503.9 185.5h1v1h-1zM475.0 191.3h1v1h-1zM485.0 187.9h1v1h-1zM470.7 192.6h1v1h-1zM481.1 191.5h1v1h-1zM490.3 188.8h1v1h-1zM472.1 191.3h1v1h-1zM472.8 192.2h1v1h-1zM490.8 190.6h1v1h-1zM483.1 185.7h1v1h-1zM486.5 183.0h1v1h-1zM485.4 192.8h1v1h-1zM469.8 191.8h1v1h-1zM466.2 183.1h1v1h-1zM464.7 196.3h1v1h-1zM485.0 193.1h1v1h-1zM468.6 184.5h1v1h-1zM465.6 187.5h1v1h-1zM476.0 188.3h1v1h-1zM479.5 185.0h1v1h-1zM483.0 186.7h1v1h-1zM465.2 191.7h1v1h-1zM492.1 191.3h1v1h-1zM472.6 181.4h1v1h-1zM481.9 189.6h1v1h-1zM480.3 193.6h1v1h-1zM472.2 181.6h1v1h-1zM484.1 190.1h1v1h-1zM483.6 188.7h1v1h-1zM490.4 185.7h1v1h-1zM497.2 189.7h1v1h-1zM499.2 191.5h1v1h-1zM489.0 192.3h1v1h-1zM486.7 196.3h1v1h-1zM477.8 187.3h1v1h-1zM468.0 183.8h1v1h-1zM484.5 186.9h1v1h-1zM475.9 191.0h1v1h-1zM478.6 194.4h1v1h-1zM476.8 192.3h1v1h-1zM484.5 186.7h1v1h-1zM477.4 195.3h1v1h-1zM501.4 187.9h1v1h-1zM488.5 189.2h1v1h-1zM476.6 189.5h1v1h-1zM484.2 190.6h1v1h-1zM493.1 189.8h1v1h-1zM470.7 191.4h1v1h-1zM482.9 180.2h1v1h-1zM476.5 187.0h1v1h-1zM481.6 191.2h1v1h-1zM476.8 196.3h1v1h-1zM482.6 193.9h1v1h-1zM485.0 193.2h1v1h-1zM486.5 195.4h1v1h-1zM468.3 194.4h1v1h-1zM487.2 193.7h1v1h-1zM481.4 193.5h1v1h-1zM475.6 191.5h1v1h-1zM480.6 186.4h1v1h-1zM495.0 181.2h1v1h-1zM479.8 191.7h1v1h-1zM473.6 186.3h1v1h-1zM487.3 188.3h1v1h-1zM479.5 192.8h1v1h-1zM487.3 186.0h1v1h-1zM483.6 192.9h1v1h-1zM493.1 188.1h1v1h-1zM476.1 187.2h1v1h-1zM478.0 192.6h1v1h-1zM490.8 191.0h1v1h-1zM496.1 185.5h1v1h-1zM483.2 191.4h1v1h-1zM491.9 183.8h1v1h-1zM485.5 189.6h1v1h-1zM481.5 191.0h1v1h-1zM467.1 188.3h1v1h-1zM499.6 187.2h1v1h-1zM491.5 193.7h1v1h-1zM461.8 190.6h1v1h-1zM488.3 184.4h1v1h-1zM476.3 185.2h1v1h-1zM472.6 188.3h1v1h-1zM476.5 186.4h1v1h-1zM487.7 182.5h1v1h-1zM480.9 190.4h1v1h-1zM479.5 191.5h1v1h-1zM479.9 186.4h1v1h-1zM478.0 190.7h1v1h-1zM485.9 192.8h1v1h-1zM463.7 194.2h1v1h-1zM469.8 192.6h1v1h-1zM479.9 192.8h1v1h-1zM471.2 189.1h1v1h-1zM482.7 193.2h1v1h-1zM478.0 197.7h1v1h-1zM484.7 187.0h1v1h-1zM479.9 183.1h1v1h-1zM486.5 186.4h1v1h-1zM481.3 186.2h1v1h-1zM487.7 189.8h1v1h-1zM478.4 195.2h1v1h-1zM466.3 194.7h1v1h-1zM481.6 196.6h1v1h-1zM481.8 191.7h1v1h-1zM477.3 191.1h1v1h-1zM490.3 181.2h1v1h-1zM486.2 190.8h1v1h-1zM495.1 185.4h1v1h-1zM478.6 188.5h1v1h-1zM478.5 189.5h1v1h-1zM486.3 195.5h1v1h-1zM494.8 191.2h1v1h-1zM476.0 191.1h1v1h-1zM486.2 183.9h1v1h-1zM481.7 188.4h1v1h-1zM479.4 189.4h1v1h-1zM489.9 192.0h1v1h-1zM489.7 190.8h1v1h-1zM488.2 191.0h1v1h-1zM476.5 187.3h1v1h-1zM482.1 193.6h1v1h-1zM467.7 202.6h1v1h-1zM486.8 183.9h1v1h-1zM471.0 187.8h1v1h-1zM479.9 190.6h1v1h-1zM489.5 192.4h1v1h-1zM480.1 191.2h1v1h-1zM483.5 190.1h1v1h-1zM476.5 196.5h1v1h-1zM504.7 182.1h1v1h-1zM471.8 183.7h1v1h-1zM477.3 184.8h1v1h-1zM481.1 193.1h1v1h-1zM505.0 189.7h1v1h-1zM477.6 189.1h1v1h-1zM483.0 184.1h1v1h-1zM489.5 185.2h1v1h-1zM464.3 194.1h1v1h-1zM490.4 192.0h1v1h-1zM485.9 186.7h1v1h-1zM495.9 184.2h1v1h-1zM496.1 183.8h1v1h-1zM487.3 186.4h1v1h-1zM492.6 190.4h1v1h-1zM477.5 191.1h1v1h-1zM473.2 192.4h1v1h-1zM481.1 190.1h1v1h-1zM484.9 189.9h1v1h-1zM480.5 184.8h1v1h-1zM486.9 184.7h1v1h-1zM488.7 189.8h1v1h-1zM498.3 188.4h1v1h-1zM482.0 193.7h1v1h-1zM479.3 189.7h1v1h-1zM487.5 185.4h1v1h-1zM485.4 188.3h1v1h-1zM488.5 187.6h1v1h-1zM498.1 189.0h1v1h-1zM476.4 189.9h1v1h-1zM489.9 190.3h1v1h-1zM495.2 189.6h1v1h-1zM494.7 189.7h1v1h-1zM470.8 193.8h1v1h-1zM480.9 186.2h1v1h-1zM494.6 192.1h1v1h-1zM483.6 195.9h1v1h-1zM487.3 192.2h1v1h-1zM482.6 196.0h1v1h-1zM494.7 189.6h1v1h-1zM485.6 187.4h1v1h-1zM481.0 192.3h1v1h-1zM484.4 189.6h1v1h-1zM495.5 187.4h1v1h-1zM486.9 195.5h1v1h-1zM469.5 188.9h1v1h-1zM465.4 197.2h1v1h-1zM489.1 186.9h1v1h-1zM468.8 185.8h1v1h-1zM484.2 192.7h1v1h-1zM476.8 191.6h1v1h-1zM484.7 190.7h1v1h-1zM476.4 192.2h1v1h-1zM462.2 197.8h1v1h-1zM494.5 189.7h1v1h-1zM482.1 189.5h1v1h-1zM480.8 190.3h1v1h-1zM495.7 190.0h1v1h-1zM488.2 187.4h1v1h-1zM491.7 190.4h1v1h-1zM480.4 183.1h1v1h-1zM483.2 189.9h1v1h-1zM486.0 189.8h1v1h-1zM476.9 194.1h1v1h-1zM489.2 185.3h1v1h-1zM485.8 189.1h1v1h-1zM479.5 192.7h1v1h-1zM478.6 201.8h1v1h-1zM489.5 190.0h1v1h-1zM480.7 193.1h1v1h-1zM485.5 188.0h1v1h-1zM484.5 198.2h1v1h-1zM480.4 190.0h1v1h-1zM454.6 194.2h1v1h-1zM485.1 190.6h1v1h-1zM489.0 184.5h1v1h-1zM476.6 187.6h1v1h-1zM476.4 190.1h1v1h-1zM489.6 186.2h1v1h-1zM471.9 195.8h1v1h-1zM492.7 186.8h1v1h-1zM486.9 197.9h1v1h-1zM493.9 189.4h1v1h-1zM481.9 187.7h1v1h-1zM483.1 190.8h1v1h-1zM484.6 192.5h1v1h-1zM469.1 192.5h1v1h-1zM474.7 193.2h1v1h-1zM491.7 187.8h1v1h-1zM476.4 188.3h1v1h-1zM474.1 191.2h1v1h-1zM485.0 196.2h1v1h-1zM493.9 186.7h1v1h-1zM481.8 190.0h1v1h-1zM479.9 184.8h1v1h-1zM482.0 187.7h1v1h-1zM485.9 190.7h1v1h-1zM468.9 191.0h1v1h-1zM485.3 193.8h1v1h-1zM485.7 193.1h1v1h-1zM491.2 186.9h1v1h-1zM491.5 188.1h1v1h-1zM487.9 191.5h1v1h-1zM499.5 188.5h1v1h-1zM482.5 188.8h1v1h-1zM481.5 183.3h1v1h-1zM496.3 192.8h1v1h-1zM483.5 189.9h1v1h-1zM477.5 191.4h1v1h-1zM477.8 188.1h1v1h-1zM482.4 195.5h1v1h-1zM471.0 191.4h1v1h-1zM490.9 189.2h1v1h-1zM485.1 182.0h1v1h-1zM493.3 186.4h1v1h-1zM473.8 191.1h1v1h-1zM479.5 191.8h1v1h-1zM477.0 193.3h1v1h-1zM487.0 188.4h1v1h-1zM485.8 193.1h1v1h-1zM488.9 188.3h1v1h-1zM488.4 188.2h1v1h-1zM473.3 191.3h1v1h-1zM484.8 183.2h1v1h-1zM483.2 181.5h1v1h-1zM482.3 196.6h1v1h-1zM486.7 182.6h1v1h-1zM466.4 190.1h1v1h-1zM476.6 192.9h1v1h-1zM480.0 187.6h1v1h-1zM475.2 195.0h1v1h-1zM472.5 184.1h1v1h-1zM490.1 188.9h1v1h-1zM489.7 190.8h1v1h-1zM496.6 195.4h1v1h-1zM474.3 196.5h1v1h-1zM462.5 190.3h1v1h-1zM487.6 192.0h1v1h-1zM479.1 191.2h1v1h-1zM472.8 186.7h1v1h-1zM486.2 187.1h1v1h-1zM481.1 193.8h1v1h-1zM467.1 191.1h1v1h-1zM482.4 186.1h1v1h-1zM467.7 189.7h1v1h-1zM486.1 184.3h1v1h-1zM470.9 185.6h1v1h-1zM468.6 193.2h1v1h-1zM487.5 190.4h1v1h-1zM489.4 192.3h1v1h-1zM479.2 184.3h1v1h-1zM471.7 187.1h1v1h-1zM486.4 190.4h1v1h-1zM482.4 190.0h1v1h-1zM483.4 188.7h1v1h-1zM478.0 185.8h1v1h-1zM468.7 190.6h1v1h-1zM477.3 185.1h1v1h-1zM493.3 193.3h1v1h-1zM475.7 193.1h1v1h-1zM480.4 186.1h1v1h-1zM480.8 194.3h1v1h-1zM489.2 184.5h1v1h-1zM483.7 191.4h1v1h-1zM477.8 190.8h1v1h-1zM497.2 185.5h1v1h-1zM482.8 194.3h1v1h-1zM483.9 183.0h1v1h-1zM475.7 189.3h1v1h-1zM468.6 190.5h1v1h-1zM485.1 182.3h1v1h-1zM478.4 184.4h1v1h-1zM484.0 189.6h1v1h-1zM462.6 193.6h1v1h-1zM495.5 183.5h1v1h-1zM481.7 191.5h1v1h-1zM488.2 190.1h1v1h-1zM472.3 193.9h1v1h-1zM482.2 188.5h1v1h-1zM482.7 189.0h1v1h-1zM490.7 190.2h1v1h-1zM488.0 186.4h1v1h-1zM464.2 189.3h1v1h-1zM483.2 184.8h1v1h-1zM482.5 191.3h1v1h-1zM478.7 194.7h1v1h-1zM483.3 182.5h1v1h-1zM486.3 187.8h1v1h-1zM489.5 191.0h1v1h-1zM471.9 196.8h1v1h-1zM474.3 191.9h1v1h-1zM481.8 186.7h1v1h-1zM487.0 191.5h1v1h-1zM473.4 199.7h1v1h-1zM481.5 191.3h1v1h-1zM470.8 194.3h1v1h-1zM481.8 196.3h1v1h-1zM480.0 184.9h1v1h-1zM485.7 192.3h1v1h-1zM493.1 193.6h1v1h-1zM475.0 194.9h1v1h-1zM485.1 190.3h1v1h-1zM468.3 191.1h1v1h-1zM484.1 187.8h1v1h-1zM496.4 183.0h1v1h-1zM468.6 190.5h1v1h-1zM477.2 186.6h1v1h-1zM454.9 194.2h1v1h-1zM485.1 188.8h1v1h-1zM499.9 185.0h1v1h-1zM473.7 190.0h1v1h-1zM484.4 189.9h1v1h-1zM493.3 183.7h1v1h-1zM475.2 193.5h1v1h-1zM483.4 190.5h1v1h-1zM475.2 193.3h1v1h-1zM477.6 189.6h1v1h-1zM481.9 189.4h1v1h-1zM489.1 189.4h1v1h-1zM483.7 190.2h1v1h-1zM481.4 188.8h1v1h-1zM480.3 189.2h1v1h-1zM490.9 186.7h1v1h-1zM486.0 188.1h1v1h-1zM485.3 186.9h1v1h-1zM466.1 189.8h1v1h-1zM480.0 186.9h1v1h-1zM472.7 196.6h1v1h-1zM496.6 185.3h1v1h-1zM487.5 188.8h1v1h-1zM494.1 184.6h1v1h-1zM474.8 191.8h1v1h-1zM468.9 196.7h1v1h-1zM475.1 188.6h1v1h-1zM487.3 189.8h1v1h-1zM476.1 190.8h1v1h-1zM488.0 192.2h1v1h-1zM493.4 188.0h1v1h-1zM479.1 190.2h1v1h-1zM490.3 187.9h1v1h-1zM463.3 186.2h1v1h-1zM471.5 195.5h1v1h-1zM476.8 196.9h1v1h-1zM479.1 187.6h1v1h-1zM469.9 195.3h1v1h-1zM478.8 190.7h1v1h-1zM490.8 194.0h1v1h-1zM489.1 187.1h1v1h-1zM485.6 191.2h1v1h-1zM474.2 196.3h1v1h-1zM494.0 190.3h1v1h-1zM487.6 190.1h1v1h-1zM473.5 191.6h1v1h-1zM490.4 186.8h1v1h-1zM479.1 191.3h1v1h-1zM486.7 186.1h1v1h-1zM485.3 195.8h1v1h-1zM487.1 191.6h1v1h-1zM494.8 187.8h1v1h-1zM503.5 181.5h1v1h-1zM485.6 193.6h1v1h-1zM483.3 195.0h1v1h-1zM482.0 192.1h1v1h-1zM486.3 193.0h1v1h-1zM487.5 192.8h1v1h-1zM471.4 192.2h1v1h-1zM483.3 189.4h1v1h-1zM502.0 187.7h1v1h-1zM489.1 193.8h1v1h-1zM491.8 186.9h1v1h-1zM482.2 185.0h1v1h-1zM500.9 187.9h1v1h-1zM487.6 190.0h1v1h-1zM480.0 190.6h1v1h-1zM476.3 192.1h1v1h-1zM486.7 185.6h1v1h-1zM497.7 184.9h1v1h-1zM477.1 190.0h1v1h-1zM474.3 191.5h1v1h-1zM463.0 195.4h1v1h-1zM488.6 192.0h1v1h-1zM473.4 192.6h1v1h-1zM476.3 190.9h1v1h-1zM473.4 188.4h1v1h-1zM474.9 189.9h1v1h-1zM489.0 183.7h1v1h-1zM475.8 188.9h1v1h-1zM483.7 191.6h1v1h-1zM476.1 193.3h1v1h-1zM479.1 187.3h1v1h-1zM487.8 193.5h1v1h-1zM487.8 181.1h1v1h-1zM472.3 193.8h1v1h-1zM482.4 190.2h1v1h-1zM474.2 191.0h1v1h-1zM488.2 190.7h1v1h-1zM476.9 189.7h1v1h-1zM474.2 199.5h1v1h-1zM489.1 187.5h1v1h-1zM477.3 189.9h1v1h-1zM483.2 191.2h1v1h-1zM488.1 182.3h1v1h-1zM477.5 190.5h1v1h-1zM479.3 185.7h1v1h-1zM487.1 194.2h1v1h-1zM501.3 185.3h1v1h-1zM487.1 188.9h1v1h-1zM488.3 182.9h1v1h-1zM482.3 196.6h1v1h-1zM481.7 184.1h1v1h-1zM494.7 182.9h1v1h-1zM475.7 188.6h1v1h-1zM476.0 183.1h1v1h-1zM494.6 183.4h1v1h-1zM475.4 189.7h1v1h-1zM471.4 195.6h1v1h-1zM486.1 193.3h1v1h-1zM490.5 184.6h1v1h-1zM497.0 185.6h1v1h-1zM500.9 189.3h1v1h-1zM462.8 197.4h1v1h-1zM480.4 187.3h1v1h-1zM479.3 189.5h1v1h-1zM485.2 189.4h1v1h-1zM474.8 191.7h1v1h-1zM482.4 189.1h1v1h-1zM484.5 196.0h1v1h-1zM483.8 188.9h1v1h-1zM474.8 195.5h1v1h-1zM484.1 191.6h1v1h-1zM474.6 203.8h1v1h-1zM474.8 196.5h1v1h-1zM479.9 183.6h1v1h-1zM488.9 191.3h1v1h-1zM464.9 185.6h1v1h-1zM481.5 195.0h1v1h-1zM493.9 187.1h1v1h-1zM483.4 182.3h1v1h-1zM477.5 187.3h1v1h-1zM484.2 188.5h1v1h-1zM495.6 193.0h1v1h-1zM480.6 190.6h1v1h-1zM476.0 192.8h1v1h-1zM488.6 186.6h1v1h-1zM479.7 188.6h1v1h-1zM476.0 185.6h1v1h-1zM489.0 187.3h1v1h-1zM474.8 190.1h1v1h-1zM479.4 190.0h1v1h-1zM493.4 185.0h1v1h-1zM483.3 188.8h1v1h-1zM492.8 186.3h1v1h-1zM466.6 193.1h1v1h-1zM469.0 189.5h1v1h-1zM475.2 188.6h1v1h-1zM480.7 186.6h1v1h-1zM465.5 189.8h1v1h-1zM483.7 188.2h1v1h-1zM477.2 186.7h1v1h-1zM477.4 194.7h1v1h-1zM482.1 193.2h1v1h-1zM479.6 191.2h1v1h-1zM471.5 194.0h1v1h-1zM479.8 185.5h1v1h-1zM471.5 189.0h1v1h-1zM493.1 186.0h1v1h-1zM477.8 191.0h1v1h-1zM479.5 192.8h1v1h-1zM476.1 193.6h1v1h-1zM482.0 184.3h1v1h-1zM483.7 189.0h1v1h-1zM480.6 193.8h1v1h-1zM472.8 190.1h1v1h-1zM491.3 189.7h1v1h-1zM481.5 183.6h1v1h-1zM465.6 192.4h1v1h-1zM462.5 191.8h1v1h-1zM472.0 184.0h1v1h-1zM471.6 194.1h1v1h-1zM467.4 196.9h1v1h-1zM473.3 193.9h1v1h-1zM484.4 187.9h1v1h-1zM492.3 187.4h1v1h-1zM483.5 186.9h1v1h-1zM484.5 191.3h1v1h-1zM491.4 189.7h1v1h-1zM500.3 191.7h1v1h-1zM491.5 188.0h1v1h-1zM486.8 192.1h1v1h-1zM480.5 189.0h1v1h-1zM473.0 188.5h1v1h-1zM485.3 189.0h1v1h-1zM491.9 184.9h1v1h-1zM484.3 186.1h1v1h-1zM477.0 193.1h1v1h-1zM486.7 191.3h1v1h-1zM480.9 186.9h1v1h-1zM476.5 187.2h1v1h-1zM464.7 191.7h1v1h-1zM486.3 186.1h1v1h-1zM475.9 193.1h1v1h-1zM491.6 186.7h1v1h-1zM476.2 185.7h1v1h-1zM482.4 186.4h1v1h-1zM476.8 191.8h1v1h-1zM496.8 194.4h1v1h-1zM493.3 189.5h1v1h-1zM481.6 184.6h1v1h-1zM494.0 184.2h1v1h-1zM471.0 191.9h1v1h-1zM487.3 188.0h1v1h-1zM476.9 190.8h1v1h-1zM480.5 196.9h1v1h-1zM477.8 186.4h1v1h-1zM486.8 185.1h1v1h-1zM466.4 191.8h1v1h-1zM477.7 190.3h1v1h-1zM493.5 188.3h1v1h-1zM462.2 195.7h1v1h-1zM479.9 189.7h1v1h-1zM470.3 195.2h1v1h-1zM458.8 193.9h1v1h-1zM485.2 190.3h1v1h-1zM477.6 184.0h1v1h-1zM492.7 184.6h1v1h-1zM465.7 190.8h1v1h-1zM485.0 191.3h1v1h-1zM495.4 185.0h1v1h-1zM465.9 188.7h1v1h-1zM487.4 185.9h1v1h-1zM487.8 194.7h1v1h-1zM483.6 183.9h1v1h-1zM493.9 188.4h1v1h-1zM487.7 188.7h1v1h-1zM475.8 195.7h1v1h-1zM475.3 193.1h1v1h-1zM480.8 188.6h1v1h-1zM496.1 190.3h1v1h-1zM480.8 194.4h1v1h-1zM489.7 187.0h1v1h-1zM480.8 183.8h1v1h-1zM487.4 184.4h1v1h-1zM486.7 189.0h1v1h-1zM492.6 184.2h1v1h-1zM497.8 187.4h1v1h-1zM477.8 194.4h1v1h-1zM472.2 191.9h1v1h-1zM481.4 197.5h1v1h-1zM481.8 189.2h1v1h-1zM484.5 184.8h1v1h-1zM490.8 188.9h1v1h-1zM478.6 193.7h1v1h-1zM482.3 184.6h1v1h-1zM482.3 191.2h1v1h-1zM491.8 194.0h1v1h-1zM478.6 191.0h1v1h-1zM492.6 194.4h1v1h-1zM499.0 181.4h1v1h-1zM480.4 191.9h1v1h-1zM494.6 181.5h1v1h-1zM487.1 182.5h1v1h-1zM481.9 184.4h1v1h-1zM499.9 190.5h1v1h-1zM493.2 188.9h1v1h-1zM479.9 195.0h1v1h-1zM487.4 185.6h1v1h-1zM476.8 184.4h1v1h-1zM470.6 194.6h1v1h-1zM491.7 185.5h1v1h-1zM482.7 184.0h1v1h-1zM496.9 189.9h1v1h-1zM484.1 193.0h1v1h-1zM485.1 186.3h1v1h-1zM481.8 190.2h1v1h-1zM484.2 191.2h1v1h-1zM475.9 187.2h1v1h-1zM480.7 186.8h1v1h-1zM467.6 193.0h1v1h-1zM467.0 198.0h1v1h-1zM470.9 187.9h1v1h-1zM477.2 193.3h1v1h-1zM481.8 191.8h1v1h-1zM481.0 190.5h1v1h-1zM492.7 187.2h1v1h-1zM503.9 183.0h1v1h-1zM461.6 195.5h1v1h-1zM495.1 187.1h1v1h-1zM490.6 179.2h1v1h-1zM477.5 191.6h1v1h-1zM483.8 186.5h1v1h-1zM465.6 191.9h1v1h-1zM480.5 197.4h1v1h-1zM496.0 188.6h1v1h-1zM472.1 183.7h1v1h-1zM477.2 188.9h1v1h-1zM483.2 185.3h1v1h-1zM488.2 192.3h1v1h-1zM482.7 177.4h1v1h-1zM477.8 192.5h1v1h-1zM487.9 188.9h1v1h-1zM477.3 189.2h1v1h-1zM503.0 187.8h1v1h-1zM493.1 194.5h1v1h-1zM483.2 182.7h1v1h-1zM475.3 188.9h1v1h-1zM477.4 190.4h1v1h-1zM475.9 190.8h1v1h-1zM479.4 189.2h1v1h-1zM485.9 190.9h1v1h-1zM471.1 192.1h1v1h-1zM483.7 187.9h1v1h-1zM482.3 182.9h1v1h-1zM474.0 193.6h1v1h-1zM493.3 193.4h1v1h-1zM486.3 193.5h1v1h-1zM485.0 191.0h1v1h-1zM477.3 195.1h1v1h-1zM475.8 185.5h1v1h-1zM482.5 192.9h1v1h-1zM469.5 193.3h1v1h-1zM485.2 189.2h1v1h-1zM472.3 195.8h1v1h-1zM481.9 189.4h1v1h-1zM487.8 187.7h1v1h-1zM479.8 186.6h1v1h-1zM476.5 184.1h1v1h-1zM475.6 189.4h1v1h-1zM483.2 196.3h1v1h-1zM472.4 198.5h1v1h-1zM481.5 187.9h1v1h-1zM490.3 189.3h1v1h-1zM465.7 198.4h1v1h-1zM475.1 187.4h1v1h-1zM484.2 188.0h1v1h-1zM472.3 186.4h1v1h-1zM472.9 197.5h1v1h-1zM471.2 189.4h1v1h-1zM489.1 187.5h1v1h-1zM463.3 192.9h1v1h-1zM480.6 187.0h1v1h-1zM479.9 199.9h1v1h-1zM481.7 194.4h1v1h-1zM474.8 199.1h1v1h-1zM482.2 182.4h1v1h-1zM477.0 193.7h1v1h-1zM474.1 190.7h1v1h-1zM503.6 182.4h1v1h-1zM490.1 189.1h1v1h-1zM472.1 197.8h1v1h-1zM475.3 195.6h1v1h-1zM485.1 187.7h1v1h-1zM493.7 201.2h1v1h-1zM479.7 194.9h1v1h-1zM487.5 186.3h1v1h-1zM483.1 186.9h1v1h-1zM491.5 186.3h1v1h-1zM476.8 190.8h1v1h-1zM474.8 189.5h1v1h-1zM483.8 187.6h1v1h-1zM483.8 193.6h1v1h-1zM481.8 187.9h1v1h-1zM491.9 189.2h1v1h-1zM487.4 187.1h1v1h-1zM482.4 189.4h1v1h-1zM471.5 196.6h1v1h-1zM487.4 189.6h1v1h-1zM488.9 192.2h1v1h-1zM476.0 191.2h1v1h-1zM480.8 194.9h1v1h-1zM472.1 192.0h1v1h-1zM482.6 194.7h1v1h-1zM479.7 186.0h1v1h-1zM466.4 197.3h1v1h-1zM481.6 192.3h1v1h-1zM478.8 187.5h1v1h-1zM478.7 188.5h1v1h-1zM490.5 181.5h1v1h-1zM485.7 188.8h1v1h-1zM489.1 189.9h1v1h-1zM478.9 188.9h1v1h-1zM493.2 192.5h1v1h-1zM475.1 183.3h1v1h-1zM488.0 188.5h1v1h-1zM468.9 187.7h1v1h-1zM483.6 188.0h1v1h-1zM473.0 194.9h1v1h-1zM469.3 192.2h1v1h-1zM487.4 194.9h1v1h-1zM483.3 188.6h1v1h-1zM486.0 187.0h1v1h-1zM482.0 189.1h1v1h-1zM484.0 184.2h1v1h-1zM481.4 186.9h1v1h-1zM480.4 190.1h1v1h-1zM482.8 193.4h1v1h-1zM501.4 183.0h1v1h-1zM473.1 188.0h1v1h-1zM469.0 186.1h1v1h-1zM474.0 185.9h1v1h-1zM476.1 190.6h1v1h-1zM486.4 189.3h1v1h-1zM491.3 189.5h1v1h-1zM491.7 187.2h1v1h-1zM480.1 194.0h1v1h-1zM488.2 182.1h1v1h-1zM497.9 187.0h1v1h-1zM487.6 191.2h1v1h-1zM493.3 186.6h1v1h-1zM473.9 192.7h1v1h-1zM489.8 187.6h1v1h-1zM489.1 187.2h1v1h-1zM471.8 192.0h1v1h-1zM482.6 187.2h1v1h-1zM487.6 188.7h1v1h-1zM474.6 193.3h1v1h-1zM490.0 184.3h1v1h-1zM490.5 190.9h1v1h-1zM484.8 193.7h1v1h-1zM481.3 196.1h1v1h-1zM480.6 188.9h1v1h-1zM485.4 193.5h1v1h-1zM491.8 181.3h1v1h-1zM470.6 186.5h1v1h-1zM483.8 189.8h1v1h-1zM484.3 185.2h1v1h-1zM474.7 187.5h1v1h-1zM471.1 187.7h1v1h-1zM480.2 188.9h1v1h-1zM467.7 189.6h1v1h-1zM483.9 185.8h1v1h-1zM479.6 190.0h1v1h-1zM472.5 189.3h1v1h-1zM482.0 189.7h1v1h-1zM474.6 192.1h1v1h-1zM475.7 192.8h1v1h-1zM491.9 187.3h1v1h-1zM475.2 189.2h1v1h-1zM459.9 191.8h1v1h-1zM484.4 185.2h1v1h-1zM472.9 192.9h1v1h-1zM474.1 190.8h1v1h-1zM495.0 191.4h1v1h-1zM481.1 190.9h1v1h-1zM488.7 186.7h1v1h-1zM469.8 194.8h1v1h-1zM472.8 190.1h1v1h-1zM474.5 190.6h1v1h-1zM487.8 190.4h1v1h-1zM475.9 191.6h1v1h-1zM465.1 189.6h1v1h-1zM488.0 191.2h1v1h-1zM477.1 191.9h1v1h-1zM482.3 189.5h1v1h-1zM488.1 187.9h1v1h-1zM500.1 187.6h1v1h-1zM481.2 184.2h1v1h-1zM495.1 192.3h1v1h-1zM469.8 182.5h1v1h-1zM483.0 185.7h1v1h-1zM484.1 185.7h1v1h-1zM462.5 194.2h1v1h-1zM473.1 191.2h1v1h-1zM475.3 192.0h1v1h-1zM485.8 184.5h1v1h-1zM477.3 194.7h1v1h-1zM477.9 193.5h1v1h-1zM475.7 182.9h1v1h-1zM485.5 189.7h1v1h-1zM481.0 182.6h1v1h-1zM480.9 187.7h1v1h-1zM479.6 191.9h1v1h-1zM487.4 188.7h1v1h-1zM475.6 185.7h1v1h-1zM481.4 187.3h1v1h-1zM481.8 193.5h1v1h-1zM485.0 189.6h1v1h-1zM490.4 190.7h1v1h-1zM484.7 182.8h1v1h-1zM470.4 193.3h1v1h-1zM490.4 188.8h1v1h-1zM492.3 184.3h1v1h-1zM492.9 192.8h1v1h-1zM489.5 188.1h1v1h-1zM468.8 194.9h1v1h-1zM481.1 187.8h1v1h-1zM489.0 189.8h1v1h-1zM489.2 190.3h1v1h-1zM481.5 189.2h1v1h-1zM483.4 189.7h1v1h-1zM473.0 192.1h1v1h-1zM485.8 188.6h1v1h-1zM464.7 187.8h1v1h-1zM480.5 191.0h1v1h-1zM490.6 187.7h1v1h-1zM472.2 192.1h1v1h-1zM493.3 184.7h1v1h-1zM499.2 192.3h1v1h-1zM486.9 192.1h1v1h-1zM478.1 195.3h1v1h-1zM478.4 197.0h1v1h-1zM472.2 194.8h1v1h-1zM488.8 187.4h1v1h-1zM473.1 186.5h1v1h-1zM484.1 193.4h1v1h-1zM473.2 192.1h1v1h-1zM487.2 191.8h1v1h-1zM470.8 196.3h1v1h-1zM481.5 189.1h1v1h-1zM476.4 187.2h1v1h-1zM491.2 189.6h1v1h-1zM479.1 188.5h1v1h-1zM481.2 186.8h1v1h-1zM492.2 189.4h1v1h-1zM473.0 190.2h1v1h-1zM471.9 193.2h1v1h-1zM481.9 185.7h1v1h-1zM473.7 190.6h1v1h-1zM496.7 186.3h1v1h-1zM483.6 189.3h1v1h-1zM484.5 187.0h1v1h-1zM479.5 192.4h1v1h-1zM455.5 188.8h1v1h-1zM493.2 189.4h1v1h-1zM481.3 193.7h1v1h-1zM465.0 192.4h1v1h-1zM473.1 191.4h1v1h-1zM482.0 186.9h1v1h-1zM492.8 188.8h1v1h-1zM485.1 190.7h1v1h-1zM485.3 189.7h1v1h-1zM485.0 190.5h1v1h-1zM474.6 192.8h1v1h-1zM476.5 191.4h1v1h-1zM482.3 183.0h1v1h-1zM470.8 187.4h1v1h-1zM482.5 189.2h1v1h-1zM487.9 196.4h1v1h-1zM462.0 196.8h1v1h-1zM480.2 189.9h1v1h-1zM479.8 189.3h1v1h-1zM483.0 187.9h1v1h-1zM497.1 189.3h1v1h-1zM470.3 190.5h1v1h-1zM498.7 187.1h1v1h-1zM487.9 185.5h1v1h-1zM503.3 184.6h1v1h-1zM478.9 186.6h1v1h-1zM485.2 186.3h1v1h-1zM481.1 188.5h1v1h-1zM486.4 193.1h1v1h-1zM474.5 192.1h1v1h-1z" fill="#2a2a2a" />
<line x1="401.8" y1="171.2" x2="511.1" y2="171.2" stroke="#444" stroke-width="1"/>
<line x1="511.1" y1="171.2" x2="511.1" y2="279.5" stroke="#666" stroke-width="1"/>
<line x1="401.3" y1="279.5" x2="511.6" y2="279.5" stroke="#222" stroke-width="1.2"/>
<line x1="401.8" y1="170.7" x2="401.8" y2="279.5" stroke="#333" stroke-width="1.2"/>
<line x1="467.2" y1="171.2" x2="467.2" y2="279.5" stroke="#777" stroke-width="1"/>
<line x1="401.8" y1="217.9" x2="511.1" y2="217.9" stroke="#808080" stroke-width="1.1"/>
<line x1="399.2" y1="180.6" x2="401.8" y2="180.6" stroke="#333" stroke-width="0.9"/>
<text x="396.4" y="182.9" text-anchor="end" font-size="7.3" fill="#222">10<tspan dx="0.4" dy="-2.7" font-size="5.2">5</tspan></text>
<line x1="399.2" y1="205.0" x2="401.8" y2="205.0" stroke="#333" stroke-width="0.9"/>
<text x="396.4" y="207.3" text-anchor="end" font-size="7.3" fill="#222">10<tspan dx="0.4" dy="-2.7" font-size="5.2">4</tspan></text>
<line x1="399.2" y1="230.2" x2="401.8" y2="230.2" stroke="#333" stroke-width="0.9"/>
<text x="396.4" y="232.5" text-anchor="end" font-size="7.3" fill="#222">10<tspan dx="0.4" dy="-2.7" font-size="5.2">3</tspan></text>
<line x1="399.2" y1="256.2" x2="401.8" y2="256.2" stroke="#333" stroke-width="0.9"/>
<text x="396.4" y="258.5" text-anchor="end" font-size="7.3" fill="#222">10<tspan dx="0.4" dy="-2.7" font-size="5.2">2</tspan></text>
<line x1="399.2" y1="268.5" x2="401.8" y2="268.5" stroke="#333" stroke-width="0.9"/>
<text x="396.2" y="270.9" text-anchor="end" font-size="7" fill="#222">0</text>
<line x1="400.4" y1="197.7" x2="401.8" y2="197.7" stroke="#444" stroke-width="0.7"/>
<line x1="400.4" y1="193.4" x2="401.8" y2="193.4" stroke="#444" stroke-width="0.7"/>
<line x1="400.4" y1="190.3" x2="401.8" y2="190.3" stroke="#444" stroke-width="0.7"/>
<line x1="400.4" y1="187.9" x2="401.8" y2="187.9" stroke="#444" stroke-width="0.7"/>
<line x1="400.4" y1="186.0" x2="401.8" y2="186.0" stroke="#444" stroke-width="0.7"/>
<line x1="400.4" y1="184.4" x2="401.8" y2="184.4" stroke="#444" stroke-width="0.7"/>
<line x1="400.4" y1="183.0" x2="401.8" y2="183.0" stroke="#444" stroke-width="0.7"/>
<line x1="400.4" y1="181.7" x2="401.8" y2="181.7" stroke="#444" stroke-width="0.7"/>
<line x1="400.4" y1="222.6" x2="401.8" y2="222.6" stroke="#444" stroke-width="0.7"/>
<line x1="400.4" y1="218.2" x2="401.8" y2="218.2" stroke="#444" stroke-width="0.7"/>
<line x1="400.4" y1="215.0" x2="401.8" y2="215.0" stroke="#444" stroke-width="0.7"/>
<line x1="400.4" y1="212.6" x2="401.8" y2="212.6" stroke="#444" stroke-width="0.7"/>
<line x1="400.4" y1="210.6" x2="401.8" y2="210.6" stroke="#444" stroke-width="0.7"/>
<line x1="400.4" y1="208.9" x2="401.8" y2="208.9" stroke="#444" stroke-width="0.7"/>
<line x1="400.4" y1="207.4" x2="401.8" y2="207.4" stroke="#444" stroke-width="0.7"/>
<line x1="400.4" y1="206.2" x2="401.8" y2="206.2" stroke="#444" stroke-width="0.7"/>
<line x1="400.4" y1="248.4" x2="401.8" y2="248.4" stroke="#444" stroke-width="0.7"/>
<line x1="400.4" y1="243.8" x2="401.8" y2="243.8" stroke="#444" stroke-width="0.7"/>
<line x1="400.4" y1="240.5" x2="401.8" y2="240.5" stroke="#444" stroke-width="0.7"/>
<line x1="400.4" y1="238.0" x2="401.8" y2="238.0" stroke="#444" stroke-width="0.7"/>
<line x1="400.4" y1="236.0" x2="401.8" y2="236.0" stroke="#444" stroke-width="0.7"/>
<line x1="400.4" y1="234.2" x2="401.8" y2="234.2" stroke="#444" stroke-width="0.7"/>
<line x1="400.4" y1="232.7" x2="401.8" y2="232.7" stroke="#444" stroke-width="0.7"/>
<line x1="400.4" y1="231.4" x2="401.8" y2="231.4" stroke="#444" stroke-width="0.7"/>
<line x1="413.6" y1="279.5" x2="413.6" y2="281.8" stroke="#333" stroke-width="0.9"/>
<text x="413.9" y="292.6" text-anchor="middle" font-size="7" fill="#222">0</text>
<line x1="423.6" y1="279.5" x2="423.6" y2="281.8" stroke="#333" stroke-width="0.9"/>
<text x="423.3" y="292.6" text-anchor="middle" font-size="7.5" fill="#222">10<tspan dx="0.4" dy="-2.8" font-size="5.3">2</tspan></text>
<line x1="450.5" y1="279.5" x2="450.5" y2="281.8" stroke="#333" stroke-width="0.9"/>
<text x="450.2" y="292.6" text-anchor="middle" font-size="7.5" fill="#222">10<tspan dx="0.4" dy="-2.8" font-size="5.3">3</tspan></text>
<line x1="475.9" y1="279.5" x2="475.9" y2="281.8" stroke="#333" stroke-width="0.9"/>
<text x="475.6" y="292.6" text-anchor="middle" font-size="7.5" fill="#222">10<tspan dx="0.4" dy="-2.8" font-size="5.3">4</tspan></text>
<line x1="501.3" y1="279.5" x2="501.3" y2="281.8" stroke="#333" stroke-width="0.9"/>
<text x="501.0" y="292.6" text-anchor="middle" font-size="7.5" fill="#222">10<tspan dx="0.4" dy="-2.8" font-size="5.3">5</tspan></text>
<line x1="458.1" y1="279.5" x2="458.1" y2="280.9" stroke="#444" stroke-width="0.7"/>
<line x1="462.6" y1="279.5" x2="462.6" y2="280.9" stroke="#444" stroke-width="0.7"/>
<line x1="465.8" y1="279.5" x2="465.8" y2="280.9" stroke="#444" stroke-width="0.7"/>
<line x1="468.3" y1="279.5" x2="468.3" y2="280.9" stroke="#444" stroke-width="0.7"/>
<line x1="470.3" y1="279.5" x2="470.3" y2="280.9" stroke="#444" stroke-width="0.7"/>
<line x1="472.0" y1="279.5" x2="472.0" y2="280.9" stroke="#444" stroke-width="0.7"/>
<line x1="473.4" y1="279.5" x2="473.4" y2="280.9" stroke="#444" stroke-width="0.7"/>
<line x1="474.7" y1="279.5" x2="474.7" y2="280.9" stroke="#444" stroke-width="0.7"/>
<line x1="483.5" y1="279.5" x2="483.5" y2="280.9" stroke="#444" stroke-width="0.7"/>
<line x1="488.0" y1="279.5" x2="488.0" y2="280.9" stroke="#444" stroke-width="0.7"/>
<line x1="491.2" y1="279.5" x2="491.2" y2="280.9" stroke="#444" stroke-width="0.7"/>
<line x1="493.7" y1="279.5" x2="493.7" y2="280.9" stroke="#444" stroke-width="0.7"/>
<line x1="495.7" y1="279.5" x2="495.7" y2="280.9" stroke="#444" stroke-width="0.7"/>
<line x1="497.4" y1="279.5" x2="497.4" y2="280.9" stroke="#444" stroke-width="0.7"/>
<line x1="498.8" y1="279.5" x2="498.8" y2="280.9" stroke="#444" stroke-width="0.7"/>
<line x1="500.1" y1="279.5" x2="500.1" y2="280.9" stroke="#444" stroke-width="0.7"/>
<text x="404.1" y="179.3" font-size="7.2" letter-spacing="0.25" fill="#222">5.22</text>
<text x="509.8" y="179.3" text-anchor="end" font-size="7.2" letter-spacing="0.25" fill="#222">92.8</text>
<text x="403.9" y="274.0" font-size="7.2" letter-spacing="0.25" fill="#222">1.93</text>
<text x="509.8" y="274.0" text-anchor="end" font-size="7.2" letter-spacing="0.25" fill="#222">0.0378</text>
<path d="M349.9 318.4h1v1h-1zM344.2 317.2h1v1h-1zM355.7 329.1h1v1h-1zM358.5 318.6h1v1h-1zM338.2 316.2h1v1h-1zM339.4 330.4h1v1h-1zM352.4 320.1h1v1h-1zM362.1 320.2h1v1h-1zM363.4 325.3h1v1h-1zM345.1 330.0h1v1h-1zM351.3 326.4h1v1h-1zM362.4 323.6h1v1h-1zM353.9 367.9h1v1h-1zM354.0 369.8h1v1h-1zM353.0 368.2h1v1h-1zM338.7 370.3h1v1h-1zM353.1 375.8h1v1h-1zM341.4 363.9h1v1h-1zM345.7 372.8h1v1h-1zM351.9 375.8h1v1h-1z" fill="#aaa" />
<path d="M285.6 377.1h1v1h-1zM303.5 380.5h1v1h-1zM312.9 369.6h1v1h-1zM300.2 370.0h1v1h-1zM285.4 375.0h1v1h-1zM271.6 374.7h1v1h-1zM280.7 369.6h1v1h-1zM308.7 375.1h1v1h-1zM290.3 379.1h1v1h-1zM276.0 374.8h1v1h-1zM284.2 386.5h1v1h-1zM287.2 379.2h1v1h-1zM305.9 372.2h1v1h-1zM281.8 374.9h1v1h-1zM316.4 369.4h1v1h-1zM293.2 385.6h1v1h-1zM295.1 374.6h1v1h-1zM274.3 374.4h1v1h-1zM295.8 379.1h1v1h-1zM293.8 374.3h1v1h-1zM300.3 372.7h1v1h-1zM280.0 375.4h1v1h-1zM293.1 380.3h1v1h-1zM268.3 380.4h1v1h-1zM275.8 369.5h1v1h-1zM322.8 368.3h1v1h-1zM283.4 377.7h1v1h-1zM278.9 374.3h1v1h-1zM302.4 373.6h1v1h-1zM287.3 380.5h1v1h-1zM326.9 377.7h1v1h-1zM290.8 373.4h1v1h-1zM299.8 378.5h1v1h-1zM286.1 372.3h1v1h-1zM306.0 373.4h1v1h-1zM290.3 384.2h1v1h-1zM328.5 374.6h1v1h-1zM279.6 378.2h1v1h-1zM296.2 374.5h1v1h-1zM300.1 374.3h1v1h-1zM273.6 370.7h1v1h-1zM282.2 370.6h1v1h-1zM278.6 381.5h1v1h-1zM294.0 378.9h1v1h-1zM271.0 373.3h1v1h-1zM273.2 375.6h1v1h-1zM293.3 382.7h1v1h-1zM287.2 387.7h1v1h-1zM304.1 379.1h1v1h-1zM306.4 377.8h1v1h-1zM291.6 381.0h1v1h-1zM275.5 376.6h1v1h-1zM299.4 372.5h1v1h-1zM278.9 371.9h1v1h-1zM284.7 374.7h1v1h-1zM289.8 374.1h1v1h-1zM310.5 365.1h1v1h-1zM327.2 367.7h1v1h-1zM307.1 379.6h1v1h-1zM282.9 380.3h1v1h-1zM303.0 379.7h1v1h-1zM307.9 374.9h1v1h-1zM277.6 372.9h1v1h-1zM292.0 375.7h1v1h-1zM280.4 377.4h1v1h-1zM281.2 373.7h1v1h-1zM291.3 380.9h1v1h-1zM292.0 372.8h1v1h-1zM279.1 365.2h1v1h-1zM290.3 379.0h1v1h-1zM272.4 380.1h1v1h-1zM287.6 375.1h1v1h-1zM292.0 380.7h1v1h-1zM283.3 381.4h1v1h-1zM268.2 364.2h1v1h-1zM279.0 377.8h1v1h-1zM295.4 370.5h1v1h-1zM303.5 379.1h1v1h-1zM303.3 377.1h1v1h-1zM304.2 379.8h1v1h-1zM314.4 374.8h1v1h-1zM283.7 373.2h1v1h-1zM306.0 377.3h1v1h-1zM278.4 387.1h1v1h-1zM314.4 378.0h1v1h-1zM303.6 371.2h1v1h-1zM275.6 375.9h1v1h-1zM299.6 374.9h1v1h-1zM303.9 381.8h1v1h-1zM278.4 376.6h1v1h-1zM294.6 374.6h1v1h-1zM302.1 376.8h1v1h-1zM316.0 372.8h1v1h-1zM282.0 378.2h1v1h-1zM311.6 371.1h1v1h-1zM275.6 373.9h1v1h-1zM278.2 377.0h1v1h-1zM308.8 369.8h1v1h-1zM300.4 369.9h1v1h-1zM279.1 372.5h1v1h-1zM311.5 382.7h1v1h-1zM297.0 379.9h1v1h-1zM292.6 376.4h1v1h-1zM285.9 380.7h1v1h-1zM290.0 373.3h1v1h-1zM303.2 371.1h1v1h-1zM289.2 381.6h1v1h-1zM300.1 373.1h1v1h-1zM288.4 379.1h1v1h-1zM309.3 369.0h1v1h-1zM296.6 370.4h1v1h-1zM276.7 379.2h1v1h-1zM292.7 379.6h1v1h-1zM299.0 378.0h1v1h-1zM306.1 379.8h1v1h-1zM301.2 373.7h1v1h-1zM306.7 378.0h1v1h-1zM275.6 378.9h1v1h-1zM291.7 372.1h1v1h-1zM294.4 377.4h1v1h-1zM266.3 378.3h1v1h-1zM304.7 375.0h1v1h-1zM292.4 375.9h1v1h-1zM285.6 378.4h1v1h-1zM280.4 376.7h1v1h-1zM292.1 378.8h1v1h-1zM281.0 370.0h1v1h-1zM269.3 380.5h1v1h-1zM295.0 372.5h1v1h-1zM277.2 380.9h1v1h-1zM296.1 369.5h1v1h-1zM275.8 373.3h1v1h-1zM272.2 377.3h1v1h-1zM320.8 378.0h1v1h-1zM297.8 374.0h1v1h-1zM306.3 372.0h1v1h-1zM285.6 378.9h1v1h-1zM288.7 380.8h1v1h-1zM289.1 372.0h1v1h-1zM316.9 370.6h1v1h-1zM298.7 373.3h1v1h-1zM290.6 375.5h1v1h-1zM288.7 368.0h1v1h-1zM290.1 371.4h1v1h-1zM304.1 379.1h1v1h-1zM289.9 372.4h1v1h-1zM290.3 372.3h1v1h-1zM308.6 383.0h1v1h-1zM303.3 381.0h1v1h-1zM300.8 383.7h1v1h-1zM317.3 376.1h1v1h-1zM288.3 375.5h1v1h-1zM273.8 374.2h1v1h-1zM266.8 369.4h1v1h-1zM288.7 366.5h1v1h-1z" fill="#999" />
<path d="M305.1 377.4h1v1h-1zM306.7 375.0h1v1h-1zM314.6 375.1h1v1h-1zM315.5 373.0h1v1h-1zM301.2 379.6h1v1h-1zM320.6 374.8h1v1h-1zM318.6 370.0h1v1h-1zM322.8 384.2h1v1h-1zM303.1 377.6h1v1h-1zM319.2 372.4h1v1h-1zM309.7 371.0h1v1h-1zM310.8 375.7h1v1h-1zM322.9 371.3h1v1h-1zM315.1 381.0h1v1h-1zM319.2 376.1h1v1h-1zM321.7 371.6h1v1h-1zM323.6 367.0h1v1h-1zM307.5 378.9h1v1h-1zM307.3 369.8h1v1h-1zM317.6 376.2h1v1h-1zM319.2 374.7h1v1h-1zM309.2 365.5h1v1h-1zM318.1 373.4h1v1h-1zM308.2 381.9h1v1h-1zM312.9 371.8h1v1h-1zM314.2 366.6h1v1h-1zM316.9 368.2h1v1h-1zM320.5 373.6h1v1h-1zM312.8 376.2h1v1h-1zM316.7 377.6h1v1h-1zM309.0 376.7h1v1h-1zM321.4 370.3h1v1h-1zM320.2 372.3h1v1h-1zM311.6 374.4h1v1h-1zM315.5 370.0h1v1h-1zM314.1 377.3h1v1h-1zM313.0 379.1h1v1h-1zM319.3 373.6h1v1h-1zM317.6 374.9h1v1h-1zM311.5 370.6h1v1h-1zM320.2 374.8h1v1h-1zM324.7 370.3h1v1h-1zM328.0 369.5h1v1h-1zM321.1 376.8h1v1h-1zM314.5 375.4h1v1h-1zM311.1 373.6h1v1h-1zM321.3 367.7h1v1h-1zM326.9 373.1h1v1h-1zM314.8 376.0h1v1h-1zM308.9 376.6h1v1h-1zM309.7 380.2h1v1h-1zM320.0 382.0h1v1h-1zM322.3 376.0h1v1h-1zM311.5 379.3h1v1h-1zM307.9 376.8h1v1h-1zM302.1 378.8h1v1h-1zM322.5 375.6h1v1h-1zM304.8 380.7h1v1h-1zM321.0 372.4h1v1h-1zM315.1 376.3h1v1h-1zM301.1 378.3h1v1h-1zM307.3 375.9h1v1h-1zM323.8 371.5h1v1h-1zM316.1 378.0h1v1h-1zM314.3 373.8h1v1h-1zM325.6 367.7h1v1h-1zM315.7 377.7h1v1h-1zM316.8 369.5h1v1h-1zM316.9 377.8h1v1h-1zM316.6 365.5h1v1h-1zM324.4 373.8h1v1h-1zM311.8 382.4h1v1h-1zM324.5 373.0h1v1h-1zM327.8 377.7h1v1h-1zM311.9 374.2h1v1h-1zM319.6 371.7h1v1h-1zM306.9 375.4h1v1h-1zM316.5 378.6h1v1h-1zM325.5 378.5h1v1h-1zM323.3 379.3h1v1h-1zM312.8 378.9h1v1h-1zM320.4 374.3h1v1h-1zM319.8 367.0h1v1h-1zM316.9 372.1h1v1h-1zM317.1 380.6h1v1h-1zM295.6 379.9h1v1h-1zM311.3 377.4h1v1h-1zM322.8 367.7h1v1h-1zM315.0 376.4h1v1h-1zM318.6 373.1h1v1h-1zM318.2 375.4h1v1h-1zM314.1 374.8h1v1h-1zM316.0 374.1h1v1h-1zM310.0 372.3h1v1h-1zM315.8 367.4h1v1h-1zM321.7 380.7h1v1h-1zM323.7 370.5h1v1h-1zM319.9 373.3h1v1h-1zM313.9 373.8h1v1h-1zM312.8 374.3h1v1h-1zM302.6 374.1h1v1h-1zM314.3 377.3h1v1h-1zM308.4 376.0h1v1h-1zM310.4 373.9h1v1h-1zM313.0 373.1h1v1h-1zM316.2 376.8h1v1h-1zM316.8 371.3h1v1h-1zM315.8 377.0h1v1h-1zM307.0 381.3h1v1h-1zM312.2 379.6h1v1h-1zM320.9 376.4h1v1h-1zM314.8 368.9h1v1h-1zM318.8 377.4h1v1h-1zM316.1 376.1h1v1h-1zM327.3 378.6h1v1h-1zM328.6 371.1h1v1h-1zM313.0 381.1h1v1h-1zM322.1 371.2h1v1h-1zM305.9 381.0h1v1h-1zM321.5 375.6h1v1h-1zM319.5 365.3h1v1h-1zM313.0 373.9h1v1h-1zM327.2 371.7h1v1h-1zM317.3 369.8h1v1h-1zM304.1 369.7h1v1h-1zM327.5 373.6h1v1h-1zM316.8 371.0h1v1h-1zM322.3 371.6h1v1h-1zM311.1 372.2h1v1h-1zM310.2 375.0h1v1h-1zM306.7 378.3h1v1h-1zM307.8 379.3h1v1h-1zM321.6 376.1h1v1h-1zM320.3 373.0h1v1h-1zM303.4 376.3h1v1h-1zM316.0 377.2h1v1h-1zM316.2 379.7h1v1h-1zM310.0 375.6h1v1h-1zM318.1 369.8h1v1h-1zM309.7 377.1h1v1h-1zM323.2 376.3h1v1h-1zM313.4 373.6h1v1h-1zM316.9 379.4h1v1h-1zM288.7 377.3h1v1h-1zM311.7 375.7h1v1h-1zM315.3 376.5h1v1h-1zM310.2 382.0h1v1h-1zM313.3 370.9h1v1h-1zM307.6 378.3h1v1h-1zM321.5 377.2h1v1h-1zM306.9 375.9h1v1h-1zM312.3 379.5h1v1h-1zM325.7 371.1h1v1h-1zM323.6 369.4h1v1h-1zM314.4 370.5h1v1h-1zM304.8 374.1h1v1h-1zM299.8 373.3h1v1h-1zM317.8 376.7h1v1h-1zM316.2 375.0h1v1h-1zM312.2 370.0h1v1h-1zM312.3 381.6h1v1h-1zM321.4 367.9h1v1h-1zM314.7 368.1h1v1h-1zM313.0 375.7h1v1h-1zM312.0 380.8h1v1h-1z" fill="#555" />
<path d="M265.9 373.3h1v1h-1zM265.2 375.9h1v1h-1zM265.5 371.0h1v1h-1zM265.7 376.5h1v1h-1zM264.9 388.3h1v1h-1zM266.0 383.5h1v1h-1zM265.8 378.4h1v1h-1zM265.6 370.3h1v1h-1zM265.7 379.9h1v1h-1zM265.1 374.8h1v1h-1zM264.9 378.0h1v1h-1zM265.5 375.6h1v1h-1zM265.9 381.4h1v1h-1zM265.8 366.7h1v1h-1zM265.7 365.7h1v1h-1zM265.8 367.3h1v1h-1zM265.7 350.9h1v1h-1zM265.8 378.7h1v1h-1zM265.1 372.4h1v1h-1zM265.5 375.7h1v1h-1zM265.6 363.9h1v1h-1zM265.0 373.2h1v1h-1zM266.0 384.7h1v1h-1zM265.1 391.5h1v1h-1zM266.0 372.0h1v1h-1zM266.1 384.9h1v1h-1zM266.1 377.4h1v1h-1zM265.5 358.8h1v1h-1zM265.1 375.0h1v1h-1zM265.3 392.6h1v1h-1zM265.7 363.8h1v1h-1zM266.0 380.1h1v1h-1zM265.6 377.7h1v1h-1zM265.7 364.0h1v1h-1zM265.7 381.5h1v1h-1zM266.0 379.5h1v1h-1zM265.5 373.2h1v1h-1zM265.0 368.0h1v1h-1zM266.1 381.7h1v1h-1zM265.8 376.7h1v1h-1zM266.1 375.0h1v1h-1zM266.0 378.0h1v1h-1zM265.9 377.6h1v1h-1zM264.9 373.4h1v1h-1zM265.9 378.2h1v1h-1zM265.5 364.6h1v1h-1zM266.2 376.7h1v1h-1zM265.9 357.3h1v1h-1zM265.0 386.1h1v1h-1zM265.3 372.0h1v1h-1zM265.1 367.8h1v1h-1zM265.2 371.0h1v1h-1zM265.0 370.8h1v1h-1zM265.9 368.9h1v1h-1zM265.0 376.4h1v1h-1zM265.0 381.5h1v1h-1zM265.5 370.8h1v1h-1zM266.1 370.1h1v1h-1zM265.4 384.7h1v1h-1zM266.1 387.4h1v1h-1zM265.7 386.1h1v1h-1zM265.7 362.9h1v1h-1zM265.0 391.7h1v1h-1zM265.7 390.3h1v1h-1zM265.1 383.3h1v1h-1zM265.8 372.5h1v1h-1zM265.0 381.4h1v1h-1zM265.8 380.0h1v1h-1zM265.0 369.6h1v1h-1zM265.6 383.3h1v1h-1z" fill="#555" />
<line x1="265.2" y1="304.9" x2="374.5" y2="304.9" stroke="#444" stroke-width="1"/>
<line x1="374.5" y1="304.9" x2="374.5" y2="413.2" stroke="#666" stroke-width="1"/>
<line x1="264.7" y1="413.2" x2="375.0" y2="413.2" stroke="#222" stroke-width="1.2"/>
<line x1="265.2" y1="304.4" x2="265.2" y2="413.2" stroke="#333" stroke-width="1.2"/>
<line x1="330.6" y1="304.9" x2="330.6" y2="413.2" stroke="#333" stroke-width="1"/>
<line x1="265.2" y1="351.6" x2="374.5" y2="351.6" stroke="#808080" stroke-width="1.1"/>
<line x1="262.6" y1="314.3" x2="265.2" y2="314.3" stroke="#333" stroke-width="0.9"/>
<text x="259.8" y="316.6" text-anchor="end" font-size="7.3" fill="#222">10<tspan dx="0.4" dy="-2.7" font-size="5.2">5</tspan></text>
<line x1="262.6" y1="338.7" x2="265.2" y2="338.7" stroke="#333" stroke-width="0.9"/>
<text x="259.8" y="341.0" text-anchor="end" font-size="7.3" fill="#222">10<tspan dx="0.4" dy="-2.7" font-size="5.2">4</tspan></text>
<line x1="262.6" y1="363.9" x2="265.2" y2="363.9" stroke="#333" stroke-width="0.9"/>
<text x="259.8" y="366.2" text-anchor="end" font-size="7.3" fill="#222">10<tspan dx="0.4" dy="-2.7" font-size="5.2">3</tspan></text>
<line x1="262.6" y1="389.9" x2="265.2" y2="389.9" stroke="#333" stroke-width="0.9"/>
<text x="259.8" y="392.2" text-anchor="end" font-size="7.3" fill="#222">10<tspan dx="0.4" dy="-2.7" font-size="5.2">2</tspan></text>
<line x1="262.6" y1="402.2" x2="265.2" y2="402.2" stroke="#333" stroke-width="0.9"/>
<text x="259.6" y="404.6" text-anchor="end" font-size="7" fill="#222">0</text>
<line x1="263.8" y1="331.4" x2="265.2" y2="331.4" stroke="#444" stroke-width="0.7"/>
<line x1="263.8" y1="327.1" x2="265.2" y2="327.1" stroke="#444" stroke-width="0.7"/>
<line x1="263.8" y1="324.0" x2="265.2" y2="324.0" stroke="#444" stroke-width="0.7"/>
<line x1="263.8" y1="321.6" x2="265.2" y2="321.6" stroke="#444" stroke-width="0.7"/>
<line x1="263.8" y1="319.7" x2="265.2" y2="319.7" stroke="#444" stroke-width="0.7"/>
<line x1="263.8" y1="318.1" x2="265.2" y2="318.1" stroke="#444" stroke-width="0.7"/>
<line x1="263.8" y1="316.7" x2="265.2" y2="316.7" stroke="#444" stroke-width="0.7"/>
<line x1="263.8" y1="315.4" x2="265.2" y2="315.4" stroke="#444" stroke-width="0.7"/>
<line x1="263.8" y1="356.3" x2="265.2" y2="356.3" stroke="#444" stroke-width="0.7"/>
<line x1="263.8" y1="351.9" x2="265.2" y2="351.9" stroke="#444" stroke-width="0.7"/>
<line x1="263.8" y1="348.7" x2="265.2" y2="348.7" stroke="#444" stroke-width="0.7"/>
<line x1="263.8" y1="346.3" x2="265.2" y2="346.3" stroke="#444" stroke-width="0.7"/>
<line x1="263.8" y1="344.3" x2="265.2" y2="344.3" stroke="#444" stroke-width="0.7"/>
<line x1="263.8" y1="342.6" x2="265.2" y2="342.6" stroke="#444" stroke-width="0.7"/>
<line x1="263.8" y1="341.1" x2="265.2" y2="341.1" stroke="#444" stroke-width="0.7"/>
<line x1="263.8" y1="339.9" x2="265.2" y2="339.9" stroke="#444" stroke-width="0.7"/>
<line x1="263.8" y1="382.1" x2="265.2" y2="382.1" stroke="#444" stroke-width="0.7"/>
<line x1="263.8" y1="377.5" x2="265.2" y2="377.5" stroke="#444" stroke-width="0.7"/>
<line x1="263.8" y1="374.2" x2="265.2" y2="374.2" stroke="#444" stroke-width="0.7"/>
<line x1="263.8" y1="371.7" x2="265.2" y2="371.7" stroke="#444" stroke-width="0.7"/>
<line x1="263.8" y1="369.7" x2="265.2" y2="369.7" stroke="#444" stroke-width="0.7"/>
<line x1="263.8" y1="367.9" x2="265.2" y2="367.9" stroke="#444" stroke-width="0.7"/>
<line x1="263.8" y1="366.4" x2="265.2" y2="366.4" stroke="#444" stroke-width="0.7"/>
<line x1="263.8" y1="365.1" x2="265.2" y2="365.1" stroke="#444" stroke-width="0.7"/>
<line x1="277.0" y1="413.2" x2="277.0" y2="415.5" stroke="#333" stroke-width="0.9"/>
<text x="277.3" y="426.3" text-anchor="middle" font-size="7" fill="#222">0</text>
<line x1="287.0" y1="413.2" x2="287.0" y2="415.5" stroke="#333" stroke-width="0.9"/>
<text x="286.7" y="426.3" text-anchor="middle" font-size="7.5" fill="#222">10<tspan dx="0.4" dy="-2.8" font-size="5.3">2</tspan></text>
<line x1="313.9" y1="413.2" x2="313.9" y2="415.5" stroke="#333" stroke-width="0.9"/>
<text x="313.6" y="426.3" text-anchor="middle" font-size="7.5" fill="#222">10<tspan dx="0.4" dy="-2.8" font-size="5.3">3</tspan></text>
<line x1="339.3" y1="413.2" x2="339.3" y2="415.5" stroke="#333" stroke-width="0.9"/>
<text x="339.0" y="426.3" text-anchor="middle" font-size="7.5" fill="#222">10<tspan dx="0.4" dy="-2.8" font-size="5.3">4</tspan></text>
<line x1="364.7" y1="413.2" x2="364.7" y2="415.5" stroke="#333" stroke-width="0.9"/>
<text x="364.4" y="426.3" text-anchor="middle" font-size="7.5" fill="#222">10<tspan dx="0.4" dy="-2.8" font-size="5.3">5</tspan></text>
<line x1="321.5" y1="413.2" x2="321.5" y2="414.6" stroke="#444" stroke-width="0.7"/>
<line x1="326.0" y1="413.2" x2="326.0" y2="414.6" stroke="#444" stroke-width="0.7"/>
<line x1="329.2" y1="413.2" x2="329.2" y2="414.6" stroke="#444" stroke-width="0.7"/>
<line x1="331.7" y1="413.2" x2="331.7" y2="414.6" stroke="#444" stroke-width="0.7"/>
<line x1="333.7" y1="413.2" x2="333.7" y2="414.6" stroke="#444" stroke-width="0.7"/>
<line x1="335.4" y1="413.2" x2="335.4" y2="414.6" stroke="#444" stroke-width="0.7"/>
<line x1="336.8" y1="413.2" x2="336.8" y2="414.6" stroke="#444" stroke-width="0.7"/>
<line x1="338.1" y1="413.2" x2="338.1" y2="414.6" stroke="#444" stroke-width="0.7"/>
<line x1="346.9" y1="413.2" x2="346.9" y2="414.6" stroke="#444" stroke-width="0.7"/>
<line x1="351.4" y1="413.2" x2="351.4" y2="414.6" stroke="#444" stroke-width="0.7"/>
<line x1="354.6" y1="413.2" x2="354.6" y2="414.6" stroke="#444" stroke-width="0.7"/>
<line x1="357.1" y1="413.2" x2="357.1" y2="414.6" stroke="#444" stroke-width="0.7"/>
<line x1="359.1" y1="413.2" x2="359.1" y2="414.6" stroke="#444" stroke-width="0.7"/>
<line x1="360.8" y1="413.2" x2="360.8" y2="414.6" stroke="#444" stroke-width="0.7"/>
<line x1="362.2" y1="413.2" x2="362.2" y2="414.6" stroke="#444" stroke-width="0.7"/>
<line x1="363.5" y1="413.2" x2="363.5" y2="414.6" stroke="#444" stroke-width="0.7"/>
<text x="267.5" y="313.0" font-size="7.2" letter-spacing="0.25" fill="#222">0.159</text>
<text x="373.2" y="313.0" text-anchor="end" font-size="7.2" letter-spacing="0.25" fill="#222">1.9</text>
<text x="267.3" y="407.7" font-size="7.2" letter-spacing="0.25" fill="#222">96.7</text>
<text x="373.2" y="407.7" text-anchor="end" font-size="7.2" letter-spacing="0.25" fill="#222">1.27</text>
<path d="M468.6 373.9h1v1h-1zM461.8 380.9h1v1h-1zM508.5 386.4h1v1h-1zM486.8 370.7h1v1h-1zM495.9 371.1h1v1h-1zM486.1 390.8h1v1h-1zM479.6 371.5h1v1h-1zM474.5 369.8h1v1h-1zM467.3 372.6h1v1h-1zM489.4 383.3h1v1h-1zM475.6 383.5h1v1h-1zM485.9 386.3h1v1h-1zM490.3 381.0h1v1h-1zM486.4 373.4h1v1h-1zM488.1 381.3h1v1h-1zM503.5 384.0h1v1h-1zM490.3 366.8h1v1h-1zM489.8 371.6h1v1h-1zM485.3 377.0h1v1h-1zM503.0 391.9h1v1h-1zM501.3 374.4h1v1h-1zM480.7 377.8h1v1h-1zM491.4 377.6h1v1h-1zM485.7 380.6h1v1h-1zM482.4 383.0h1v1h-1zM477.2 368.0h1v1h-1zM507.1 351.6h1v1h-1zM493.3 384.2h1v1h-1zM463.9 358.3h1v1h-1zM498.9 380.0h1v1h-1zM506.8 381.0h1v1h-1zM488.6 383.6h1v1h-1zM486.6 367.8h1v1h-1zM489.0 380.2h1v1h-1zM497.6 383.4h1v1h-1zM481.2 383.5h1v1h-1zM491.7 388.5h1v1h-1zM470.7 368.3h1v1h-1zM500.2 372.5h1v1h-1zM474.8 374.8h1v1h-1zM463.8 314.9h1v1h-1zM464.5 318.2h1v1h-1zM458.2 316.9h1v1h-1zM501.0 322.8h1v1h-1zM498.8 318.7h1v1h-1zM495.6 326.5h1v1h-1zM492.1 319.6h1v1h-1zM497.1 322.7h1v1h-1zM491.0 322.0h1v1h-1zM489.1 320.6h1v1h-1zM503.1 320.6h1v1h-1z" fill="#aaa" />
<path d="M428.5 376.8h1v1h-1zM433.7 381.6h1v1h-1zM420.5 370.5h1v1h-1zM432.6 380.9h1v1h-1zM431.9 383.9h1v1h-1zM407.8 383.0h1v1h-1zM435.7 375.3h1v1h-1zM409.8 373.3h1v1h-1zM430.6 376.7h1v1h-1zM421.2 379.8h1v1h-1zM432.9 377.6h1v1h-1zM425.0 379.1h1v1h-1zM423.6 371.6h1v1h-1zM427.1 379.1h1v1h-1zM426.5 366.7h1v1h-1zM424.4 382.0h1v1h-1zM428.3 381.9h1v1h-1zM429.7 386.1h1v1h-1zM416.1 371.6h1v1h-1zM442.1 373.1h1v1h-1zM423.6 371.0h1v1h-1zM415.5 369.1h1v1h-1zM432.1 365.2h1v1h-1zM404.5 379.1h1v1h-1zM437.3 374.6h1v1h-1zM418.8 375.0h1v1h-1zM424.0 367.5h1v1h-1zM423.6 376.3h1v1h-1zM429.3 384.7h1v1h-1zM414.7 376.3h1v1h-1zM416.9 379.4h1v1h-1zM427.5 370.3h1v1h-1zM414.8 380.5h1v1h-1zM422.1 375.5h1v1h-1zM420.8 376.1h1v1h-1zM417.9 377.2h1v1h-1zM413.4 374.5h1v1h-1zM411.6 378.7h1v1h-1zM416.9 375.1h1v1h-1zM406.6 373.7h1v1h-1zM407.6 370.8h1v1h-1zM457.2 370.4h1v1h-1zM422.8 379.5h1v1h-1zM434.4 380.5h1v1h-1zM426.3 375.2h1v1h-1zM432.0 374.8h1v1h-1zM424.3 373.1h1v1h-1zM435.6 376.5h1v1h-1zM425.3 381.9h1v1h-1zM426.4 376.9h1v1h-1zM407.1 373.2h1v1h-1zM435.3 380.4h1v1h-1zM420.2 379.1h1v1h-1zM422.5 367.6h1v1h-1zM428.2 373.6h1v1h-1zM426.1 381.3h1v1h-1zM422.7 377.5h1v1h-1zM439.0 375.5h1v1h-1zM411.9 377.6h1v1h-1zM418.9 370.5h1v1h-1zM420.6 376.3h1v1h-1zM439.2 383.1h1v1h-1zM442.8 375.3h1v1h-1zM409.2 377.1h1v1h-1zM428.1 382.8h1v1h-1zM407.6 373.1h1v1h-1zM427.3 374.5h1v1h-1zM440.7 376.0h1v1h-1zM415.3 377.0h1v1h-1zM442.9 376.5h1v1h-1zM426.8 378.9h1v1h-1zM457.1 370.4h1v1h-1zM415.8 369.8h1v1h-1zM412.2 375.3h1v1h-1zM440.5 368.4h1v1h-1zM435.3 382.9h1v1h-1zM431.5 372.1h1v1h-1zM414.0 373.1h1v1h-1zM425.9 378.4h1v1h-1zM417.3 377.1h1v1h-1zM443.9 378.2h1v1h-1zM432.2 375.5h1v1h-1zM415.7 369.7h1v1h-1zM413.6 374.8h1v1h-1zM405.7 372.6h1v1h-1zM416.8 367.9h1v1h-1zM424.2 374.2h1v1h-1zM429.9 379.8h1v1h-1zM438.3 371.3h1v1h-1zM418.3 372.1h1v1h-1zM440.7 372.0h1v1h-1zM423.4 366.2h1v1h-1zM433.0 377.5h1v1h-1zM418.2 375.9h1v1h-1zM427.8 374.9h1v1h-1zM435.2 371.2h1v1h-1zM417.6 374.2h1v1h-1zM427.4 384.1h1v1h-1zM439.0 376.3h1v1h-1zM409.5 373.5h1v1h-1zM439.2 379.1h1v1h-1zM423.3 369.7h1v1h-1zM406.2 380.4h1v1h-1zM429.7 374.8h1v1h-1zM433.6 386.7h1v1h-1zM422.7 385.4h1v1h-1zM429.4 378.0h1v1h-1zM431.3 377.3h1v1h-1zM425.9 373.5h1v1h-1zM426.9 378.0h1v1h-1zM436.0 378.6h1v1h-1zM435.1 369.2h1v1h-1zM425.2 368.5h1v1h-1zM408.8 372.7h1v1h-1zM420.4 376.0h1v1h-1zM440.0 375.8h1v1h-1zM431.8 376.0h1v1h-1zM448.2 374.2h1v1h-1zM431.3 378.0h1v1h-1zM430.8 381.7h1v1h-1zM421.3 382.6h1v1h-1zM441.1 373.6h1v1h-1zM408.0 375.7h1v1h-1zM429.8 375.6h1v1h-1zM423.6 368.4h1v1h-1zM418.6 368.2h1v1h-1zM437.6 374.6h1v1h-1zM434.1 377.2h1v1h-1zM430.6 378.6h1v1h-1zM421.4 372.2h1v1h-1zM406.8 378.1h1v1h-1zM408.1 374.6h1v1h-1zM408.0 379.5h1v1h-1z" fill="#999" />
<path d="M452.1 375.8h1v1h-1zM455.4 360.5h1v1h-1zM458.3 374.3h1v1h-1zM445.5 372.4h1v1h-1zM445.3 370.2h1v1h-1zM450.7 367.9h1v1h-1zM443.4 374.1h1v1h-1zM450.4 365.0h1v1h-1zM462.3 371.1h1v1h-1zM443.4 370.4h1v1h-1zM452.6 374.8h1v1h-1zM447.7 365.3h1v1h-1zM458.2 372.2h1v1h-1zM443.1 371.8h1v1h-1zM443.6 368.6h1v1h-1zM450.5 377.3h1v1h-1zM444.6 369.4h1v1h-1zM438.8 373.3h1v1h-1zM444.2 379.5h1v1h-1zM456.9 371.1h1v1h-1zM458.5 367.7h1v1h-1zM451.1 367.9h1v1h-1zM453.4 368.1h1v1h-1zM441.0 376.4h1v1h-1zM454.5 375.0h1v1h-1zM450.3 370.4h1v1h-1zM446.8 368.4h1v1h-1zM459.0 366.8h1v1h-1zM459.3 362.4h1v1h-1zM447.9 374.3h1v1h-1zM453.1 371.2h1v1h-1zM436.9 379.2h1v1h-1zM443.5 382.8h1v1h-1zM461.1 375.2h1v1h-1zM442.9 371.7h1v1h-1zM444.4 371.6h1v1h-1zM459.7 364.3h1v1h-1zM434.0 366.4h1v1h-1zM446.1 380.6h1v1h-1zM456.9 371.4h1v1h-1zM447.9 365.7h1v1h-1zM444.7 375.8h1v1h-1zM443.4 364.2h1v1h-1zM452.8 370.2h1v1h-1zM444.2 373.4h1v1h-1zM453.5 368.2h1v1h-1zM450.1 369.4h1v1h-1zM451.3 374.7h1v1h-1zM459.7 367.4h1v1h-1zM447.8 376.9h1v1h-1zM444.2 365.2h1v1h-1zM451.3 369.6h1v1h-1zM453.4 378.2h1v1h-1zM450.0 367.3h1v1h-1zM438.7 369.7h1v1h-1zM456.4 370.3h1v1h-1zM438.3 372.1h1v1h-1zM436.6 375.4h1v1h-1zM458.5 374.0h1v1h-1zM462.8 371.3h1v1h-1zM449.3 372.6h1v1h-1zM445.3 370.9h1v1h-1zM461.9 370.0h1v1h-1zM441.6 377.3h1v1h-1zM451.3 367.5h1v1h-1zM447.2 370.4h1v1h-1zM456.0 365.5h1v1h-1zM453.9 370.7h1v1h-1zM445.8 373.2h1v1h-1zM459.9 367.2h1v1h-1zM457.2 365.4h1v1h-1zM451.7 368.0h1v1h-1zM449.5 374.5h1v1h-1zM451.1 369.0h1v1h-1zM442.3 376.8h1v1h-1zM450.0 369.1h1v1h-1zM449.9 368.5h1v1h-1zM455.9 373.8h1v1h-1zM450.2 368.3h1v1h-1zM448.7 376.8h1v1h-1zM453.6 361.6h1v1h-1zM459.0 369.9h1v1h-1zM456.0 368.2h1v1h-1zM450.9 369.9h1v1h-1zM448.5 373.2h1v1h-1zM462.0 360.8h1v1h-1zM451.9 380.4h1v1h-1zM442.8 371.4h1v1h-1zM453.4 381.5h1v1h-1zM438.6 377.7h1v1h-1zM447.9 373.1h1v1h-1zM456.7 363.7h1v1h-1zM450.6 379.0h1v1h-1zM449.4 374.7h1v1h-1zM457.3 375.4h1v1h-1zM460.6 362.9h1v1h-1zM444.6 365.4h1v1h-1zM443.3 371.5h1v1h-1zM446.5 374.8h1v1h-1zM443.3 376.6h1v1h-1zM455.4 375.9h1v1h-1zM457.3 366.5h1v1h-1zM451.0 365.8h1v1h-1zM443.9 376.3h1v1h-1zM440.0 369.6h1v1h-1zM450.5 371.4h1v1h-1zM445.9 381.5h1v1h-1zM455.1 368.9h1v1h-1zM442.2 375.1h1v1h-1zM447.5 373.5h1v1h-1zM448.7 372.1h1v1h-1zM459.4 371.5h1v1h-1zM457.5 372.4h1v1h-1zM455.3 371.0h1v1h-1zM453.3 377.7h1v1h-1zM456.8 374.5h1v1h-1zM438.3 370.0h1v1h-1zM458.5 376.3h1v1h-1zM449.9 372.5h1v1h-1zM462.9 368.5h1v1h-1zM458.6 366.8h1v1h-1zM460.8 373.0h1v1h-1zM446.8 372.4h1v1h-1zM456.3 367.0h1v1h-1zM454.2 375.9h1v1h-1zM447.8 371.0h1v1h-1zM454.7 369.2h1v1h-1zM436.3 385.6h1v1h-1zM462.1 370.9h1v1h-1zM455.8 373.5h1v1h-1zM451.7 372.2h1v1h-1zM462.3 369.3h1v1h-1zM456.1 366.5h1v1h-1zM455.6 373.8h1v1h-1zM448.4 373.5h1v1h-1zM454.7 367.5h1v1h-1zM443.5 372.9h1v1h-1zM443.9 380.8h1v1h-1zM453.4 372.5h1v1h-1zM447.7 372.7h1v1h-1zM442.2 370.9h1v1h-1zM450.8 369.4h1v1h-1zM438.5 376.7h1v1h-1zM463.9 372.8h1v1h-1zM445.5 373.8h1v1h-1zM445.6 376.8h1v1h-1zM463.7 365.6h1v1h-1zM441.0 372.2h1v1h-1zM435.6 376.5h1v1h-1zM452.1 376.5h1v1h-1zM450.1 370.0h1v1h-1zM459.7 374.0h1v1h-1zM451.6 367.1h1v1h-1zM440.0 378.8h1v1h-1zM452.9 376.9h1v1h-1zM450.1 370.7h1v1h-1zM461.3 371.1h1v1h-1zM454.3 374.3h1v1h-1zM445.1 370.2h1v1h-1zM447.0 371.0h1v1h-1zM452.2 369.8h1v1h-1zM448.9 374.6h1v1h-1zM453.6 375.2h1v1h-1zM454.1 367.4h1v1h-1zM443.4 370.4h1v1h-1zM453.8 374.0h1v1h-1zM458.2 367.7h1v1h-1zM443.2 372.7h1v1h-1zM441.3 377.4h1v1h-1zM457.8 370.7h1v1h-1zM456.3 375.2h1v1h-1zM459.1 370.6h1v1h-1zM465.3 368.4h1v1h-1zM451.3 368.8h1v1h-1zM444.4 363.9h1v1h-1zM453.9 369.7h1v1h-1zM447.2 365.0h1v1h-1zM455.0 374.4h1v1h-1zM457.7 373.7h1v1h-1zM453.0 373.4h1v1h-1zM456.5 375.5h1v1h-1zM452.3 380.6h1v1h-1zM454.3 363.9h1v1h-1zM443.7 372.9h1v1h-1zM464.9 372.5h1v1h-1zM447.2 371.7h1v1h-1zM449.1 371.8h1v1h-1zM446.9 377.4h1v1h-1zM450.3 374.3h1v1h-1zM448.9 366.5h1v1h-1zM437.3 381.0h1v1h-1zM463.8 365.8h1v1h-1zM455.0 372.1h1v1h-1zM450.0 374.6h1v1h-1zM452.0 364.7h1v1h-1zM459.8 377.3h1v1h-1zM458.4 373.2h1v1h-1z" fill="#555" />
<path d="M401.7 387.6h1v1h-1zM402.7 360.4h1v1h-1zM401.8 357.7h1v1h-1zM402.5 379.0h1v1h-1zM401.7 385.4h1v1h-1zM402.5 380.2h1v1h-1zM402.4 381.9h1v1h-1zM402.6 363.8h1v1h-1zM402.1 377.1h1v1h-1zM402.3 380.0h1v1h-1zM402.1 364.6h1v1h-1zM402.5 368.2h1v1h-1zM402.1 376.8h1v1h-1zM402.4 377.9h1v1h-1zM401.7 364.4h1v1h-1zM402.7 371.5h1v1h-1zM402.3 385.5h1v1h-1zM402.5 374.8h1v1h-1zM402.1 364.6h1v1h-1zM401.7 390.7h1v1h-1zM402.3 375.4h1v1h-1zM402.3 371.8h1v1h-1zM402.3 368.5h1v1h-1zM402.2 374.2h1v1h-1zM402.7 387.9h1v1h-1zM402.0 380.9h1v1h-1zM402.2 392.8h1v1h-1zM402.4 383.3h1v1h-1zM401.6 385.6h1v1h-1zM402.6 365.4h1v1h-1zM401.6 375.0h1v1h-1zM402.8 376.8h1v1h-1zM402.5 375.1h1v1h-1zM402.3 366.5h1v1h-1zM401.9 393.1h1v1h-1zM401.6 379.8h1v1h-1zM402.4 381.2h1v1h-1zM402.3 377.8h1v1h-1zM402.3 374.1h1v1h-1zM401.9 368.2h1v1h-1zM402.5 358.1h1v1h-1zM402.0 384.3h1v1h-1zM401.9 377.0h1v1h-1zM402.7 376.2h1v1h-1zM402.1 360.5h1v1h-1zM402.6 379.8h1v1h-1zM402.7 388.7h1v1h-1zM401.5 383.5h1v1h-1zM401.8 370.5h1v1h-1zM402.1 372.9h1v1h-1zM401.5 380.2h1v1h-1zM402.1 375.1h1v1h-1zM402.8 379.1h1v1h-1zM401.7 383.8h1v1h-1zM402.3 376.5h1v1h-1zM402.8 390.1h1v1h-1zM401.5 367.7h1v1h-1zM402.0 376.8h1v1h-1zM401.6 372.5h1v1h-1zM402.3 385.8h1v1h-1zM402.2 368.1h1v1h-1zM401.6 387.3h1v1h-1zM401.5 363.2h1v1h-1zM402.0 365.2h1v1h-1zM401.9 381.4h1v1h-1zM401.7 377.7h1v1h-1zM402.3 370.0h1v1h-1zM402.6 370.5h1v1h-1zM402.5 374.7h1v1h-1zM402.1 387.3h1v1h-1zM402.3 373.4h1v1h-1zM401.9 378.0h1v1h-1zM402.5 379.0h1v1h-1zM402.7 373.4h1v1h-1zM402.6 387.0h1v1h-1zM402.2 386.2h1v1h-1zM402.0 372.5h1v1h-1zM402.2 359.7h1v1h-1zM401.6 366.4h1v1h-1zM402.4 370.8h1v1h-1z" fill="#555" />
<line x1="401.8" y1="304.9" x2="511.1" y2="304.9" stroke="#444" stroke-width="1"/>
<line x1="511.1" y1="304.9" x2="511.1" y2="413.2" stroke="#666" stroke-width="1"/>
<line x1="401.3" y1="413.2" x2="511.6" y2="413.2" stroke="#222" stroke-width="1.2"/>
<line x1="401.8" y1="304.4" x2="401.8" y2="413.2" stroke="#333" stroke-width="1.2"/>
<line x1="467.2" y1="304.9" x2="467.2" y2="413.2" stroke="#777" stroke-width="1"/>
<line x1="401.8" y1="351.6" x2="511.1" y2="351.6" stroke="#808080" stroke-width="1.1"/>
<line x1="399.2" y1="314.3" x2="401.8" y2="314.3" stroke="#333" stroke-width="0.9"/>
<text x="396.4" y="316.6" text-anchor="end" font-size="7.3" fill="#222">10<tspan dx="0.4" dy="-2.7" font-size="5.2">5</tspan></text>
<line x1="399.2" y1="338.7" x2="401.8" y2="338.7" stroke="#333" stroke-width="0.9"/>
<text x="396.4" y="341.0" text-anchor="end" font-size="7.3" fill="#222">10<tspan dx="0.4" dy="-2.7" font-size="5.2">4</tspan></text>
<line x1="399.2" y1="363.9" x2="401.8" y2="363.9" stroke="#333" stroke-width="0.9"/>
<text x="396.4" y="366.2" text-anchor="end" font-size="7.3" fill="#222">10<tspan dx="0.4" dy="-2.7" font-size="5.2">3</tspan></text>
<line x1="399.2" y1="389.9" x2="401.8" y2="389.9" stroke="#333" stroke-width="0.9"/>
<text x="396.4" y="392.2" text-anchor="end" font-size="7.3" fill="#222">10<tspan dx="0.4" dy="-2.7" font-size="5.2">2</tspan></text>
<line x1="399.2" y1="402.2" x2="401.8" y2="402.2" stroke="#333" stroke-width="0.9"/>
<text x="396.2" y="404.6" text-anchor="end" font-size="7" fill="#222">0</text>
<line x1="400.4" y1="331.4" x2="401.8" y2="331.4" stroke="#444" stroke-width="0.7"/>
<line x1="400.4" y1="327.1" x2="401.8" y2="327.1" stroke="#444" stroke-width="0.7"/>
<line x1="400.4" y1="324.0" x2="401.8" y2="324.0" stroke="#444" stroke-width="0.7"/>
<line x1="400.4" y1="321.6" x2="401.8" y2="321.6" stroke="#444" stroke-width="0.7"/>
<line x1="400.4" y1="319.7" x2="401.8" y2="319.7" stroke="#444" stroke-width="0.7"/>
<line x1="400.4" y1="318.1" x2="401.8" y2="318.1" stroke="#444" stroke-width="0.7"/>
<line x1="400.4" y1="316.7" x2="401.8" y2="316.7" stroke="#444" stroke-width="0.7"/>
<line x1="400.4" y1="315.4" x2="401.8" y2="315.4" stroke="#444" stroke-width="0.7"/>
<line x1="400.4" y1="356.3" x2="401.8" y2="356.3" stroke="#444" stroke-width="0.7"/>
<line x1="400.4" y1="351.9" x2="401.8" y2="351.9" stroke="#444" stroke-width="0.7"/>
<line x1="400.4" y1="348.7" x2="401.8" y2="348.7" stroke="#444" stroke-width="0.7"/>
<line x1="400.4" y1="346.3" x2="401.8" y2="346.3" stroke="#444" stroke-width="0.7"/>
<line x1="400.4" y1="344.3" x2="401.8" y2="344.3" stroke="#444" stroke-width="0.7"/>
<line x1="400.4" y1="342.6" x2="401.8" y2="342.6" stroke="#444" stroke-width="0.7"/>
<line x1="400.4" y1="341.1" x2="401.8" y2="341.1" stroke="#444" stroke-width="0.7"/>
<line x1="400.4" y1="339.9" x2="401.8" y2="339.9" stroke="#444" stroke-width="0.7"/>
<line x1="400.4" y1="382.1" x2="401.8" y2="382.1" stroke="#444" stroke-width="0.7"/>
<line x1="400.4" y1="377.5" x2="401.8" y2="377.5" stroke="#444" stroke-width="0.7"/>
<line x1="400.4" y1="374.2" x2="401.8" y2="374.2" stroke="#444" stroke-width="0.7"/>
<line x1="400.4" y1="371.7" x2="401.8" y2="371.7" stroke="#444" stroke-width="0.7"/>
<line x1="400.4" y1="369.7" x2="401.8" y2="369.7" stroke="#444" stroke-width="0.7"/>
<line x1="400.4" y1="367.9" x2="401.8" y2="367.9" stroke="#444" stroke-width="0.7"/>
<line x1="400.4" y1="366.4" x2="401.8" y2="366.4" stroke="#444" stroke-width="0.7"/>
<line x1="400.4" y1="365.1" x2="401.8" y2="365.1" stroke="#444" stroke-width="0.7"/>
<line x1="413.6" y1="413.2" x2="413.6" y2="415.5" stroke="#333" stroke-width="0.9"/>
<text x="413.9" y="426.3" text-anchor="middle" font-size="7" fill="#222">0</text>
<line x1="423.6" y1="413.2" x2="423.6" y2="415.5" stroke="#333" stroke-width="0.9"/>
<text x="423.3" y="426.3" text-anchor="middle" font-size="7.5" fill="#222">10<tspan dx="0.4" dy="-2.8" font-size="5.3">2</tspan></text>
<line x1="450.5" y1="413.2" x2="450.5" y2="415.5" stroke="#333" stroke-width="0.9"/>
<text x="450.2" y="426.3" text-anchor="middle" font-size="7.5" fill="#222">10<tspan dx="0.4" dy="-2.8" font-size="5.3">3</tspan></text>
<line x1="475.9" y1="413.2" x2="475.9" y2="415.5" stroke="#333" stroke-width="0.9"/>
<text x="475.6" y="426.3" text-anchor="middle" font-size="7.5" fill="#222">10<tspan dx="0.4" dy="-2.8" font-size="5.3">4</tspan></text>
<line x1="501.3" y1="413.2" x2="501.3" y2="415.5" stroke="#333" stroke-width="0.9"/>
<text x="501.0" y="426.3" text-anchor="middle" font-size="7.5" fill="#222">10<tspan dx="0.4" dy="-2.8" font-size="5.3">5</tspan></text>
<line x1="458.1" y1="413.2" x2="458.1" y2="414.6" stroke="#444" stroke-width="0.7"/>
<line x1="462.6" y1="413.2" x2="462.6" y2="414.6" stroke="#444" stroke-width="0.7"/>
<line x1="465.8" y1="413.2" x2="465.8" y2="414.6" stroke="#444" stroke-width="0.7"/>
<line x1="468.3" y1="413.2" x2="468.3" y2="414.6" stroke="#444" stroke-width="0.7"/>
<line x1="470.3" y1="413.2" x2="470.3" y2="414.6" stroke="#444" stroke-width="0.7"/>
<line x1="472.0" y1="413.2" x2="472.0" y2="414.6" stroke="#444" stroke-width="0.7"/>
<line x1="473.4" y1="413.2" x2="473.4" y2="414.6" stroke="#444" stroke-width="0.7"/>
<line x1="474.7" y1="413.2" x2="474.7" y2="414.6" stroke="#444" stroke-width="0.7"/>
<line x1="483.5" y1="413.2" x2="483.5" y2="414.6" stroke="#444" stroke-width="0.7"/>
<line x1="488.0" y1="413.2" x2="488.0" y2="414.6" stroke="#444" stroke-width="0.7"/>
<line x1="491.2" y1="413.2" x2="491.2" y2="414.6" stroke="#444" stroke-width="0.7"/>
<line x1="493.7" y1="413.2" x2="493.7" y2="414.6" stroke="#444" stroke-width="0.7"/>
<line x1="495.7" y1="413.2" x2="495.7" y2="414.6" stroke="#444" stroke-width="0.7"/>
<line x1="497.4" y1="413.2" x2="497.4" y2="414.6" stroke="#444" stroke-width="0.7"/>
<line x1="498.8" y1="413.2" x2="498.8" y2="414.6" stroke="#444" stroke-width="0.7"/>
<line x1="500.1" y1="413.2" x2="500.1" y2="414.6" stroke="#444" stroke-width="0.7"/>
<text x="404.1" y="313.0" font-size="7.2" letter-spacing="0.25" fill="#222">1.49</text>
<text x="509.8" y="313.0" text-anchor="end" font-size="7.2" letter-spacing="0.25" fill="#222">1.34</text>
<text x="403.9" y="407.7" font-size="7.2" letter-spacing="0.25" fill="#222">91.2</text>
<text x="509.8" y="407.7" text-anchor="end" font-size="7.2" letter-spacing="0.25" fill="#222">5.97</text>
<path d="M353.4 449.8h1v1h-1zM346.9 450.3h1v1h-1zM349.7 449.2h1v1h-1zM358.5 449.1h1v1h-1zM359.6 454.0h1v1h-1zM365.4 455.6h1v1h-1zM320.9 448.7h1v1h-1zM345.2 454.0h1v1h-1z" fill="#aaa" />
<path d="M273.5 508.3h1v1h-1zM286.3 516.3h1v1h-1zM293.2 512.4h1v1h-1zM286.3 511.3h1v1h-1zM289.1 505.6h1v1h-1zM274.3 515.7h1v1h-1zM302.1 512.2h1v1h-1zM293.7 512.2h1v1h-1zM298.9 512.3h1v1h-1zM272.0 512.3h1v1h-1zM283.7 511.1h1v1h-1zM276.9 509.7h1v1h-1zM306.1 502.2h1v1h-1zM283.9 507.3h1v1h-1zM314.7 508.4h1v1h-1zM291.9 515.5h1v1h-1zM279.1 515.4h1v1h-1zM301.9 505.5h1v1h-1zM308.2 507.8h1v1h-1zM284.2 507.2h1v1h-1zM279.1 511.7h1v1h-1zM285.7 511.6h1v1h-1zM271.5 513.2h1v1h-1zM273.1 507.1h1v1h-1zM279.0 520.4h1v1h-1zM270.0 504.8h1v1h-1zM288.3 517.5h1v1h-1zM289.8 514.2h1v1h-1zM299.1 515.0h1v1h-1zM289.5 511.1h1v1h-1zM283.4 510.5h1v1h-1zM302.3 514.3h1v1h-1zM277.4 509.8h1v1h-1zM269.1 509.2h1v1h-1zM280.8 512.5h1v1h-1zM293.1 510.1h1v1h-1zM298.8 509.1h1v1h-1zM273.6 513.5h1v1h-1zM299.6 511.5h1v1h-1zM291.0 504.3h1v1h-1zM294.2 510.3h1v1h-1zM273.5 517.3h1v1h-1zM283.2 512.5h1v1h-1zM287.3 502.4h1v1h-1zM281.4 512.4h1v1h-1zM294.9 501.1h1v1h-1zM300.2 513.5h1v1h-1zM274.8 507.3h1v1h-1zM297.6 509.7h1v1h-1zM299.7 512.6h1v1h-1zM282.8 506.4h1v1h-1zM309.8 507.1h1v1h-1zM276.6 508.6h1v1h-1zM268.4 514.0h1v1h-1zM286.7 517.0h1v1h-1zM308.0 506.7h1v1h-1zM293.1 505.9h1v1h-1zM280.0 504.5h1v1h-1zM301.9 503.7h1v1h-1zM277.4 512.8h1v1h-1zM284.6 507.8h1v1h-1zM273.7 517.8h1v1h-1zM311.2 505.8h1v1h-1zM307.9 517.5h1v1h-1zM270.5 516.2h1v1h-1zM293.7 511.3h1v1h-1zM292.1 497.4h1v1h-1zM286.8 511.6h1v1h-1zM288.3 510.6h1v1h-1zM283.1 506.4h1v1h-1zM298.5 516.9h1v1h-1zM297.8 498.8h1v1h-1zM303.2 513.7h1v1h-1zM298.2 510.6h1v1h-1zM280.1 511.3h1v1h-1zM281.7 503.0h1v1h-1zM283.6 513.4h1v1h-1zM288.5 507.8h1v1h-1zM278.4 511.1h1v1h-1zM276.6 514.7h1v1h-1zM283.9 506.1h1v1h-1zM281.3 496.6h1v1h-1zM285.4 512.0h1v1h-1zM307.1 511.4h1v1h-1zM303.6 509.2h1v1h-1zM280.7 507.2h1v1h-1zM288.2 505.9h1v1h-1zM283.2 511.0h1v1h-1zM276.1 513.3h1v1h-1zM293.5 508.3h1v1h-1zM289.0 509.5h1v1h-1zM282.4 513.8h1v1h-1zM270.5 509.9h1v1h-1zM292.0 510.7h1v1h-1zM298.0 515.5h1v1h-1zM288.9 514.1h1v1h-1zM291.1 516.7h1v1h-1zM274.5 516.4h1v1h-1zM291.2 511.2h1v1h-1zM304.3 514.6h1v1h-1zM271.5 513.5h1v1h-1zM313.4 513.4h1v1h-1zM296.9 511.6h1v1h-1zM278.0 511.9h1v1h-1zM288.3 513.6h1v1h-1zM285.3 506.6h1v1h-1zM285.7 515.2h1v1h-1zM298.2 515.9h1v1h-1zM282.0 501.2h1v1h-1zM288.2 514.7h1v1h-1zM300.4 507.7h1v1h-1zM284.0 507.1h1v1h-1zM278.8 506.6h1v1h-1zM278.4 512.1h1v1h-1zM274.4 507.8h1v1h-1zM293.6 505.1h1v1h-1zM286.8 519.6h1v1h-1zM275.7 507.2h1v1h-1zM278.4 505.1h1v1h-1zM267.5 509.1h1v1h-1zM278.8 519.6h1v1h-1zM309.4 503.1h1v1h-1zM309.6 507.3h1v1h-1zM285.0 511.9h1v1h-1zM283.0 510.6h1v1h-1zM278.4 515.9h1v1h-1zM269.9 507.2h1v1h-1zM293.4 520.0h1v1h-1zM281.4 509.0h1v1h-1zM277.1 504.1h1v1h-1zM284.7 511.8h1v1h-1zM305.0 514.8h1v1h-1zM279.5 514.2h1v1h-1zM283.4 515.6h1v1h-1zM302.5 509.9h1v1h-1zM272.5 518.0h1v1h-1zM296.2 515.2h1v1h-1zM316.3 506.5h1v1h-1zM285.3 509.1h1v1h-1zM297.6 509.7h1v1h-1z" fill="#999" />
<path d="M301.4 512.8h1v1h-1zM294.9 512.3h1v1h-1zM309.2 505.9h1v1h-1zM304.1 506.5h1v1h-1zM304.4 498.1h1v1h-1zM311.2 513.9h1v1h-1zM317.3 495.8h1v1h-1zM321.6 505.7h1v1h-1zM307.3 507.7h1v1h-1zM302.7 511.3h1v1h-1zM313.9 501.2h1v1h-1zM305.8 505.2h1v1h-1zM304.6 511.3h1v1h-1zM310.8 502.5h1v1h-1zM323.5 504.3h1v1h-1zM316.7 500.0h1v1h-1zM297.4 512.1h1v1h-1zM303.5 509.7h1v1h-1zM315.6 508.5h1v1h-1zM307.8 503.1h1v1h-1zM322.3 501.8h1v1h-1zM317.8 503.9h1v1h-1zM324.2 510.0h1v1h-1zM316.4 503.3h1v1h-1zM313.3 506.7h1v1h-1zM324.4 508.9h1v1h-1zM298.9 511.6h1v1h-1zM304.0 513.2h1v1h-1zM302.6 504.9h1v1h-1zM313.1 511.0h1v1h-1zM310.5 507.4h1v1h-1zM307.5 510.4h1v1h-1zM320.4 507.6h1v1h-1zM318.8 496.5h1v1h-1zM310.6 512.3h1v1h-1zM303.0 507.5h1v1h-1zM317.3 504.1h1v1h-1zM309.9 508.4h1v1h-1zM316.0 498.8h1v1h-1zM317.6 500.1h1v1h-1zM309.6 512.1h1v1h-1zM321.0 500.6h1v1h-1zM316.0 506.8h1v1h-1zM311.0 506.8h1v1h-1zM324.3 498.3h1v1h-1zM311.5 505.9h1v1h-1zM325.7 502.2h1v1h-1zM316.3 508.2h1v1h-1zM313.2 504.6h1v1h-1zM324.8 500.5h1v1h-1zM312.2 512.9h1v1h-1zM319.8 511.0h1v1h-1zM326.3 503.2h1v1h-1zM312.3 502.3h1v1h-1zM310.4 509.2h1v1h-1zM321.6 501.9h1v1h-1zM323.4 510.0h1v1h-1zM297.5 510.9h1v1h-1zM319.6 501.9h1v1h-1zM324.7 502.0h1v1h-1zM311.0 503.0h1v1h-1zM323.6 503.3h1v1h-1zM312.9 501.0h1v1h-1zM310.2 508.3h1v1h-1zM312.9 510.3h1v1h-1zM321.5 506.4h1v1h-1zM312.5 502.7h1v1h-1zM311.0 508.9h1v1h-1zM315.8 504.0h1v1h-1zM322.1 497.7h1v1h-1zM298.9 510.1h1v1h-1zM324.4 507.1h1v1h-1zM327.0 503.5h1v1h-1zM306.9 506.7h1v1h-1zM314.8 503.1h1v1h-1zM319.1 504.5h1v1h-1zM316.3 507.6h1v1h-1zM316.6 510.6h1v1h-1zM310.8 510.7h1v1h-1zM312.1 511.1h1v1h-1zM318.2 503.8h1v1h-1zM309.3 509.5h1v1h-1zM310.5 507.4h1v1h-1zM311.1 508.9h1v1h-1zM329.1 503.4h1v1h-1zM320.6 515.3h1v1h-1zM305.9 503.6h1v1h-1zM319.5 506.5h1v1h-1zM293.8 510.0h1v1h-1zM315.5 507.8h1v1h-1zM320.6 505.7h1v1h-1zM318.5 511.9h1v1h-1zM320.1 504.1h1v1h-1zM317.4 502.6h1v1h-1zM310.3 509.0h1v1h-1zM314.1 507.7h1v1h-1zM313.8 497.2h1v1h-1zM303.8 517.7h1v1h-1zM316.4 501.9h1v1h-1zM307.8 515.0h1v1h-1zM321.1 510.0h1v1h-1zM312.8 503.7h1v1h-1zM312.5 512.5h1v1h-1zM321.4 502.6h1v1h-1zM308.8 509.9h1v1h-1zM321.4 503.0h1v1h-1zM311.6 504.9h1v1h-1zM318.9 509.5h1v1h-1zM313.0 503.0h1v1h-1zM329.1 501.6h1v1h-1zM325.7 502.2h1v1h-1zM322.9 504.9h1v1h-1zM306.2 508.5h1v1h-1zM326.2 498.8h1v1h-1zM313.0 505.2h1v1h-1zM305.3 507.7h1v1h-1zM318.9 514.0h1v1h-1zM324.9 507.1h1v1h-1zM304.2 509.1h1v1h-1zM322.8 505.0h1v1h-1zM314.5 505.4h1v1h-1zM314.8 513.8h1v1h-1zM320.5 504.1h1v1h-1zM313.7 502.6h1v1h-1zM311.0 525.2h1v1h-1zM325.3 500.1h1v1h-1zM296.3 509.2h1v1h-1zM324.6 499.5h1v1h-1zM306.0 510.8h1v1h-1zM326.4 500.3h1v1h-1zM306.8 505.3h1v1h-1zM327.7 507.2h1v1h-1zM302.5 516.3h1v1h-1zM317.8 501.1h1v1h-1zM314.9 508.7h1v1h-1zM314.1 504.0h1v1h-1zM325.0 505.0h1v1h-1zM315.2 507.7h1v1h-1zM321.7 499.5h1v1h-1zM317.9 509.5h1v1h-1zM307.7 508.6h1v1h-1zM315.4 501.7h1v1h-1zM319.1 509.5h1v1h-1zM318.8 502.4h1v1h-1zM316.9 506.4h1v1h-1zM319.8 499.7h1v1h-1zM314.5 501.2h1v1h-1zM317.3 498.6h1v1h-1zM314.1 504.9h1v1h-1zM307.6 514.3h1v1h-1zM325.8 508.1h1v1h-1zM308.8 504.4h1v1h-1zM326.6 499.7h1v1h-1zM317.4 512.5h1v1h-1zM323.4 507.5h1v1h-1zM316.5 506.0h1v1h-1zM314.2 505.0h1v1h-1zM313.6 496.5h1v1h-1zM309.1 505.3h1v1h-1zM320.2 514.1h1v1h-1zM328.0 509.7h1v1h-1zM306.3 507.6h1v1h-1zM312.3 510.6h1v1h-1zM323.7 506.5h1v1h-1zM324.3 501.2h1v1h-1zM321.3 500.7h1v1h-1zM313.3 504.3h1v1h-1zM318.5 506.2h1v1h-1zM311.1 513.2h1v1h-1zM320.4 505.9h1v1h-1zM316.8 505.9h1v1h-1zM319.0 504.1h1v1h-1zM315.0 511.9h1v1h-1zM322.4 511.5h1v1h-1zM317.1 506.8h1v1h-1zM310.6 506.6h1v1h-1zM328.2 504.0h1v1h-1zM318.6 507.9h1v1h-1zM314.4 511.7h1v1h-1zM315.3 510.6h1v1h-1zM328.7 499.1h1v1h-1zM317.3 505.3h1v1h-1zM319.0 503.5h1v1h-1zM310.0 510.6h1v1h-1zM313.8 501.9h1v1h-1zM311.8 499.4h1v1h-1zM309.6 508.2h1v1h-1zM307.9 506.2h1v1h-1zM313.6 504.8h1v1h-1zM305.9 508.4h1v1h-1zM321.3 500.6h1v1h-1zM322.4 504.6h1v1h-1zM308.9 503.1h1v1h-1zM319.3 500.0h1v1h-1zM310.3 510.0h1v1h-1zM318.4 504.0h1v1h-1zM319.3 510.0h1v1h-1zM302.3 511.1h1v1h-1zM295.9 508.6h1v1h-1zM319.5 502.7h1v1h-1z" fill="#555" />
<path d="M265.6 493.5h1v1h-1zM265.5 523.5h1v1h-1zM266.1 504.0h1v1h-1zM265.7 508.0h1v1h-1zM265.0 513.2h1v1h-1zM265.1 514.4h1v1h-1zM265.2 493.5h1v1h-1zM265.7 506.4h1v1h-1zM265.4 510.7h1v1h-1zM265.4 506.8h1v1h-1zM265.4 521.3h1v1h-1zM265.3 525.6h1v1h-1zM265.2 517.1h1v1h-1zM265.9 498.4h1v1h-1zM266.1 512.2h1v1h-1zM265.6 518.4h1v1h-1zM265.4 503.2h1v1h-1zM265.8 517.9h1v1h-1zM265.0 502.9h1v1h-1zM265.2 510.5h1v1h-1zM265.6 507.0h1v1h-1zM265.7 501.6h1v1h-1zM265.9 502.1h1v1h-1zM266.0 508.6h1v1h-1zM265.8 519.0h1v1h-1zM265.8 511.8h1v1h-1zM265.4 506.3h1v1h-1zM266.1 513.9h1v1h-1zM265.8 505.4h1v1h-1zM265.6 512.5h1v1h-1zM266.0 515.3h1v1h-1zM265.7 507.4h1v1h-1zM265.2 518.9h1v1h-1zM264.9 506.5h1v1h-1zM265.7 514.3h1v1h-1zM265.3 511.4h1v1h-1zM265.2 519.7h1v1h-1zM265.2 508.5h1v1h-1zM265.0 518.0h1v1h-1zM265.4 520.0h1v1h-1zM266.1 497.7h1v1h-1zM264.9 497.9h1v1h-1zM265.7 520.9h1v1h-1zM266.1 507.2h1v1h-1zM266.1 510.7h1v1h-1zM265.9 505.7h1v1h-1zM265.6 529.1h1v1h-1zM265.0 504.8h1v1h-1zM265.8 517.8h1v1h-1zM266.1 495.7h1v1h-1zM266.1 512.5h1v1h-1zM265.0 509.7h1v1h-1zM265.5 519.8h1v1h-1zM265.4 509.6h1v1h-1zM265.9 505.7h1v1h-1zM264.9 505.4h1v1h-1zM265.9 519.4h1v1h-1zM265.7 516.7h1v1h-1zM265.5 511.9h1v1h-1zM265.0 501.6h1v1h-1zM265.9 513.5h1v1h-1zM266.0 507.3h1v1h-1zM265.5 510.0h1v1h-1zM266.1 513.8h1v1h-1zM266.1 514.0h1v1h-1zM265.5 510.9h1v1h-1zM265.4 523.3h1v1h-1zM265.2 521.3h1v1h-1zM265.1 507.2h1v1h-1zM265.0 512.6h1v1h-1z" fill="#555" />
<line x1="265.2" y1="438.5" x2="374.5" y2="438.5" stroke="#444" stroke-width="1"/>
<line x1="374.5" y1="438.5" x2="374.5" y2="546.8" stroke="#666" stroke-width="1"/>
<line x1="264.7" y1="546.8" x2="375.0" y2="546.8" stroke="#222" stroke-width="1.2"/>
<line x1="265.2" y1="438.0" x2="265.2" y2="546.8" stroke="#333" stroke-width="1.2"/>
<line x1="330.6" y1="438.5" x2="330.6" y2="546.8" stroke="#333" stroke-width="1"/>
<line x1="265.2" y1="485.2" x2="374.5" y2="485.2" stroke="#808080" stroke-width="1.1"/>
<line x1="262.6" y1="447.9" x2="265.2" y2="447.9" stroke="#333" stroke-width="0.9"/>
<text x="259.8" y="450.2" text-anchor="end" font-size="7.3" fill="#222">10<tspan dx="0.4" dy="-2.7" font-size="5.2">5</tspan></text>
<line x1="262.6" y1="472.3" x2="265.2" y2="472.3" stroke="#333" stroke-width="0.9"/>
<text x="259.8" y="474.6" text-anchor="end" font-size="7.3" fill="#222">10<tspan dx="0.4" dy="-2.7" font-size="5.2">4</tspan></text>
<line x1="262.6" y1="497.5" x2="265.2" y2="497.5" stroke="#333" stroke-width="0.9"/>
<text x="259.8" y="499.8" text-anchor="end" font-size="7.3" fill="#222">10<tspan dx="0.4" dy="-2.7" font-size="5.2">3</tspan></text>
<line x1="262.6" y1="523.5" x2="265.2" y2="523.5" stroke="#333" stroke-width="0.9"/>
<text x="259.8" y="525.8" text-anchor="end" font-size="7.3" fill="#222">10<tspan dx="0.4" dy="-2.7" font-size="5.2">2</tspan></text>
<line x1="262.6" y1="535.8" x2="265.2" y2="535.8" stroke="#333" stroke-width="0.9"/>
<text x="259.6" y="538.2" text-anchor="end" font-size="7" fill="#222">0</text>
<line x1="263.8" y1="465.0" x2="265.2" y2="465.0" stroke="#444" stroke-width="0.7"/>
<line x1="263.8" y1="460.7" x2="265.2" y2="460.7" stroke="#444" stroke-width="0.7"/>
<line x1="263.8" y1="457.6" x2="265.2" y2="457.6" stroke="#444" stroke-width="0.7"/>
<line x1="263.8" y1="455.2" x2="265.2" y2="455.2" stroke="#444" stroke-width="0.7"/>
<line x1="263.8" y1="453.3" x2="265.2" y2="453.3" stroke="#444" stroke-width="0.7"/>
<line x1="263.8" y1="451.7" x2="265.2" y2="451.7" stroke="#444" stroke-width="0.7"/>
<line x1="263.8" y1="450.3" x2="265.2" y2="450.3" stroke="#444" stroke-width="0.7"/>
<line x1="263.8" y1="449.0" x2="265.2" y2="449.0" stroke="#444" stroke-width="0.7"/>
<line x1="263.8" y1="489.9" x2="265.2" y2="489.9" stroke="#444" stroke-width="0.7"/>
<line x1="263.8" y1="485.5" x2="265.2" y2="485.5" stroke="#444" stroke-width="0.7"/>
<line x1="263.8" y1="482.3" x2="265.2" y2="482.3" stroke="#444" stroke-width="0.7"/>
<line x1="263.8" y1="479.9" x2="265.2" y2="479.9" stroke="#444" stroke-width="0.7"/>
<line x1="263.8" y1="477.9" x2="265.2" y2="477.9" stroke="#444" stroke-width="0.7"/>
<line x1="263.8" y1="476.2" x2="265.2" y2="476.2" stroke="#444" stroke-width="0.7"/>
<line x1="263.8" y1="474.7" x2="265.2" y2="474.7" stroke="#444" stroke-width="0.7"/>
<line x1="263.8" y1="473.5" x2="265.2" y2="473.5" stroke="#444" stroke-width="0.7"/>
<line x1="263.8" y1="515.7" x2="265.2" y2="515.7" stroke="#444" stroke-width="0.7"/>
<line x1="263.8" y1="511.1" x2="265.2" y2="511.1" stroke="#444" stroke-width="0.7"/>
<line x1="263.8" y1="507.8" x2="265.2" y2="507.8" stroke="#444" stroke-width="0.7"/>
<line x1="263.8" y1="505.3" x2="265.2" y2="505.3" stroke="#444" stroke-width="0.7"/>
<line x1="263.8" y1="503.3" x2="265.2" y2="503.3" stroke="#444" stroke-width="0.7"/>
<line x1="263.8" y1="501.5" x2="265.2" y2="501.5" stroke="#444" stroke-width="0.7"/>
<line x1="263.8" y1="500.0" x2="265.2" y2="500.0" stroke="#444" stroke-width="0.7"/>
<line x1="263.8" y1="498.7" x2="265.2" y2="498.7" stroke="#444" stroke-width="0.7"/>
<line x1="277.0" y1="546.8" x2="277.0" y2="549.1" stroke="#333" stroke-width="0.9"/>
<text x="277.3" y="559.9" text-anchor="middle" font-size="7" fill="#222">0</text>
<line x1="287.0" y1="546.8" x2="287.0" y2="549.1" stroke="#333" stroke-width="0.9"/>
<text x="286.7" y="559.9" text-anchor="middle" font-size="7.5" fill="#222">10<tspan dx="0.4" dy="-2.8" font-size="5.3">2</tspan></text>
<line x1="313.9" y1="546.8" x2="313.9" y2="549.1" stroke="#333" stroke-width="0.9"/>
<text x="313.6" y="559.9" text-anchor="middle" font-size="7.5" fill="#222">10<tspan dx="0.4" dy="-2.8" font-size="5.3">3</tspan></text>
<line x1="339.3" y1="546.8" x2="339.3" y2="549.1" stroke="#333" stroke-width="0.9"/>
<text x="339.0" y="559.9" text-anchor="middle" font-size="7.5" fill="#222">10<tspan dx="0.4" dy="-2.8" font-size="5.3">4</tspan></text>
<line x1="364.7" y1="546.8" x2="364.7" y2="549.1" stroke="#333" stroke-width="0.9"/>
<text x="364.4" y="559.9" text-anchor="middle" font-size="7.5" fill="#222">10<tspan dx="0.4" dy="-2.8" font-size="5.3">5</tspan></text>
<line x1="321.5" y1="546.8" x2="321.5" y2="548.2" stroke="#444" stroke-width="0.7"/>
<line x1="326.0" y1="546.8" x2="326.0" y2="548.2" stroke="#444" stroke-width="0.7"/>
<line x1="329.2" y1="546.8" x2="329.2" y2="548.2" stroke="#444" stroke-width="0.7"/>
<line x1="331.7" y1="546.8" x2="331.7" y2="548.2" stroke="#444" stroke-width="0.7"/>
<line x1="333.7" y1="546.8" x2="333.7" y2="548.2" stroke="#444" stroke-width="0.7"/>
<line x1="335.4" y1="546.8" x2="335.4" y2="548.2" stroke="#444" stroke-width="0.7"/>
<line x1="336.8" y1="546.8" x2="336.8" y2="548.2" stroke="#444" stroke-width="0.7"/>
<line x1="338.1" y1="546.8" x2="338.1" y2="548.2" stroke="#444" stroke-width="0.7"/>
<line x1="346.9" y1="546.8" x2="346.9" y2="548.2" stroke="#444" stroke-width="0.7"/>
<line x1="351.4" y1="546.8" x2="351.4" y2="548.2" stroke="#444" stroke-width="0.7"/>
<line x1="354.6" y1="546.8" x2="354.6" y2="548.2" stroke="#444" stroke-width="0.7"/>
<line x1="357.1" y1="546.8" x2="357.1" y2="548.2" stroke="#444" stroke-width="0.7"/>
<line x1="359.1" y1="546.8" x2="359.1" y2="548.2" stroke="#444" stroke-width="0.7"/>
<line x1="360.8" y1="546.8" x2="360.8" y2="548.2" stroke="#444" stroke-width="0.7"/>
<line x1="362.2" y1="546.8" x2="362.2" y2="548.2" stroke="#444" stroke-width="0.7"/>
<line x1="363.5" y1="546.8" x2="363.5" y2="548.2" stroke="#444" stroke-width="0.7"/>
<text x="267.5" y="446.6" font-size="7.2" letter-spacing="0.25" fill="#222">0.419</text>
<text x="373.2" y="446.6" text-anchor="end" font-size="7.2" letter-spacing="0.25" fill="#222">0.838</text>
<text x="267.3" y="541.3" font-size="7.2" letter-spacing="0.25" fill="#222">98.5</text>
<text x="373.2" y="541.3" text-anchor="end" font-size="7.2" letter-spacing="0.25" fill="#222">0.279</text>
<path d="M481.5 517.0h1v1h-1zM488.3 512.0h1v1h-1zM472.1 518.2h1v1h-1zM496.2 511.1h1v1h-1zM478.5 497.5h1v1h-1zM486.2 524.0h1v1h-1zM501.2 502.8h1v1h-1zM494.7 524.4h1v1h-1zM484.4 502.2h1v1h-1zM485.4 521.4h1v1h-1zM500.5 517.4h1v1h-1zM504.7 508.9h1v1h-1zM491.6 523.1h1v1h-1zM469.0 516.2h1v1h-1zM482.2 529.1h1v1h-1zM496.8 520.2h1v1h-1zM479.7 525.6h1v1h-1zM484.0 494.2h1v1h-1zM477.5 527.0h1v1h-1zM482.8 511.5h1v1h-1zM496.3 511.5h1v1h-1zM493.5 501.2h1v1h-1zM476.6 506.7h1v1h-1zM499.1 510.9h1v1h-1zM473.3 514.4h1v1h-1zM496.2 514.3h1v1h-1zM495.6 510.0h1v1h-1zM474.6 515.2h1v1h-1zM469.4 521.9h1v1h-1zM496.8 508.9h1v1h-1zM493.5 507.3h1v1h-1zM489.4 523.9h1v1h-1zM479.8 517.8h1v1h-1zM491.0 504.5h1v1h-1zM473.0 520.1h1v1h-1zM494.7 517.8h1v1h-1zM509.3 534.6h1v1h-1zM485.4 522.2h1v1h-1zM497.2 521.4h1v1h-1zM479.0 512.9h1v1h-1zM428.4 514.3h1v1h-1zM440.8 492.4h1v1h-1zM438.3 517.9h1v1h-1zM437.9 507.6h1v1h-1zM458.5 511.1h1v1h-1zM427.1 509.7h1v1h-1zM427.6 503.4h1v1h-1zM421.6 521.8h1v1h-1zM455.6 508.2h1v1h-1zM438.5 510.7h1v1h-1zM431.7 509.4h1v1h-1zM447.9 505.6h1v1h-1zM434.9 523.1h1v1h-1zM443.6 506.0h1v1h-1zM436.5 515.8h1v1h-1zM444.0 504.7h1v1h-1zM429.8 498.4h1v1h-1zM451.6 498.1h1v1h-1zM435.6 517.0h1v1h-1z" fill="#aaa" />
<path d="M480.0 454.8h1v1h-1zM459.8 451.5h1v1h-1zM474.0 446.3h1v1h-1zM454.7 448.5h1v1h-1zM470.8 451.9h1v1h-1zM442.1 442.1h1v1h-1zM463.8 449.0h1v1h-1zM487.3 451.9h1v1h-1zM470.1 445.0h1v1h-1zM461.7 456.1h1v1h-1zM465.4 455.6h1v1h-1zM466.9 452.8h1v1h-1zM493.4 449.7h1v1h-1zM469.3 448.5h1v1h-1zM473.2 453.1h1v1h-1zM460.1 452.5h1v1h-1zM474.8 454.9h1v1h-1zM473.4 446.8h1v1h-1zM456.9 453.2h1v1h-1zM443.4 455.6h1v1h-1zM463.5 445.5h1v1h-1zM483.3 450.8h1v1h-1zM458.5 450.3h1v1h-1zM461.6 449.2h1v1h-1zM483.1 454.8h1v1h-1zM465.1 449.3h1v1h-1zM439.9 453.6h1v1h-1zM489.9 452.2h1v1h-1zM467.9 453.8h1v1h-1zM459.4 449.0h1v1h-1zM463.1 447.0h1v1h-1zM474.0 453.3h1v1h-1zM459.6 450.4h1v1h-1zM491.8 454.1h1v1h-1zM473.1 447.8h1v1h-1zM475.6 447.4h1v1h-1zM471.0 453.5h1v1h-1zM459.0 450.8h1v1h-1zM469.5 449.5h1v1h-1zM491.7 453.4h1v1h-1zM460.1 449.3h1v1h-1zM464.9 451.0h1v1h-1zM472.0 452.7h1v1h-1zM456.3 444.9h1v1h-1zM479.1 454.9h1v1h-1zM449.7 450.2h1v1h-1zM472.5 448.9h1v1h-1zM452.8 450.0h1v1h-1zM462.5 447.2h1v1h-1zM462.5 441.5h1v1h-1zM503.8 450.5h1v1h-1zM458.9 448.2h1v1h-1zM481.1 458.1h1v1h-1zM472.6 457.4h1v1h-1zM456.6 448.0h1v1h-1zM479.6 451.9h1v1h-1zM466.4 455.6h1v1h-1zM444.3 452.2h1v1h-1zM442.4 449.7h1v1h-1zM468.9 448.8h1v1h-1zM469.2 445.6h1v1h-1zM444.6 454.5h1v1h-1zM467.7 453.3h1v1h-1zM462.2 451.2h1v1h-1zM473.3 450.4h1v1h-1zM456.6 458.6h1v1h-1zM467.4 452.6h1v1h-1zM464.6 456.8h1v1h-1zM474.3 444.7h1v1h-1zM481.0 446.3h1v1h-1zM494.8 446.6h1v1h-1zM445.4 453.9h1v1h-1zM469.8 448.8h1v1h-1zM453.5 456.7h1v1h-1zM450.1 451.0h1v1h-1zM441.3 455.2h1v1h-1zM457.8 448.9h1v1h-1zM466.1 454.7h1v1h-1zM461.9 449.1h1v1h-1zM468.4 450.2h1v1h-1zM467.9 445.9h1v1h-1zM471.6 442.1h1v1h-1zM465.8 445.1h1v1h-1zM469.4 451.9h1v1h-1zM467.5 451.8h1v1h-1zM458.4 442.9h1v1h-1zM446.3 445.0h1v1h-1zM444.2 444.0h1v1h-1zM470.5 453.2h1v1h-1zM450.5 446.4h1v1h-1zM474.4 445.7h1v1h-1zM457.4 452.7h1v1h-1zM453.2 447.7h1v1h-1zM460.4 452.9h1v1h-1zM465.9 454.0h1v1h-1zM487.7 447.8h1v1h-1zM457.9 442.5h1v1h-1zM456.6 449.2h1v1h-1zM468.9 460.7h1v1h-1zM477.5 445.4h1v1h-1zM462.4 456.8h1v1h-1zM456.7 447.4h1v1h-1zM471.4 445.9h1v1h-1zM468.5 457.4h1v1h-1zM470.5 448.4h1v1h-1zM445.7 440.3h1v1h-1zM473.5 444.1h1v1h-1zM465.8 446.4h1v1h-1zM479.6 447.7h1v1h-1zM461.6 456.4h1v1h-1zM470.7 454.9h1v1h-1zM461.5 450.4h1v1h-1zM494.2 452.5h1v1h-1zM444.5 448.2h1v1h-1zM451.5 442.5h1v1h-1zM453.8 450.5h1v1h-1zM423.5 449.4h1v1h-1zM457.3 454.8h1v1h-1zM487.0 451.9h1v1h-1zM474.9 455.9h1v1h-1zM479.5 448.5h1v1h-1zM463.0 448.7h1v1h-1zM456.0 448.3h1v1h-1zM462.6 446.4h1v1h-1zM447.0 455.5h1v1h-1zM441.0 451.2h1v1h-1zM480.1 444.8h1v1h-1zM464.6 447.5h1v1h-1zM483.9 459.4h1v1h-1zM445.9 461.5h1v1h-1zM466.2 457.0h1v1h-1zM444.3 451.0h1v1h-1zM486.5 458.0h1v1h-1zM466.3 450.2h1v1h-1zM450.9 444.9h1v1h-1zM451.2 450.8h1v1h-1zM482.5 445.3h1v1h-1zM450.2 449.4h1v1h-1zM461.8 461.2h1v1h-1zM465.0 453.0h1v1h-1zM451.0 451.5h1v1h-1zM485.7 454.3h1v1h-1zM490.3 448.3h1v1h-1zM457.6 451.7h1v1h-1zM467.7 445.8h1v1h-1zM475.1 444.0h1v1h-1zM473.8 448.1h1v1h-1zM475.2 444.7h1v1h-1zM449.6 439.7h1v1h-1zM465.8 447.9h1v1h-1zM446.1 445.4h1v1h-1zM463.8 446.0h1v1h-1zM472.4 457.2h1v1h-1zM477.0 453.3h1v1h-1zM436.6 454.9h1v1h-1zM469.0 449.3h1v1h-1zM446.2 445.4h1v1h-1zM472.2 446.0h1v1h-1zM471.2 458.8h1v1h-1z" fill="#888" />
<path d="M492.2 450.7h1v1h-1zM484.5 445.1h1v1h-1zM466.2 450.4h1v1h-1zM476.2 449.7h1v1h-1zM484.4 451.3h1v1h-1zM493.4 447.8h1v1h-1zM455.6 450.3h1v1h-1zM485.6 451.3h1v1h-1zM467.8 450.6h1v1h-1zM478.2 451.1h1v1h-1zM471.9 445.0h1v1h-1zM489.8 448.3h1v1h-1zM483.9 450.3h1v1h-1zM498.0 451.4h1v1h-1zM493.3 447.8h1v1h-1zM473.4 445.0h1v1h-1zM458.7 447.6h1v1h-1zM478.1 452.6h1v1h-1zM475.1 452.7h1v1h-1zM481.6 448.2h1v1h-1zM473.3 447.2h1v1h-1zM474.1 453.0h1v1h-1zM488.0 446.5h1v1h-1zM482.9 448.5h1v1h-1zM473.7 445.2h1v1h-1zM484.6 440.5h1v1h-1zM471.7 450.6h1v1h-1zM480.7 454.4h1v1h-1zM489.9 446.9h1v1h-1zM475.6 445.7h1v1h-1zM467.1 454.5h1v1h-1zM481.9 445.7h1v1h-1zM476.5 442.9h1v1h-1zM497.9 445.3h1v1h-1zM479.2 450.0h1v1h-1zM474.0 447.1h1v1h-1zM468.5 450.2h1v1h-1zM457.9 451.5h1v1h-1zM471.9 450.0h1v1h-1zM480.6 453.4h1v1h-1zM471.0 450.5h1v1h-1zM485.1 450.0h1v1h-1zM489.0 451.9h1v1h-1zM486.9 447.1h1v1h-1zM473.6 452.4h1v1h-1zM472.3 448.0h1v1h-1zM488.4 448.1h1v1h-1zM473.7 449.4h1v1h-1zM474.0 452.7h1v1h-1zM474.6 452.3h1v1h-1zM493.4 445.3h1v1h-1zM461.5 448.1h1v1h-1zM491.2 444.2h1v1h-1zM489.0 445.0h1v1h-1zM495.9 445.1h1v1h-1zM484.8 448.2h1v1h-1zM502.5 443.8h1v1h-1zM487.8 453.6h1v1h-1zM471.6 453.7h1v1h-1zM466.0 456.9h1v1h-1zM480.5 450.4h1v1h-1zM484.8 450.6h1v1h-1zM483.2 448.0h1v1h-1zM490.2 451.5h1v1h-1zM491.5 449.4h1v1h-1zM455.9 451.6h1v1h-1zM479.9 450.3h1v1h-1zM480.0 454.8h1v1h-1zM486.0 453.4h1v1h-1zM472.2 450.1h1v1h-1zM491.7 441.8h1v1h-1zM480.7 440.3h1v1h-1zM493.3 447.4h1v1h-1zM473.8 449.6h1v1h-1zM478.8 449.0h1v1h-1zM467.0 451.8h1v1h-1zM470.7 451.8h1v1h-1zM477.0 447.0h1v1h-1zM474.6 447.9h1v1h-1zM483.2 453.6h1v1h-1zM484.4 455.4h1v1h-1zM480.0 449.7h1v1h-1zM480.2 449.7h1v1h-1zM469.0 453.1h1v1h-1zM475.7 450.9h1v1h-1zM477.7 449.8h1v1h-1zM472.7 450.1h1v1h-1zM487.5 452.9h1v1h-1zM485.5 446.5h1v1h-1zM471.8 451.9h1v1h-1zM475.3 446.4h1v1h-1zM479.1 451.1h1v1h-1zM480.7 450.2h1v1h-1zM494.5 447.4h1v1h-1zM477.7 450.7h1v1h-1zM473.6 444.8h1v1h-1zM483.1 446.6h1v1h-1zM485.9 447.3h1v1h-1zM491.5 448.3h1v1h-1zM469.8 450.4h1v1h-1zM476.9 447.5h1v1h-1zM481.5 449.4h1v1h-1zM481.1 450.3h1v1h-1zM464.1 458.8h1v1h-1zM483.3 449.5h1v1h-1zM493.6 448.8h1v1h-1zM485.4 449.7h1v1h-1zM477.9 448.7h1v1h-1zM469.1 449.3h1v1h-1zM469.5 452.9h1v1h-1zM478.9 448.7h1v1h-1zM471.8 448.8h1v1h-1zM471.8 450.3h1v1h-1zM463.1 456.2h1v1h-1zM483.6 445.5h1v1h-1zM487.5 447.4h1v1h-1zM478.4 450.5h1v1h-1zM485.1 450.6h1v1h-1zM480.3 454.4h1v1h-1zM495.3 453.7h1v1h-1zM478.2 447.8h1v1h-1zM478.9 451.9h1v1h-1zM467.3 456.8h1v1h-1zM478.6 453.2h1v1h-1zM475.1 447.5h1v1h-1zM474.2 448.4h1v1h-1zM493.9 448.2h1v1h-1zM486.7 451.3h1v1h-1zM489.2 445.4h1v1h-1zM482.2 451.8h1v1h-1zM470.1 448.7h1v1h-1zM479.5 451.5h1v1h-1zM489.3 450.6h1v1h-1zM470.8 452.0h1v1h-1zM477.5 452.9h1v1h-1zM479.0 449.6h1v1h-1zM489.3 449.0h1v1h-1zM479.6 453.5h1v1h-1zM486.5 447.0h1v1h-1zM485.7 447.0h1v1h-1zM476.7 445.6h1v1h-1zM481.4 454.5h1v1h-1zM467.0 448.7h1v1h-1zM474.6 452.9h1v1h-1zM484.9 449.2h1v1h-1zM483.6 450.4h1v1h-1zM483.2 447.9h1v1h-1zM480.1 449.0h1v1h-1zM488.0 451.5h1v1h-1zM486.1 449.1h1v1h-1zM480.6 446.3h1v1h-1zM464.2 450.7h1v1h-1zM502.8 448.3h1v1h-1zM472.0 452.9h1v1h-1zM495.2 448.2h1v1h-1zM477.8 454.1h1v1h-1zM492.1 452.6h1v1h-1zM471.8 449.7h1v1h-1zM480.1 452.5h1v1h-1zM475.7 449.0h1v1h-1zM487.6 448.9h1v1h-1zM489.3 447.5h1v1h-1zM481.5 449.3h1v1h-1zM457.7 448.2h1v1h-1zM481.1 448.6h1v1h-1zM469.8 446.6h1v1h-1zM495.7 452.1h1v1h-1zM475.3 448.2h1v1h-1zM459.1 451.5h1v1h-1zM478.9 444.7h1v1h-1zM467.1 448.6h1v1h-1zM484.8 450.3h1v1h-1zM467.8 444.4h1v1h-1zM484.2 449.8h1v1h-1zM463.9 449.7h1v1h-1zM491.8 454.4h1v1h-1zM479.6 451.4h1v1h-1zM487.3 451.3h1v1h-1zM477.8 450.6h1v1h-1zM500.3 450.2h1v1h-1zM477.9 446.2h1v1h-1zM486.5 453.8h1v1h-1zM478.8 452.0h1v1h-1zM492.0 443.3h1v1h-1zM465.5 452.3h1v1h-1zM464.1 451.4h1v1h-1zM484.9 453.5h1v1h-1zM472.4 449.6h1v1h-1zM469.8 450.9h1v1h-1zM484.3 450.4h1v1h-1zM479.4 449.1h1v1h-1zM454.8 457.6h1v1h-1zM480.5 451.0h1v1h-1zM474.0 448.3h1v1h-1zM468.8 451.6h1v1h-1zM486.9 448.2h1v1h-1zM485.1 454.1h1v1h-1zM493.2 444.8h1v1h-1zM474.1 444.8h1v1h-1zM470.0 457.2h1v1h-1zM505.0 446.7h1v1h-1zM487.9 452.3h1v1h-1zM486.4 449.0h1v1h-1zM470.4 449.4h1v1h-1zM474.8 452.0h1v1h-1zM487.1 449.2h1v1h-1zM449.3 451.3h1v1h-1zM466.1 445.5h1v1h-1zM481.9 450.4h1v1h-1zM460.0 456.2h1v1h-1zM486.0 452.6h1v1h-1zM476.6 445.9h1v1h-1zM461.7 456.1h1v1h-1zM478.5 445.7h1v1h-1zM478.9 448.4h1v1h-1zM477.7 450.2h1v1h-1zM484.5 449.4h1v1h-1zM462.8 449.3h1v1h-1zM473.2 449.6h1v1h-1zM483.5 449.7h1v1h-1zM481.1 450.0h1v1h-1zM480.8 451.8h1v1h-1zM507.0 449.5h1v1h-1zM474.3 450.9h1v1h-1zM472.6 448.5h1v1h-1zM484.9 451.5h1v1h-1zM476.5 450.2h1v1h-1zM487.9 446.5h1v1h-1zM476.8 442.9h1v1h-1zM496.3 448.4h1v1h-1zM472.0 452.7h1v1h-1zM476.2 453.4h1v1h-1zM487.7 445.9h1v1h-1zM479.5 449.6h1v1h-1zM488.1 443.5h1v1h-1zM486.7 449.4h1v1h-1zM487.9 449.6h1v1h-1zM466.6 448.7h1v1h-1zM488.2 450.3h1v1h-1zM480.0 452.7h1v1h-1zM482.7 452.5h1v1h-1zM471.0 448.0h1v1h-1zM484.7 449.3h1v1h-1zM488.0 452.0h1v1h-1zM483.5 448.8h1v1h-1zM485.0 448.0h1v1h-1zM481.6 448.8h1v1h-1zM478.0 452.7h1v1h-1zM484.9 448.5h1v1h-1zM478.2 444.2h1v1h-1zM478.8 451.9h1v1h-1zM484.7 457.9h1v1h-1zM489.9 450.0h1v1h-1zM497.5 452.0h1v1h-1zM491.5 449.5h1v1h-1zM481.1 449.0h1v1h-1zM472.3 447.6h1v1h-1zM483.6 451.0h1v1h-1zM470.3 451.0h1v1h-1zM470.3 453.7h1v1h-1zM461.3 452.5h1v1h-1zM492.6 450.4h1v1h-1zM491.7 442.3h1v1h-1zM469.5 452.1h1v1h-1zM481.5 451.5h1v1h-1zM484.0 450.3h1v1h-1zM495.7 452.1h1v1h-1zM494.7 447.9h1v1h-1zM471.5 452.8h1v1h-1zM483.7 443.4h1v1h-1zM464.7 453.9h1v1h-1zM479.3 452.1h1v1h-1zM480.9 446.9h1v1h-1zM477.5 443.3h1v1h-1zM469.0 447.9h1v1h-1zM476.9 449.8h1v1h-1zM501.7 452.0h1v1h-1zM474.0 446.7h1v1h-1zM480.4 450.9h1v1h-1zM489.9 450.3h1v1h-1zM488.7 450.2h1v1h-1zM476.7 447.8h1v1h-1zM494.9 449.8h1v1h-1zM494.7 443.6h1v1h-1zM482.6 443.3h1v1h-1zM483.6 448.8h1v1h-1zM479.5 446.8h1v1h-1zM486.1 441.8h1v1h-1zM483.5 453.1h1v1h-1zM492.0 450.4h1v1h-1zM463.8 453.2h1v1h-1zM490.0 445.5h1v1h-1zM479.4 447.4h1v1h-1zM495.1 442.9h1v1h-1zM492.5 447.9h1v1h-1zM479.1 448.7h1v1h-1zM480.5 449.3h1v1h-1zM475.9 454.4h1v1h-1zM470.5 449.0h1v1h-1zM478.5 449.1h1v1h-1zM488.4 443.9h1v1h-1zM478.1 454.5h1v1h-1zM467.3 454.7h1v1h-1zM480.1 442.4h1v1h-1zM469.6 443.8h1v1h-1zM480.7 454.6h1v1h-1zM486.9 454.7h1v1h-1zM489.5 450.6h1v1h-1zM491.6 452.6h1v1h-1zM471.9 446.4h1v1h-1zM454.5 452.7h1v1h-1zM479.7 452.2h1v1h-1zM477.7 449.3h1v1h-1zM487.4 445.7h1v1h-1zM486.8 448.3h1v1h-1zM477.1 447.2h1v1h-1zM480.5 455.4h1v1h-1zM488.5 447.4h1v1h-1zM473.2 448.1h1v1h-1zM458.2 446.1h1v1h-1zM483.2 453.7h1v1h-1zM481.3 448.8h1v1h-1zM474.6 451.9h1v1h-1zM492.5 447.7h1v1h-1zM478.5 450.5h1v1h-1zM472.4 450.4h1v1h-1zM482.1 447.4h1v1h-1zM497.2 449.0h1v1h-1zM468.9 448.2h1v1h-1zM488.1 449.4h1v1h-1zM466.9 452.1h1v1h-1zM486.7 451.2h1v1h-1zM474.9 447.3h1v1h-1zM475.5 457.3h1v1h-1zM486.6 449.4h1v1h-1zM504.8 442.9h1v1h-1zM462.1 446.3h1v1h-1zM477.4 450.0h1v1h-1zM471.5 450.1h1v1h-1zM491.4 450.0h1v1h-1zM480.4 444.4h1v1h-1zM470.8 450.2h1v1h-1zM488.2 449.7h1v1h-1zM486.2 451.6h1v1h-1zM478.5 444.0h1v1h-1zM487.7 446.4h1v1h-1zM483.1 446.4h1v1h-1zM489.1 447.8h1v1h-1zM468.7 449.6h1v1h-1zM486.0 448.8h1v1h-1zM488.9 445.3h1v1h-1zM470.9 451.6h1v1h-1zM495.0 447.3h1v1h-1zM482.3 455.6h1v1h-1zM474.1 446.6h1v1h-1zM477.4 455.1h1v1h-1zM479.5 453.4h1v1h-1zM484.4 447.2h1v1h-1zM466.5 452.2h1v1h-1zM468.5 452.4h1v1h-1zM492.8 444.6h1v1h-1zM466.4 444.1h1v1h-1zM499.8 446.0h1v1h-1zM478.3 445.2h1v1h-1zM465.3 452.6h1v1h-1zM470.9 444.8h1v1h-1zM496.6 453.8h1v1h-1zM482.0 456.4h1v1h-1zM469.4 448.0h1v1h-1zM492.5 441.3h1v1h-1zM484.8 449.6h1v1h-1zM473.4 448.2h1v1h-1zM468.5 450.1h1v1h-1zM464.3 445.9h1v1h-1zM480.1 444.5h1v1h-1zM484.9 450.2h1v1h-1zM494.9 443.2h1v1h-1zM495.4 440.9h1v1h-1zM489.9 449.5h1v1h-1zM465.2 452.6h1v1h-1zM474.1 448.7h1v1h-1zM485.3 445.1h1v1h-1zM477.4 454.5h1v1h-1zM481.2 447.8h1v1h-1zM475.6 451.7h1v1h-1zM480.1 444.8h1v1h-1zM490.2 443.5h1v1h-1zM485.2 449.1h1v1h-1zM465.7 455.6h1v1h-1zM475.5 446.3h1v1h-1zM468.5 448.5h1v1h-1zM463.6 449.7h1v1h-1zM489.8 452.3h1v1h-1zM479.8 449.0h1v1h-1zM504.6 447.5h1v1h-1zM486.8 451.2h1v1h-1zM485.3 450.8h1v1h-1zM475.0 454.9h1v1h-1zM472.8 445.8h1v1h-1zM487.9 449.1h1v1h-1zM475.1 450.8h1v1h-1zM495.9 443.4h1v1h-1zM490.1 448.4h1v1h-1zM490.1 448.8h1v1h-1zM482.3 447.7h1v1h-1zM471.1 448.0h1v1h-1zM492.6 451.7h1v1h-1zM474.7 450.6h1v1h-1zM480.5 448.9h1v1h-1zM488.5 449.0h1v1h-1zM477.0 448.0h1v1h-1zM476.2 450.4h1v1h-1zM467.1 452.2h1v1h-1zM491.5 445.1h1v1h-1zM498.0 446.8h1v1h-1zM472.1 449.9h1v1h-1zM492.4 448.2h1v1h-1zM500.3 445.5h1v1h-1zM498.8 447.0h1v1h-1zM491.6 446.3h1v1h-1zM474.5 447.0h1v1h-1zM466.6 449.0h1v1h-1zM474.3 444.7h1v1h-1zM486.4 450.3h1v1h-1zM495.6 448.5h1v1h-1zM494.7 444.6h1v1h-1zM480.4 446.1h1v1h-1zM486.1 445.6h1v1h-1zM477.4 445.6h1v1h-1zM463.5 447.4h1v1h-1zM475.1 451.3h1v1h-1zM492.4 446.7h1v1h-1zM489.7 450.8h1v1h-1zM482.9 450.4h1v1h-1zM482.1 450.2h1v1h-1zM505.4 442.0h1v1h-1zM486.6 453.9h1v1h-1zM478.9 448.7h1v1h-1zM467.7 443.3h1v1h-1zM475.4 448.8h1v1h-1zM485.8 447.3h1v1h-1zM476.5 451.3h1v1h-1zM486.7 445.1h1v1h-1zM476.8 449.9h1v1h-1zM509.1 444.5h1v1h-1zM477.5 453.2h1v1h-1zM490.9 446.9h1v1h-1zM474.2 451.3h1v1h-1zM484.6 451.7h1v1h-1zM490.6 445.3h1v1h-1zM483.8 449.6h1v1h-1zM464.4 451.0h1v1h-1zM496.3 452.3h1v1h-1zM488.4 450.1h1v1h-1zM472.1 447.7h1v1h-1zM476.5 455.4h1v1h-1zM487.5 446.6h1v1h-1zM472.8 449.8h1v1h-1zM487.2 448.7h1v1h-1zM467.9 452.4h1v1h-1zM481.8 446.8h1v1h-1zM488.8 447.4h1v1h-1zM476.2 448.4h1v1h-1zM481.9 449.6h1v1h-1zM484.4 446.1h1v1h-1zM495.2 446.0h1v1h-1zM492.7 443.2h1v1h-1zM482.8 454.3h1v1h-1zM483.2 450.4h1v1h-1zM476.6 453.5h1v1h-1zM476.4 447.3h1v1h-1zM475.6 444.1h1v1h-1zM474.5 444.6h1v1h-1zM488.7 444.2h1v1h-1zM477.3 451.1h1v1h-1zM471.2 448.9h1v1h-1zM471.4 448.4h1v1h-1zM478.6 445.3h1v1h-1zM484.2 453.9h1v1h-1zM473.7 445.5h1v1h-1zM469.3 449.7h1v1h-1zM481.4 448.1h1v1h-1zM489.2 447.6h1v1h-1zM469.2 449.9h1v1h-1zM475.0 450.9h1v1h-1zM460.2 459.9h1v1h-1zM503.9 450.0h1v1h-1zM468.8 451.5h1v1h-1zM467.1 447.3h1v1h-1zM481.8 453.8h1v1h-1zM475.8 454.7h1v1h-1zM487.1 446.6h1v1h-1zM470.8 452.0h1v1h-1zM480.4 441.8h1v1h-1zM481.4 445.8h1v1h-1zM484.7 452.2h1v1h-1zM498.2 441.6h1v1h-1zM479.0 451.5h1v1h-1zM470.9 453.9h1v1h-1zM483.9 444.2h1v1h-1zM472.1 449.8h1v1h-1zM488.8 453.1h1v1h-1zM482.2 456.7h1v1h-1zM480.7 449.5h1v1h-1zM463.6 456.1h1v1h-1zM463.9 448.6h1v1h-1zM473.3 448.0h1v1h-1zM478.8 451.0h1v1h-1zM458.4 454.3h1v1h-1zM474.4 450.7h1v1h-1zM481.5 453.0h1v1h-1zM473.1 453.0h1v1h-1zM488.7 452.9h1v1h-1zM481.8 451.9h1v1h-1zM495.1 448.2h1v1h-1zM472.3 451.1h1v1h-1zM483.9 449.1h1v1h-1zM451.6 453.6h1v1h-1zM471.1 454.4h1v1h-1zM488.9 452.1h1v1h-1zM475.1 454.8h1v1h-1zM474.1 453.6h1v1h-1zM466.9 454.3h1v1h-1zM496.3 445.4h1v1h-1zM492.1 447.4h1v1h-1zM479.0 448.5h1v1h-1zM482.7 447.2h1v1h-1zM479.2 442.1h1v1h-1zM465.2 453.7h1v1h-1zM482.5 446.1h1v1h-1zM473.7 448.0h1v1h-1zM471.2 448.4h1v1h-1zM490.2 453.5h1v1h-1zM479.5 451.1h1v1h-1zM468.8 455.7h1v1h-1zM484.7 449.0h1v1h-1zM478.8 452.3h1v1h-1zM482.6 451.9h1v1h-1zM478.0 449.4h1v1h-1zM482.4 449.8h1v1h-1zM482.1 443.9h1v1h-1zM470.1 447.4h1v1h-1zM500.6 447.5h1v1h-1zM481.8 441.9h1v1h-1zM454.3 453.3h1v1h-1zM489.3 449.0h1v1h-1zM464.3 449.2h1v1h-1zM483.2 451.6h1v1h-1zM495.0 449.3h1v1h-1zM476.3 453.5h1v1h-1zM478.2 450.3h1v1h-1zM491.1 450.1h1v1h-1zM485.6 449.8h1v1h-1zM484.8 444.6h1v1h-1zM477.6 449.6h1v1h-1zM479.8 449.0h1v1h-1zM460.1 452.0h1v1h-1zM475.0 450.1h1v1h-1zM477.9 452.2h1v1h-1zM485.5 448.5h1v1h-1zM484.2 446.6h1v1h-1zM466.0 452.7h1v1h-1zM471.3 443.7h1v1h-1zM456.6 447.5h1v1h-1zM477.4 453.4h1v1h-1zM494.0 443.0h1v1h-1zM480.6 450.1h1v1h-1zM471.0 446.9h1v1h-1zM480.0 451.3h1v1h-1zM476.9 450.7h1v1h-1zM466.1 454.1h1v1h-1zM469.4 452.2h1v1h-1zM476.4 453.4h1v1h-1zM486.7 445.6h1v1h-1zM472.4 454.9h1v1h-1zM471.5 448.8h1v1h-1zM464.3 453.7h1v1h-1zM477.8 448.9h1v1h-1zM467.3 454.3h1v1h-1zM496.4 448.7h1v1h-1zM479.1 450.1h1v1h-1zM447.1 455.0h1v1h-1zM492.2 447.8h1v1h-1zM481.0 449.2h1v1h-1zM477.5 454.1h1v1h-1zM479.8 451.2h1v1h-1zM471.8 450.6h1v1h-1zM468.8 449.4h1v1h-1zM470.4 454.2h1v1h-1zM476.4 447.3h1v1h-1zM481.9 448.9h1v1h-1zM497.6 443.7h1v1h-1zM481.9 447.2h1v1h-1zM486.4 448.1h1v1h-1zM488.1 449.5h1v1h-1zM470.3 450.3h1v1h-1zM468.4 453.6h1v1h-1zM469.5 444.8h1v1h-1zM493.8 454.3h1v1h-1zM464.4 453.0h1v1h-1zM484.1 450.4h1v1h-1zM470.0 447.9h1v1h-1zM504.3 449.6h1v1h-1zM464.8 448.8h1v1h-1zM466.0 450.9h1v1h-1zM473.4 450.8h1v1h-1zM467.1 452.6h1v1h-1zM486.1 450.3h1v1h-1zM487.9 445.8h1v1h-1zM488.3 444.5h1v1h-1zM499.8 451.4h1v1h-1zM469.3 453.2h1v1h-1zM480.4 451.3h1v1h-1zM474.9 451.5h1v1h-1zM471.4 452.1h1v1h-1zM482.4 443.5h1v1h-1zM500.9 447.3h1v1h-1zM469.8 453.8h1v1h-1zM501.2 447.5h1v1h-1zM482.3 451.7h1v1h-1zM474.4 451.6h1v1h-1zM467.3 449.8h1v1h-1zM487.8 446.4h1v1h-1zM480.7 449.2h1v1h-1zM477.7 453.2h1v1h-1zM473.0 445.6h1v1h-1zM477.7 452.8h1v1h-1zM475.5 444.3h1v1h-1zM480.6 455.8h1v1h-1zM460.5 451.5h1v1h-1zM481.7 450.0h1v1h-1zM489.2 447.2h1v1h-1zM487.3 451.9h1v1h-1zM465.6 449.2h1v1h-1zM480.3 454.0h1v1h-1zM482.1 456.3h1v1h-1zM490.8 448.6h1v1h-1zM488.2 446.2h1v1h-1zM489.7 451.1h1v1h-1zM477.8 447.8h1v1h-1zM486.2 448.1h1v1h-1zM478.1 450.7h1v1h-1zM476.3 453.5h1v1h-1zM463.6 448.3h1v1h-1zM482.6 451.7h1v1h-1zM477.2 451.7h1v1h-1zM463.5 451.4h1v1h-1zM492.6 450.5h1v1h-1zM475.3 450.6h1v1h-1zM483.2 448.3h1v1h-1zM482.8 443.3h1v1h-1zM477.4 442.5h1v1h-1zM481.4 449.8h1v1h-1zM488.5 450.9h1v1h-1zM471.4 447.6h1v1h-1zM465.8 450.4h1v1h-1zM489.8 453.4h1v1h-1zM484.6 451.8h1v1h-1zM471.8 445.2h1v1h-1zM490.1 450.5h1v1h-1zM467.3 450.2h1v1h-1zM480.6 451.2h1v1h-1zM483.0 449.5h1v1h-1zM479.7 446.7h1v1h-1zM484.2 455.4h1v1h-1zM474.6 442.2h1v1h-1zM463.2 448.1h1v1h-1zM473.6 453.7h1v1h-1zM485.4 448.4h1v1h-1zM480.1 450.2h1v1h-1zM479.2 446.3h1v1h-1zM476.4 452.0h1v1h-1zM490.7 445.6h1v1h-1zM474.5 446.0h1v1h-1zM482.5 445.1h1v1h-1zM482.6 452.2h1v1h-1zM470.3 449.9h1v1h-1zM487.8 450.3h1v1h-1zM484.2 449.7h1v1h-1zM485.7 447.7h1v1h-1zM466.1 446.9h1v1h-1zM491.6 448.5h1v1h-1zM475.8 451.4h1v1h-1zM479.3 445.5h1v1h-1zM483.7 446.7h1v1h-1zM488.6 445.3h1v1h-1zM474.1 443.2h1v1h-1zM482.8 449.6h1v1h-1zM479.8 450.8h1v1h-1zM479.2 448.8h1v1h-1zM479.3 449.8h1v1h-1zM469.9 450.7h1v1h-1zM478.9 452.9h1v1h-1zM491.4 450.2h1v1h-1zM469.5 453.1h1v1h-1zM463.2 448.6h1v1h-1zM493.6 449.0h1v1h-1zM465.7 450.6h1v1h-1zM476.0 446.1h1v1h-1zM473.1 451.2h1v1h-1zM481.6 443.7h1v1h-1zM475.5 446.0h1v1h-1zM483.9 451.9h1v1h-1zM474.4 451.7h1v1h-1zM468.1 444.6h1v1h-1zM503.1 447.5h1v1h-1zM480.3 449.3h1v1h-1zM484.3 447.6h1v1h-1zM466.8 447.0h1v1h-1zM472.2 448.9h1v1h-1zM474.5 451.9h1v1h-1zM489.1 453.6h1v1h-1zM471.2 452.7h1v1h-1zM484.3 445.8h1v1h-1zM476.3 451.6h1v1h-1zM472.7 456.4h1v1h-1zM486.7 447.7h1v1h-1zM482.5 444.8h1v1h-1zM469.2 453.6h1v1h-1zM486.1 446.5h1v1h-1zM466.8 450.7h1v1h-1zM484.6 449.6h1v1h-1zM478.7 448.6h1v1h-1zM502.0 446.5h1v1h-1zM484.8 450.5h1v1h-1zM500.9 448.9h1v1h-1zM485.5 449.4h1v1h-1zM475.8 452.0h1v1h-1zM486.9 449.3h1v1h-1zM465.0 448.8h1v1h-1zM467.5 456.1h1v1h-1zM478.6 450.3h1v1h-1zM494.9 449.0h1v1h-1zM488.9 451.4h1v1h-1zM466.1 450.4h1v1h-1zM459.1 447.3h1v1h-1zM482.5 443.6h1v1h-1zM463.9 449.7h1v1h-1zM468.3 453.7h1v1h-1zM473.0 451.1h1v1h-1zM469.6 452.1h1v1h-1zM470.9 448.7h1v1h-1zM477.1 445.0h1v1h-1zM488.9 447.2h1v1h-1zM472.8 444.2h1v1h-1zM479.7 446.3h1v1h-1zM483.7 450.1h1v1h-1zM484.3 446.4h1v1h-1zM478.3 444.6h1v1h-1zM471.8 451.3h1v1h-1zM478.5 450.4h1v1h-1zM464.6 451.0h1v1h-1zM478.4 443.3h1v1h-1zM491.7 449.5h1v1h-1zM485.1 447.2h1v1h-1zM449.3 453.8h1v1h-1zM484.7 451.4h1v1h-1zM484.8 449.5h1v1h-1zM475.8 453.1h1v1h-1zM486.1 450.2h1v1h-1zM485.9 446.7h1v1h-1zM477.8 447.3h1v1h-1zM476.7 455.1h1v1h-1zM467.6 457.1h1v1h-1zM489.5 447.0h1v1h-1zM457.1 452.5h1v1h-1zM482.9 450.1h1v1h-1zM475.6 452.0h1v1h-1zM479.9 444.4h1v1h-1zM475.1 452.2h1v1h-1zM478.6 450.0h1v1h-1zM470.5 451.1h1v1h-1zM470.0 449.4h1v1h-1zM495.8 451.9h1v1h-1zM475.9 448.9h1v1h-1zM492.8 453.6h1v1h-1zM487.0 453.6h1v1h-1zM481.3 447.8h1v1h-1zM482.4 452.3h1v1h-1zM478.9 452.8h1v1h-1zM488.8 447.7h1v1h-1zM478.3 443.0h1v1h-1zM475.5 449.2h1v1h-1zM486.0 450.0h1v1h-1zM479.2 456.8h1v1h-1zM484.6 453.2h1v1h-1zM473.1 453.5h1v1h-1zM478.8 450.7h1v1h-1zM488.8 451.6h1v1h-1zM488.8 446.1h1v1h-1zM468.5 448.5h1v1h-1zM478.2 445.9h1v1h-1zM468.7 447.5h1v1h-1zM487.0 448.4h1v1h-1zM469.9 457.1h1v1h-1zM461.5 447.5h1v1h-1zM467.8 452.0h1v1h-1zM467.4 451.2h1v1h-1zM502.7 441.3h1v1h-1zM473.3 449.9h1v1h-1zM486.5 442.2h1v1h-1zM471.8 454.0h1v1h-1zM483.0 451.8h1v1h-1zM491.4 445.8h1v1h-1zM488.3 447.3h1v1h-1zM492.5 446.4h1v1h-1zM488.5 446.4h1v1h-1zM477.0 452.1h1v1h-1zM484.1 445.4h1v1h-1zM480.6 448.2h1v1h-1zM474.4 446.3h1v1h-1zM500.3 450.6h1v1h-1zM469.7 451.0h1v1h-1zM466.7 454.2h1v1h-1zM474.1 447.4h1v1h-1zM490.1 440.0h1v1h-1zM475.4 451.6h1v1h-1zM481.8 450.2h1v1h-1zM472.2 452.9h1v1h-1zM491.3 447.8h1v1h-1zM482.6 451.0h1v1h-1zM480.2 451.9h1v1h-1zM493.4 446.0h1v1h-1zM471.2 443.4h1v1h-1zM493.9 449.6h1v1h-1zM487.9 448.8h1v1h-1zM467.6 449.2h1v1h-1zM477.8 445.5h1v1h-1zM484.4 454.0h1v1h-1zM469.0 450.9h1v1h-1zM471.2 450.5h1v1h-1zM493.5 444.7h1v1h-1zM506.6 443.7h1v1h-1zM495.6 448.0h1v1h-1zM485.6 444.4h1v1h-1zM480.9 452.8h1v1h-1zM470.0 448.8h1v1h-1zM487.3 452.2h1v1h-1zM474.7 450.1h1v1h-1zM480.2 446.6h1v1h-1zM481.1 455.2h1v1h-1zM488.2 448.0h1v1h-1zM485.3 446.9h1v1h-1zM458.4 454.5h1v1h-1zM473.9 451.0h1v1h-1zM489.4 448.1h1v1h-1zM492.6 441.5h1v1h-1zM487.5 442.9h1v1h-1z" fill="#2a2a2a" />
<line x1="401.8" y1="438.5" x2="511.1" y2="438.5" stroke="#444" stroke-width="1"/>
<line x1="511.1" y1="438.5" x2="511.1" y2="546.8" stroke="#666" stroke-width="1"/>
<line x1="401.3" y1="546.8" x2="511.6" y2="546.8" stroke="#222" stroke-width="1.2"/>
<line x1="401.8" y1="438.0" x2="401.8" y2="546.8" stroke="#333" stroke-width="1.2"/>
<line x1="467.2" y1="438.5" x2="467.2" y2="546.8" stroke="#777" stroke-width="1"/>
<line x1="401.8" y1="485.2" x2="511.1" y2="485.2" stroke="#808080" stroke-width="1.1"/>
<line x1="399.2" y1="447.9" x2="401.8" y2="447.9" stroke="#333" stroke-width="0.9"/>
<text x="396.4" y="450.2" text-anchor="end" font-size="7.3" fill="#222">10<tspan dx="0.4" dy="-2.7" font-size="5.2">5</tspan></text>
<line x1="399.2" y1="472.3" x2="401.8" y2="472.3" stroke="#333" stroke-width="0.9"/>
<text x="396.4" y="474.6" text-anchor="end" font-size="7.3" fill="#222">10<tspan dx="0.4" dy="-2.7" font-size="5.2">4</tspan></text>
<line x1="399.2" y1="497.5" x2="401.8" y2="497.5" stroke="#333" stroke-width="0.9"/>
<text x="396.4" y="499.8" text-anchor="end" font-size="7.3" fill="#222">10<tspan dx="0.4" dy="-2.7" font-size="5.2">3</tspan></text>
<line x1="399.2" y1="523.5" x2="401.8" y2="523.5" stroke="#333" stroke-width="0.9"/>
<text x="396.4" y="525.8" text-anchor="end" font-size="7.3" fill="#222">10<tspan dx="0.4" dy="-2.7" font-size="5.2">2</tspan></text>
<line x1="399.2" y1="535.8" x2="401.8" y2="535.8" stroke="#333" stroke-width="0.9"/>
<text x="396.2" y="538.2" text-anchor="end" font-size="7" fill="#222">0</text>
<line x1="400.4" y1="465.0" x2="401.8" y2="465.0" stroke="#444" stroke-width="0.7"/>
<line x1="400.4" y1="460.7" x2="401.8" y2="460.7" stroke="#444" stroke-width="0.7"/>
<line x1="400.4" y1="457.6" x2="401.8" y2="457.6" stroke="#444" stroke-width="0.7"/>
<line x1="400.4" y1="455.2" x2="401.8" y2="455.2" stroke="#444" stroke-width="0.7"/>
<line x1="400.4" y1="453.3" x2="401.8" y2="453.3" stroke="#444" stroke-width="0.7"/>
<line x1="400.4" y1="451.7" x2="401.8" y2="451.7" stroke="#444" stroke-width="0.7"/>
<line x1="400.4" y1="450.3" x2="401.8" y2="450.3" stroke="#444" stroke-width="0.7"/>
<line x1="400.4" y1="449.0" x2="401.8" y2="449.0" stroke="#444" stroke-width="0.7"/>
<line x1="400.4" y1="489.9" x2="401.8" y2="489.9" stroke="#444" stroke-width="0.7"/>
<line x1="400.4" y1="485.5" x2="401.8" y2="485.5" stroke="#444" stroke-width="0.7"/>
<line x1="400.4" y1="482.3" x2="401.8" y2="482.3" stroke="#444" stroke-width="0.7"/>
<line x1="400.4" y1="479.9" x2="401.8" y2="479.9" stroke="#444" stroke-width="0.7"/>
<line x1="400.4" y1="477.9" x2="401.8" y2="477.9" stroke="#444" stroke-width="0.7"/>
<line x1="400.4" y1="476.2" x2="401.8" y2="476.2" stroke="#444" stroke-width="0.7"/>
<line x1="400.4" y1="474.7" x2="401.8" y2="474.7" stroke="#444" stroke-width="0.7"/>
<line x1="400.4" y1="473.5" x2="401.8" y2="473.5" stroke="#444" stroke-width="0.7"/>
<line x1="400.4" y1="515.7" x2="401.8" y2="515.7" stroke="#444" stroke-width="0.7"/>
<line x1="400.4" y1="511.1" x2="401.8" y2="511.1" stroke="#444" stroke-width="0.7"/>
<line x1="400.4" y1="507.8" x2="401.8" y2="507.8" stroke="#444" stroke-width="0.7"/>
<line x1="400.4" y1="505.3" x2="401.8" y2="505.3" stroke="#444" stroke-width="0.7"/>
<line x1="400.4" y1="503.3" x2="401.8" y2="503.3" stroke="#444" stroke-width="0.7"/>
<line x1="400.4" y1="501.5" x2="401.8" y2="501.5" stroke="#444" stroke-width="0.7"/>
<line x1="400.4" y1="500.0" x2="401.8" y2="500.0" stroke="#444" stroke-width="0.7"/>
<line x1="400.4" y1="498.7" x2="401.8" y2="498.7" stroke="#444" stroke-width="0.7"/>
<line x1="413.6" y1="546.8" x2="413.6" y2="549.1" stroke="#333" stroke-width="0.9"/>
<text x="413.9" y="559.9" text-anchor="middle" font-size="7" fill="#222">0</text>
<line x1="423.6" y1="546.8" x2="423.6" y2="549.1" stroke="#333" stroke-width="0.9"/>
<text x="423.3" y="559.9" text-anchor="middle" font-size="7.5" fill="#222">10<tspan dx="0.4" dy="-2.8" font-size="5.3">2</tspan></text>
<line x1="450.5" y1="546.8" x2="450.5" y2="549.1" stroke="#333" stroke-width="0.9"/>
<text x="450.2" y="559.9" text-anchor="middle" font-size="7.5" fill="#222">10<tspan dx="0.4" dy="-2.8" font-size="5.3">3</tspan></text>
<line x1="475.9" y1="546.8" x2="475.9" y2="549.1" stroke="#333" stroke-width="0.9"/>
<text x="475.6" y="559.9" text-anchor="middle" font-size="7.5" fill="#222">10<tspan dx="0.4" dy="-2.8" font-size="5.3">4</tspan></text>
<line x1="501.3" y1="546.8" x2="501.3" y2="549.1" stroke="#333" stroke-width="0.9"/>
<text x="501.0" y="559.9" text-anchor="middle" font-size="7.5" fill="#222">10<tspan dx="0.4" dy="-2.8" font-size="5.3">5</tspan></text>
<line x1="458.1" y1="546.8" x2="458.1" y2="548.2" stroke="#444" stroke-width="0.7"/>
<line x1="462.6" y1="546.8" x2="462.6" y2="548.2" stroke="#444" stroke-width="0.7"/>
<line x1="465.8" y1="546.8" x2="465.8" y2="548.2" stroke="#444" stroke-width="0.7"/>
<line x1="468.3" y1="546.8" x2="468.3" y2="548.2" stroke="#444" stroke-width="0.7"/>
<line x1="470.3" y1="546.8" x2="470.3" y2="548.2" stroke="#444" stroke-width="0.7"/>
<line x1="472.0" y1="546.8" x2="472.0" y2="548.2" stroke="#444" stroke-width="0.7"/>
<line x1="473.4" y1="546.8" x2="473.4" y2="548.2" stroke="#444" stroke-width="0.7"/>
<line x1="474.7" y1="546.8" x2="474.7" y2="548.2" stroke="#444" stroke-width="0.7"/>
<line x1="483.5" y1="546.8" x2="483.5" y2="548.2" stroke="#444" stroke-width="0.7"/>
<line x1="488.0" y1="546.8" x2="488.0" y2="548.2" stroke="#444" stroke-width="0.7"/>
<line x1="491.2" y1="546.8" x2="491.2" y2="548.2" stroke="#444" stroke-width="0.7"/>
<line x1="493.7" y1="546.8" x2="493.7" y2="548.2" stroke="#444" stroke-width="0.7"/>
<line x1="495.7" y1="546.8" x2="495.7" y2="548.2" stroke="#444" stroke-width="0.7"/>
<line x1="497.4" y1="546.8" x2="497.4" y2="548.2" stroke="#444" stroke-width="0.7"/>
<line x1="498.8" y1="546.8" x2="498.8" y2="548.2" stroke="#444" stroke-width="0.7"/>
<line x1="500.1" y1="546.8" x2="500.1" y2="548.2" stroke="#444" stroke-width="0.7"/>
<text x="404.1" y="446.6" font-size="7.2" letter-spacing="0.25" fill="#222">7.9</text>
<text x="509.8" y="446.6" text-anchor="end" font-size="7.2" letter-spacing="0.25" fill="#222">89.6</text>
<text x="403.9" y="541.3" font-size="7.2" letter-spacing="0.25" fill="#222">1.19</text>
<text x="509.8" y="541.3" text-anchor="end" font-size="7.2" letter-spacing="0.25" fill="#222">1.37</text>
<text x="204.8" y="98.6" font-size="9.6" fill="#222">MIG</text>
<text x="200.7" y="232.4" font-size="9" fill="#222">Hhex</text>
<text x="200.1" y="365.8" font-size="9" fill="#222">ERT2</text>
<text x="200.1" y="492.9" font-size="9" fill="#222">Hhex</text>
<text x="200.1" y="504.3" font-size="9" fill="#222">ERT2</text>
<text transform="translate(233.9,310.6) rotate(-90)" font-size="7.8" fill="#222" textLength="11.3" lengthAdjust="spacingAndGlyphs">GFP</text>
<text x="376.1" y="581.7" font-size="9.2" font-weight="bold" fill="#333" textLength="18.2" lengthAdjust="spacingAndGlyphs">Mac-1</text>
<line x1="239.6" y1="46" x2="239.6" y2="547" stroke="#111" stroke-width="1.3"/>
<path d="M239.5 38 L234.9 48.7 L239.5 47.2 L244 48.7 Z" fill="#111"/>
<line x1="266" y1="569.9" x2="507" y2="569.9" stroke="#111" stroke-width="1.6"/>
<path d="M512.4 569.9 L502.3 565.6 L504.6 569.9 L502.3 574.2 Z" fill="#111"/>
</svg>
</body></html>
